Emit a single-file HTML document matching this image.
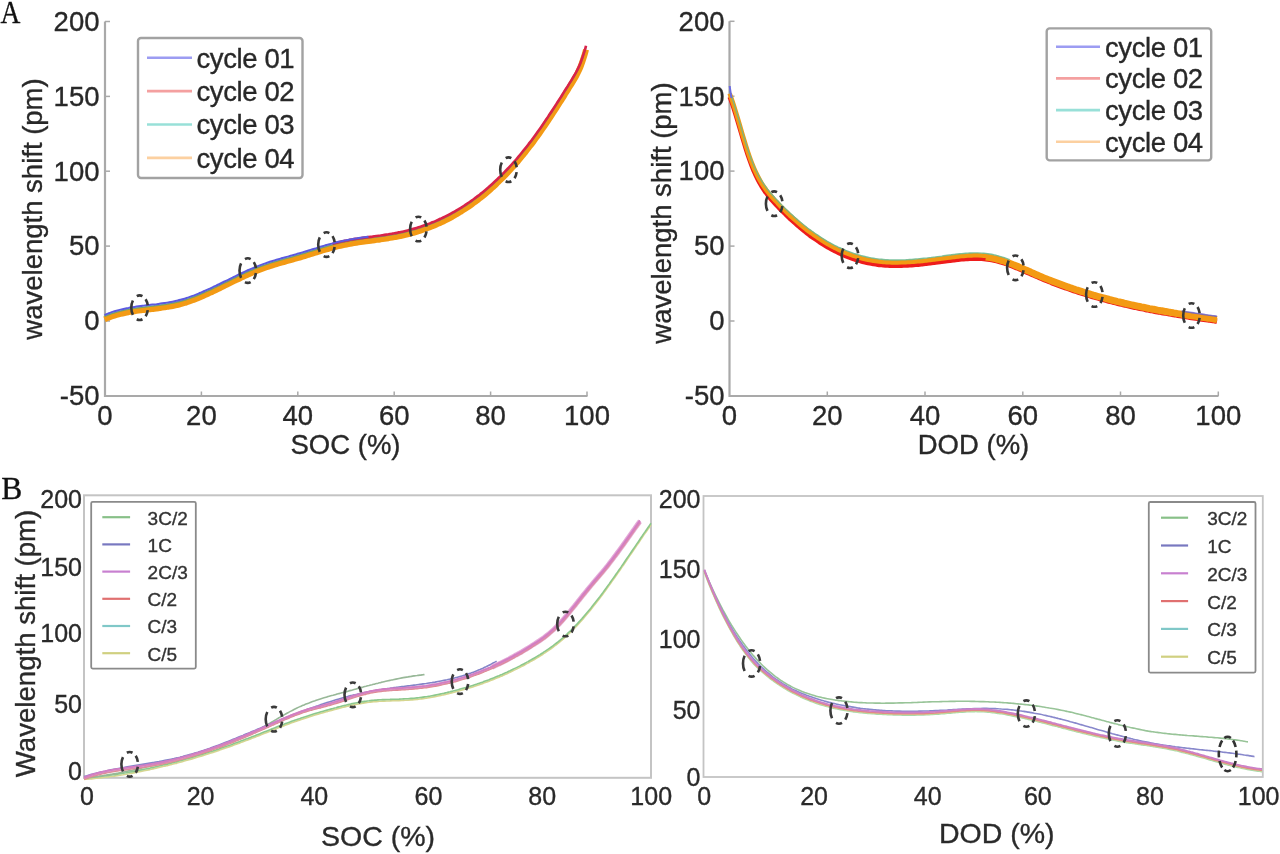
<!DOCTYPE html>
<html><head><meta charset="utf-8"><style>
html,body{margin:0;padding:0;background:#fff;width:1280px;height:854px;overflow:hidden}
svg{display:block;filter:blur(0.5px)}
</style></head><body>
<svg width="1280" height="854" viewBox="0 0 1280 854">
<rect width="1280" height="854" fill="#fff"/>
<g>
<path d="M105,21.5 V396 H587.5" fill="none" stroke="#a9a9a9" stroke-width="2.2"/>
<line x1="105" y1="21.5" x2="110" y2="21.5" stroke="#a9a9a9" stroke-width="1.5"/>
<line x1="105" y1="96.4" x2="110" y2="96.4" stroke="#a9a9a9" stroke-width="1.5"/>
<line x1="105" y1="171.2" x2="110" y2="171.2" stroke="#a9a9a9" stroke-width="1.5"/>
<line x1="105" y1="246.1" x2="110" y2="246.1" stroke="#a9a9a9" stroke-width="1.5"/>
<line x1="105" y1="321.0" x2="110" y2="321.0" stroke="#a9a9a9" stroke-width="1.5"/>
<line x1="201.4" y1="396" x2="201.4" y2="391.5" stroke="#a9a9a9" stroke-width="1.5"/>
<line x1="297.8" y1="396" x2="297.8" y2="391.5" stroke="#a9a9a9" stroke-width="1.5"/>
<line x1="394.2" y1="396" x2="394.2" y2="391.5" stroke="#a9a9a9" stroke-width="1.5"/>
<line x1="490.6" y1="396" x2="490.6" y2="391.5" stroke="#a9a9a9" stroke-width="1.5"/>
<line x1="587.0" y1="396" x2="587.0" y2="391.5" stroke="#a9a9a9" stroke-width="1.5"/>
<text x="99.5" y="30.8" font-family='"Liberation Sans", sans-serif' font-size="27.5" text-anchor="end" fill="#282828" stroke="#282828" stroke-width="0.35" >200</text>
<text x="99.5" y="105.7" font-family='"Liberation Sans", sans-serif' font-size="27.5" text-anchor="end" fill="#282828" stroke="#282828" stroke-width="0.35" >150</text>
<text x="99.5" y="180.5" font-family='"Liberation Sans", sans-serif' font-size="27.5" text-anchor="end" fill="#282828" stroke="#282828" stroke-width="0.35" >100</text>
<text x="99.5" y="255.4" font-family='"Liberation Sans", sans-serif' font-size="27.5" text-anchor="end" fill="#282828" stroke="#282828" stroke-width="0.35" >50</text>
<text x="99.5" y="330.3" font-family='"Liberation Sans", sans-serif' font-size="27.5" text-anchor="end" fill="#282828" stroke="#282828" stroke-width="0.35" >0</text>
<text x="99.5" y="405.2" font-family='"Liberation Sans", sans-serif' font-size="27.5" text-anchor="end" fill="#282828" stroke="#282828" stroke-width="0.35" >-50</text>
<text x="105.0" y="425.0" font-family='"Liberation Sans", sans-serif' font-size="27.5" text-anchor="middle" fill="#282828" stroke="#282828" stroke-width="0.35" >0</text>
<text x="201.4" y="425.0" font-family='"Liberation Sans", sans-serif' font-size="27.5" text-anchor="middle" fill="#282828" stroke="#282828" stroke-width="0.35" >20</text>
<text x="297.8" y="425.0" font-family='"Liberation Sans", sans-serif' font-size="27.5" text-anchor="middle" fill="#282828" stroke="#282828" stroke-width="0.35" >40</text>
<text x="394.2" y="425.0" font-family='"Liberation Sans", sans-serif' font-size="27.5" text-anchor="middle" fill="#282828" stroke="#282828" stroke-width="0.35" >60</text>
<text x="490.6" y="425.0" font-family='"Liberation Sans", sans-serif' font-size="27.5" text-anchor="middle" fill="#282828" stroke="#282828" stroke-width="0.35" >80</text>
<text x="587.0" y="425.0" font-family='"Liberation Sans", sans-serif' font-size="27.5" text-anchor="middle" fill="#282828" stroke="#282828" stroke-width="0.35" >100</text>
<text x="345.5" y="454.0" font-family='"Liberation Sans", sans-serif' font-size="27.5" text-anchor="middle" fill="#282828" stroke="#282828" stroke-width="0.35" >SOC (%)</text>
<text x="0.0" y="0.0" font-family='"Liberation Sans", sans-serif' font-size="27.5" text-anchor="middle" fill="#282828" stroke="#282828" stroke-width="0.35" transform="translate(41.6,209) rotate(-90)">wavelength shift (pm)</text>
</g>
<path d="M104.5,319.3 C105.2,319.0 107.2,318.2 108.5,317.6 C109.8,317.1 111.2,316.7 112.5,316.2 C113.8,315.8 115.2,315.4 116.5,315.0 C117.8,314.6 119.2,314.2 120.5,313.9 C121.8,313.6 123.2,313.3 124.5,313.0 C125.8,312.7 127.2,312.4 128.5,312.2 C129.8,311.9 131.2,311.7 132.5,311.5 C133.8,311.3 135.2,311.1 136.5,310.9 C137.8,310.7 139.2,310.5 140.5,310.3 C141.8,310.2 143.2,310.0 144.5,309.9 C145.8,309.7 147.2,309.5 148.5,309.4 C149.8,309.2 151.2,309.1 152.5,308.9 C153.8,308.8 155.2,308.6 156.5,308.5 C157.8,308.3 159.2,308.1 160.5,307.9 C161.8,307.8 163.2,307.6 164.5,307.4 C165.8,307.2 167.2,307.0 168.5,306.7 C169.8,306.5 171.2,306.3 172.5,306.0 C173.8,305.7 175.2,305.4 176.5,305.1 C177.8,304.8 179.2,304.5 180.5,304.1 C181.8,303.8 183.2,303.4 184.5,303.0 C185.8,302.6 187.2,302.1 188.5,301.7 C189.8,301.2 191.2,300.7 192.5,300.2 C193.8,299.8 195.2,299.2 196.5,298.7 C197.8,298.2 199.2,297.6 200.5,297.1 C201.8,296.5 203.2,295.9 204.5,295.3 C205.8,294.8 207.2,294.1 208.5,293.5 C209.8,292.9 211.2,292.3 212.5,291.7 C213.8,291.0 215.2,290.4 216.5,289.8 C217.8,289.1 219.2,288.5 220.5,287.8 C221.8,287.2 223.2,286.5 224.5,285.8 C225.8,285.2 227.2,284.5 228.5,283.9 C229.8,283.2 231.2,282.5 232.5,281.9 C233.8,281.2 235.2,280.6 236.5,279.9 C237.8,279.3 239.2,278.7 240.5,278.0 C241.8,277.4 243.2,276.8 244.5,276.1 C245.8,275.5 247.2,274.9 248.5,274.3 C249.8,273.7 251.2,273.2 252.5,272.6 C253.8,272.0 255.2,271.5 256.5,270.9 C257.8,270.4 259.2,269.9 260.5,269.4 C261.8,268.9 263.2,268.4 264.5,267.9 C265.8,267.5 267.2,267.0 268.5,266.6 C269.8,266.1 271.2,265.7 272.5,265.3 C273.8,264.9 275.2,264.5 276.5,264.1 C277.8,263.7 279.2,263.3 280.5,262.9 C281.8,262.5 283.2,262.2 284.5,261.8 C285.8,261.4 287.2,261.0 288.5,260.7 C289.8,260.3 291.2,259.9 292.5,259.6 C293.8,259.2 295.2,258.8 296.5,258.4 C297.8,258.0 299.2,257.7 300.5,257.3 C301.8,256.9 303.2,256.5 304.5,256.1 C305.8,255.7 307.2,255.3 308.5,254.8 C309.8,254.4 311.2,254.0 312.5,253.6 C313.8,253.2 315.2,252.8 316.5,252.4 C317.8,251.9 319.2,251.5 320.5,251.1 C321.8,250.7 323.2,250.3 324.5,249.9 C325.8,249.5 327.2,249.2 328.5,248.8 C329.8,248.4 331.2,248.0 332.5,247.7 C333.8,247.3 335.2,247.0 336.5,246.6 C337.8,246.3 339.2,246.0 340.5,245.7 C341.8,245.4 343.2,245.1 344.5,244.8 C345.8,244.6 347.2,244.3 348.5,244.1 C349.8,243.8 351.2,243.6 352.5,243.4 C353.8,243.1 355.2,242.9 356.5,242.7 C357.8,242.5 359.2,242.3 360.5,242.1 C361.8,241.9 363.2,241.7 364.5,241.5 C365.8,241.4 367.2,241.2 368.5,241.0 C369.8,240.8 371.2,240.6 372.5,240.5 C373.8,240.3 375.2,240.1 376.5,239.9 C377.8,239.7 379.2,239.5 380.5,239.4 C381.8,239.2 383.2,239.0 384.5,238.8 C385.8,238.6 387.2,238.4 388.5,238.2 C389.8,237.9 391.2,237.7 392.5,237.5 C393.8,237.3 395.2,237.0 396.5,236.8 C397.8,236.5 399.2,236.2 400.5,236.0 C401.8,235.7 403.2,235.4 404.5,235.1 C405.8,234.8 407.2,234.4 408.5,234.1 C409.8,233.8 411.2,233.4 412.5,233.0 C413.8,232.7 415.2,232.3 416.5,231.9 C417.8,231.5 419.2,231.0 420.5,230.6 C421.8,230.2 423.2,229.7 424.5,229.2 C425.8,228.8 427.2,228.3 428.5,227.8 C429.8,227.3 431.2,226.7 432.5,226.2 C433.8,225.7 435.2,225.1 436.5,224.5 C437.8,223.9 439.2,223.3 440.5,222.7 C441.8,222.1 443.2,221.5 444.5,220.8 C445.8,220.2 447.2,219.5 448.5,218.8 C449.8,218.1 451.2,217.4 452.5,216.6 C453.8,215.9 455.2,215.1 456.5,214.3 C457.8,213.6 459.2,212.8 460.5,211.9 C461.8,211.1 463.2,210.3 464.5,209.4 C465.8,208.5 467.2,207.6 468.5,206.7 C469.8,205.8 471.2,204.9 472.5,203.9 C473.8,202.9 475.2,201.9 476.5,200.9 C477.8,199.9 479.2,198.9 480.5,197.8 C481.8,196.8 483.2,195.7 484.5,194.6 C485.8,193.5 487.2,192.3 488.5,191.2 C489.8,190.0 491.2,188.8 492.5,187.6 C493.8,186.4 495.2,185.2 496.5,183.9 C497.8,182.6 499.2,181.3 500.5,180.0 C501.8,178.7 503.2,177.4 504.5,176.0 C505.8,174.6 507.2,173.2 508.5,171.8 C509.8,170.4 511.2,168.9 512.5,167.4 C513.8,165.9 515.2,164.4 516.5,162.9 C517.8,161.3 519.2,159.7 520.5,158.1 C521.8,156.5 523.2,154.9 524.5,153.2 C525.8,151.6 527.2,149.9 528.5,148.1 C529.8,146.4 531.2,144.7 532.5,142.9 C533.8,141.1 535.2,139.3 536.5,137.4 C537.8,135.6 539.2,133.7 540.5,131.8 C541.8,129.9 543.2,127.9 544.5,126.0 C545.8,124.0 547.2,122.0 548.5,120.0 C549.8,118.0 551.2,116.0 552.5,113.9 C553.8,111.9 555.2,109.8 556.5,107.8 C557.8,105.7 559.2,103.6 560.5,101.5 C561.8,99.4 563.2,97.3 564.5,95.1 C565.8,93.0 567.2,90.9 568.5,88.7 C569.8,86.6 571.2,84.5 572.5,82.2 C573.8,80.0 575.2,78.0 576.5,75.4 C577.8,72.8 579.2,70.2 580.5,66.9 C581.8,63.5 583.6,58.0 584.5,55.1 C585.4,52.3 585.8,50.5 586.0,49.6" fill="none" stroke="#f39a14" stroke-width="6" stroke-linecap="butt" stroke-linejoin="round" />
<path d="M104.5,316.4 C105.2,316.1 107.2,315.3 108.5,314.7 C109.8,314.2 111.2,313.8 112.5,313.3 C113.8,312.9 115.2,312.5 116.5,312.1 C117.8,311.7 119.2,311.3 120.5,311.0 C121.8,310.7 123.2,310.4 124.5,310.1 C125.8,309.8 127.2,309.5 128.5,309.3 C129.8,309.0 131.2,308.8 132.5,308.6 C133.8,308.4 135.2,308.2 136.5,308.0 C137.8,307.8 139.2,307.6 140.5,307.4 C141.8,307.3 143.2,307.1 144.5,307.0 C145.8,306.8 147.2,306.6 148.5,306.5 C149.8,306.3 151.2,306.2 152.5,306.0 C153.8,305.9 155.2,305.7 156.5,305.6 C157.8,305.4 159.2,305.2 160.5,305.0 C161.8,304.9 163.2,304.7 164.5,304.5 C165.8,304.3 167.2,304.1 168.5,303.8 C169.8,303.6 171.2,303.4 172.5,303.1 C173.8,302.8 175.2,302.5 176.5,302.2 C177.8,301.9 179.2,301.6 180.5,301.2 C181.8,300.9 183.2,300.5 184.5,300.1 C185.8,299.7 187.2,299.2 188.5,298.8 C189.8,298.3 191.2,297.8 192.5,297.3 C193.8,296.9 195.2,296.3 196.5,295.8 C197.8,295.3 199.2,294.7 200.5,294.2 C201.8,293.6 203.2,293.0 204.5,292.4 C205.8,291.9 207.2,291.2 208.5,290.6 C209.8,290.0 211.2,289.4 212.5,288.8 C213.8,288.1 215.2,287.5 216.5,286.9 C217.8,286.2 219.2,285.6 220.5,284.9 C221.8,284.3 223.2,283.6 224.5,282.9 C225.8,282.3 227.2,281.6 228.5,281.0 C229.8,280.3 231.2,279.6 232.5,279.0 C233.8,278.3 235.2,277.7 236.5,277.0 C237.8,276.4 239.2,275.8 240.5,275.1 C241.8,274.5 243.2,273.9 244.5,273.2 C245.8,272.6 247.2,272.0 248.5,271.4 C249.8,270.8 251.2,270.3 252.5,269.7 C253.8,269.1 255.2,268.6 256.5,268.0 C257.8,267.5 259.2,267.0 260.5,266.5 C261.8,266.0 263.2,265.5 264.5,265.0 C265.8,264.6 267.2,264.1 268.5,263.7 C269.8,263.2 271.2,262.8 272.5,262.4 C273.8,262.0 275.2,261.6 276.5,261.2 C277.8,260.8 279.2,260.4 280.5,260.0 C281.8,259.6 283.2,259.3 284.5,258.9 C285.8,258.5 287.2,258.1 288.5,257.8 C289.8,257.4 291.2,257.0 292.5,256.7 C293.8,256.3 295.2,255.9 296.5,255.5 C297.8,255.1 299.2,254.8 300.5,254.4 C301.8,254.0 303.2,253.6 304.5,253.2 C305.8,252.8 307.2,252.4 308.5,251.9 C309.8,251.5 311.2,251.1 312.5,250.7 C313.8,250.3 315.2,249.9 316.5,249.5 C317.8,249.0 319.2,248.6 320.5,248.2 C321.8,247.8 323.2,247.4 324.5,247.0 C325.8,246.6 327.2,246.3 328.5,245.9 C329.8,245.5 331.2,245.1 332.5,244.8 C333.8,244.4 335.2,244.1 336.5,243.7 C337.8,243.4 339.2,243.1 340.5,242.8 C341.8,242.5 343.2,242.2 344.5,241.9 C345.8,241.7 347.2,241.4 348.5,241.2 C349.8,240.9 351.2,240.7 352.5,240.5 C353.8,240.2 355.2,240.0 356.5,239.8 C357.8,239.6 359.2,239.4 360.5,239.2 C361.8,239.0 363.2,238.8 364.5,238.6 C365.8,238.5 367.2,238.3 368.5,238.1 C369.8,237.9 371.2,237.7 372.5,237.6 C373.8,237.4 375.2,237.2 376.5,237.0 C377.8,236.8 379.2,236.6 380.5,236.5 C381.8,236.3 383.2,236.1 384.5,235.9 C385.8,235.7 387.2,235.5 388.5,235.3 C389.8,235.0 391.2,234.8 392.5,234.6 C393.8,234.4 395.2,234.1 396.5,233.9 C397.8,233.6 399.2,233.3 400.5,233.1 C401.8,232.8 403.2,232.5 404.5,232.2 C405.8,231.9 407.2,231.5 408.5,231.2 C409.8,230.9 411.2,230.5 412.5,230.1 C413.8,229.8 415.2,229.4 416.5,229.0 C417.8,228.6 419.2,228.1 420.5,227.7 C421.8,227.3 423.2,226.8 424.5,226.3 C425.8,225.9 427.2,225.4 428.5,224.9 C429.8,224.4 431.2,223.8 432.5,223.3 C433.8,222.8 435.2,222.2 436.5,221.6 C437.8,221.0 439.2,220.4 440.5,219.8 C441.8,219.2 443.2,218.6 444.5,217.9 C445.8,217.3 447.2,216.6 448.5,215.9 C449.8,215.2 451.2,214.5 452.5,213.7 C453.8,213.0 455.2,212.2 456.5,211.4 C457.8,210.7 459.2,209.9 460.5,209.0 C461.8,208.2 463.2,207.4 464.5,206.5 C465.8,205.6 467.2,204.7 468.5,203.8 C469.8,202.9 471.2,202.0 472.5,201.0 C473.8,200.0 475.2,199.0 476.5,198.0 C477.8,197.0 479.2,196.0 480.5,194.9 C481.8,193.9 483.2,192.8 484.5,191.7 C485.8,190.6 487.2,189.4 488.5,188.3 C489.8,187.1 491.2,185.9 492.5,184.7 C493.8,183.5 495.2,182.3 496.5,181.0 C497.8,179.7 499.2,178.4 500.5,177.1 C501.8,175.8 503.2,174.5 504.5,173.1 C505.8,171.7 507.2,170.3 508.5,168.9 C509.8,167.5 511.2,166.0 512.5,164.5 C513.8,163.0 515.2,161.5 516.5,160.0 C517.8,158.4 519.2,156.8 520.5,155.2 C521.8,153.6 523.2,152.0 524.5,150.3 C525.8,148.7 527.2,147.0 528.5,145.2 C529.8,143.5 531.2,141.8 532.5,140.0 C533.8,138.2 535.2,136.4 536.5,134.5 C537.8,132.7 539.2,130.8 540.5,128.9 C541.8,127.0 543.2,125.0 544.5,123.1 C545.8,121.1 547.2,119.1 548.5,117.1 C549.8,115.1 551.2,113.1 552.5,111.0 C553.8,109.0 555.2,106.9 556.5,104.9 C557.8,102.8 559.2,100.7 560.5,98.6 C561.8,96.5 563.2,94.4 564.5,92.2 C565.8,90.1 567.2,88.0 568.5,85.8 C569.8,83.7 571.2,81.6 572.5,79.3 C573.8,77.1 575.2,75.1 576.5,72.5 C577.8,69.9 579.2,67.3 580.5,64.0 C581.8,60.6 583.6,55.1 584.5,52.2 C585.4,49.4 585.8,47.6 586.0,46.7" fill="none" stroke="#5aa870" stroke-width="1.5" stroke-linecap="butt" stroke-linejoin="round" opacity="0.8"/>
<path d="M332.5,243.8 C333.2,243.6 335.2,243.1 336.5,242.7 C337.8,242.4 339.2,242.1 340.5,241.8 C341.8,241.5 343.2,241.2 344.5,240.9 C345.8,240.7 347.2,240.4 348.5,240.2 C349.8,239.9 351.2,239.7 352.5,239.5 C353.8,239.2 355.2,239.0 356.5,238.8 C357.8,238.6 359.2,238.4 360.5,238.2 C361.8,238.0 363.2,237.8 364.5,237.6 C365.8,237.5 367.2,237.3 368.5,237.1 C369.8,236.9 371.2,236.7 372.5,236.6 C373.8,236.4 375.2,236.2 376.5,236.0 C377.8,235.8 379.2,235.6 380.5,235.5 C381.8,235.3 383.2,235.1 384.5,234.9 C385.8,234.7 387.2,234.5 388.5,234.3 C389.8,234.0 391.2,233.8 392.5,233.6 C393.8,233.4 395.2,233.1 396.5,232.9 C397.8,232.6 399.2,232.3 400.5,232.1 C401.8,231.8 403.2,231.5 404.5,231.2 C405.8,230.9 407.2,230.5 408.5,230.2 C409.8,229.9 411.2,229.5 412.5,229.1 C413.8,228.8 415.2,228.4 416.5,228.0 C417.8,227.6 419.2,227.1 420.5,226.7 C421.8,226.3 423.2,225.8 424.5,225.3 C425.8,224.9 427.2,224.4 428.5,223.9 C429.8,223.4 431.2,222.8 432.5,222.3 C433.8,221.8 435.2,221.2 436.5,220.6 C437.8,220.0 439.2,219.4 440.5,218.8 C441.8,218.2 443.2,217.6 444.5,216.9 C445.8,216.3 447.2,215.6 448.5,214.9 C449.8,214.2 451.2,213.5 452.5,212.7 C453.8,212.0 455.2,211.2 456.5,210.4 C457.8,209.7 459.2,208.9 460.5,208.0 C461.8,207.2 463.2,206.4 464.5,205.5 C465.8,204.6 467.2,203.7 468.5,202.8 C469.8,201.9 471.2,201.0 472.5,200.0 C473.8,199.0 475.2,198.0 476.5,197.0 C477.8,196.0 479.2,195.0 480.5,193.9 C481.8,192.9 483.2,191.8 484.5,190.7 C485.8,189.6 487.2,188.4 488.5,187.3 C489.8,186.1 491.2,184.9 492.5,183.7 C493.8,182.5 495.2,181.3 496.5,180.0 C497.8,178.7 499.2,177.4 500.5,176.1 C501.8,174.8 503.2,173.5 504.5,172.1 C505.8,170.7 507.2,169.3 508.5,167.9 C509.8,166.5 511.2,165.0 512.5,163.5 C513.8,162.0 515.2,160.5 516.5,159.0 C517.8,157.4 519.2,155.8 520.5,154.2 C521.8,152.6 523.2,151.0 524.5,149.3 C525.8,147.7 527.2,146.0 528.5,144.2 C529.8,142.5 531.2,140.8 532.5,139.0 C533.8,137.2 535.2,135.4 536.5,133.5 C537.8,131.7 539.2,129.8 540.5,127.9 C541.8,126.0 543.2,124.0 544.5,122.1 C545.8,120.1 547.2,118.1 548.5,116.1 C549.8,114.1 551.2,112.1 552.5,110.0 C553.8,108.0 555.2,105.9 556.5,103.9 C557.8,101.8 559.2,99.7 560.5,97.6 C561.8,95.5 563.2,93.4 564.5,91.2 C565.8,89.1 567.2,87.0 568.5,84.8 C569.8,82.7 571.2,80.6 572.5,78.3 C573.8,76.1 575.2,74.1 576.5,71.5 C577.8,68.9 579.2,66.3 580.5,63.0 C581.8,59.6 583.6,54.1 584.5,51.2 C585.4,48.4 585.8,46.6 586.0,45.7" fill="none" stroke="#d8234a" stroke-width="2.6" stroke-linecap="butt" stroke-linejoin="round" />
<path d="M104.5,315.0 C105.2,314.7 107.2,313.9 108.5,313.3 C109.8,312.8 111.2,312.4 112.5,311.9 C113.8,311.5 115.2,311.1 116.5,310.7 C117.8,310.3 119.2,309.9 120.5,309.6 C121.8,309.3 123.2,309.0 124.5,308.7 C125.8,308.4 127.2,308.1 128.5,307.9 C129.8,307.6 131.2,307.4 132.5,307.2 C133.8,307.0 135.2,306.8 136.5,306.6 C137.8,306.4 139.2,306.2 140.5,306.0 C141.8,305.9 143.2,305.7 144.5,305.6 C145.8,305.4 147.2,305.2 148.5,305.1 C149.8,304.9 151.2,304.8 152.5,304.6 C153.8,304.5 155.2,304.3 156.5,304.2 C157.8,304.0 159.2,303.8 160.5,303.6 C161.8,303.5 163.2,303.3 164.5,303.1 C165.8,302.9 167.2,302.7 168.5,302.4 C169.8,302.2 171.2,302.0 172.5,301.7 C173.8,301.4 175.2,301.1 176.5,300.8 C177.8,300.5 179.2,300.2 180.5,299.8 C181.8,299.5 183.2,299.1 184.5,298.7 C185.8,298.3 187.2,297.8 188.5,297.4 C189.8,296.9 191.2,296.4 192.5,295.9 C193.8,295.5 195.2,294.9 196.5,294.4 C197.8,293.9 199.2,293.3 200.5,292.8 C201.8,292.2 203.2,291.6 204.5,291.0 C205.8,290.5 207.2,289.8 208.5,289.2 C209.8,288.6 211.2,288.0 212.5,287.4 C213.8,286.7 215.2,286.1 216.5,285.5 C217.8,284.8 219.2,284.2 220.5,283.5 C221.8,282.9 223.2,282.2 224.5,281.5 C225.8,280.9 227.2,280.2 228.5,279.6 C229.8,278.9 231.2,278.2 232.5,277.6 C233.8,276.9 235.2,276.3 236.5,275.6 C237.8,275.0 239.2,274.4 240.5,273.7 C241.8,273.1 243.2,272.5 244.5,271.8 C245.8,271.2 247.2,270.6 248.5,270.0 C249.8,269.4 251.2,268.9 252.5,268.3 C253.8,267.7 255.2,267.2 256.5,266.6 C257.8,266.1 259.2,265.6 260.5,265.1 C261.8,264.6 263.2,264.1 264.5,263.6 C265.8,263.2 267.2,262.7 268.5,262.3 C269.8,261.8 271.2,261.4 272.5,261.0 C273.8,260.6 275.2,260.2 276.5,259.8 C277.8,259.4 279.2,259.0 280.5,258.6 C281.8,258.2 283.2,257.9 284.5,257.5 C285.8,257.1 287.2,256.7 288.5,256.4 C289.8,256.0 291.2,255.6 292.5,255.3 C293.8,254.9 295.2,254.5 296.5,254.1 C297.8,253.7 299.2,253.4 300.5,253.0 C301.8,252.6 303.2,252.2 304.5,251.8 C305.8,251.4 307.2,251.0 308.5,250.5 C309.8,250.1 311.2,249.7 312.5,249.3 C313.8,248.9 315.2,248.5 316.5,248.1 C317.8,247.6 319.2,247.2 320.5,246.8 C321.8,246.4 323.2,246.0 324.5,245.6 C325.8,245.2 327.2,244.9 328.5,244.5 C329.8,244.1 331.2,243.7 332.5,243.4 C333.8,243.0 335.2,242.7 336.5,242.3 C337.8,242.0 339.2,241.7 340.5,241.4 C341.8,241.1 343.2,240.8 344.5,240.5 C345.8,240.3 347.2,240.0 348.5,239.8 C349.8,239.5 351.2,239.3 352.5,239.1 C353.8,238.8 355.2,238.6 356.5,238.4 C357.8,238.2 359.2,238.0 360.5,237.8 C361.8,237.6 363.2,237.4 364.5,237.2 C365.8,237.1 367.8,236.8 368.5,236.7" fill="none" stroke="#5a5ae0" stroke-width="2.0" stroke-linecap="butt" stroke-linejoin="round" />
<ellipse cx="139.6" cy="307.7" rx="8.3" ry="12.3" fill="none" stroke="#383838" stroke-width="2.6" pathLength="66" stroke-dasharray="0 2.5 6.5 4.5 6 6 15 6 6 4.5 6.5 2.5"/>
<ellipse cx="247.8" cy="270.6" rx="8.3" ry="12.3" fill="none" stroke="#383838" stroke-width="2.6" pathLength="66" stroke-dasharray="0 2.5 6.5 4.5 6 6 15 6 6 4.5 6.5 2.5"/>
<ellipse cx="326.5" cy="244.6" rx="8.3" ry="12.3" fill="none" stroke="#383838" stroke-width="2.6" pathLength="66" stroke-dasharray="0 2.5 6.5 4.5 6 6 15 6 6 4.5 6.5 2.5"/>
<ellipse cx="418.4" cy="229.0" rx="8.3" ry="12.3" fill="none" stroke="#383838" stroke-width="2.6" pathLength="66" stroke-dasharray="0 2.5 6.5 4.5 6 6 15 6 6 4.5 6.5 2.5"/>
<ellipse cx="508.5" cy="169.7" rx="8.3" ry="12.3" fill="none" stroke="#383838" stroke-width="2.6" pathLength="66" stroke-dasharray="0 2.5 6.5 4.5 6 6 15 6 6 4.5 6.5 2.5"/>
<rect x="138" y="38" width="164.5" height="140" rx="3" fill="#fff" stroke="#a2a2a2" stroke-width="2.4"/>
<line x1="147" y1="57.7" x2="192" y2="57.7" stroke="#9c9cf2" stroke-width="2.6"/>
<text x="196.5" y="67.5" font-family='"Liberation Sans", sans-serif' font-size="27.5" text-anchor="start" fill="#282828" stroke="#282828" stroke-width="0.35" letter-spacing="-0.4">cycle 01</text>
<line x1="147" y1="91.1" x2="192" y2="91.1" stroke="#f4a0a0" stroke-width="2.6"/>
<text x="196.5" y="100.9" font-family='"Liberation Sans", sans-serif' font-size="27.5" text-anchor="start" fill="#282828" stroke="#282828" stroke-width="0.35" letter-spacing="-0.4">cycle 02</text>
<line x1="147" y1="124.5" x2="192" y2="124.5" stroke="#98e0d8" stroke-width="2.6"/>
<text x="196.5" y="134.3" font-family='"Liberation Sans", sans-serif' font-size="27.5" text-anchor="start" fill="#282828" stroke="#282828" stroke-width="0.35" letter-spacing="-0.4">cycle 03</text>
<line x1="147" y1="157.9" x2="192" y2="157.9" stroke="#fcd0a0" stroke-width="2.6"/>
<text x="196.5" y="167.7" font-family='"Liberation Sans", sans-serif' font-size="27.5" text-anchor="start" fill="#282828" stroke="#282828" stroke-width="0.35" letter-spacing="-0.4">cycle 04</text>
<path d="M729.5,21.3 V396 H1218.5" fill="none" stroke="#a9a9a9" stroke-width="2.2"/>
<line x1="729.5" y1="21.3" x2="734.5" y2="21.3" stroke="#a9a9a9" stroke-width="1.5"/>
<line x1="729.5" y1="96.2" x2="734.5" y2="96.2" stroke="#a9a9a9" stroke-width="1.5"/>
<line x1="729.5" y1="171.1" x2="734.5" y2="171.1" stroke="#a9a9a9" stroke-width="1.5"/>
<line x1="729.5" y1="246.1" x2="734.5" y2="246.1" stroke="#a9a9a9" stroke-width="1.5"/>
<line x1="729.5" y1="321.0" x2="734.5" y2="321.0" stroke="#a9a9a9" stroke-width="1.5"/>
<line x1="827.3" y1="396" x2="827.3" y2="391.5" stroke="#a9a9a9" stroke-width="1.5"/>
<line x1="925.0" y1="396" x2="925.0" y2="391.5" stroke="#a9a9a9" stroke-width="1.5"/>
<line x1="1022.8" y1="396" x2="1022.8" y2="391.5" stroke="#a9a9a9" stroke-width="1.5"/>
<line x1="1120.5" y1="396" x2="1120.5" y2="391.5" stroke="#a9a9a9" stroke-width="1.5"/>
<line x1="1218.3" y1="396" x2="1218.3" y2="391.5" stroke="#a9a9a9" stroke-width="1.5"/>
<text x="724.5" y="30.6" font-family='"Liberation Sans", sans-serif' font-size="27.5" text-anchor="end" fill="#282828" stroke="#282828" stroke-width="0.35" >200</text>
<text x="724.5" y="105.5" font-family='"Liberation Sans", sans-serif' font-size="27.5" text-anchor="end" fill="#282828" stroke="#282828" stroke-width="0.35" >150</text>
<text x="724.5" y="180.4" font-family='"Liberation Sans", sans-serif' font-size="27.5" text-anchor="end" fill="#282828" stroke="#282828" stroke-width="0.35" >100</text>
<text x="724.5" y="255.4" font-family='"Liberation Sans", sans-serif' font-size="27.5" text-anchor="end" fill="#282828" stroke="#282828" stroke-width="0.35" >50</text>
<text x="724.5" y="330.3" font-family='"Liberation Sans", sans-serif' font-size="27.5" text-anchor="end" fill="#282828" stroke="#282828" stroke-width="0.35" >0</text>
<text x="724.5" y="405.2" font-family='"Liberation Sans", sans-serif' font-size="27.5" text-anchor="end" fill="#282828" stroke="#282828" stroke-width="0.35" >-50</text>
<text x="729.5" y="425.0" font-family='"Liberation Sans", sans-serif' font-size="27.5" text-anchor="middle" fill="#282828" stroke="#282828" stroke-width="0.35" >0</text>
<text x="827.3" y="425.0" font-family='"Liberation Sans", sans-serif' font-size="27.5" text-anchor="middle" fill="#282828" stroke="#282828" stroke-width="0.35" >20</text>
<text x="925.0" y="425.0" font-family='"Liberation Sans", sans-serif' font-size="27.5" text-anchor="middle" fill="#282828" stroke="#282828" stroke-width="0.35" >40</text>
<text x="1022.8" y="425.0" font-family='"Liberation Sans", sans-serif' font-size="27.5" text-anchor="middle" fill="#282828" stroke="#282828" stroke-width="0.35" >60</text>
<text x="1120.5" y="425.0" font-family='"Liberation Sans", sans-serif' font-size="27.5" text-anchor="middle" fill="#282828" stroke="#282828" stroke-width="0.35" >80</text>
<text x="1218.3" y="425.0" font-family='"Liberation Sans", sans-serif' font-size="27.5" text-anchor="middle" fill="#282828" stroke="#282828" stroke-width="0.35" >100</text>
<text x="973.5" y="454.0" font-family='"Liberation Sans", sans-serif' font-size="27.5" text-anchor="middle" fill="#282828" stroke="#282828" stroke-width="0.35" >DOD (%)</text>
<text x="0.0" y="0.0" font-family='"Liberation Sans", sans-serif' font-size="27.5" text-anchor="middle" fill="#282828" stroke="#282828" stroke-width="0.35" transform="translate(671.3,213) rotate(-90)">wavelength shift (pm)</text>
<path d="M729.7,96.9 C730.4,98.9 732.4,104.4 733.7,108.5 C735.0,112.6 736.4,117.1 737.7,121.6 C739.0,126.0 740.4,130.7 741.7,135.2 C743.0,139.7 744.4,144.2 745.7,148.5 C747.0,152.7 748.4,156.9 749.7,160.6 C751.0,164.4 752.4,167.8 753.7,171.0 C755.0,174.1 756.4,176.9 757.7,179.5 C759.0,182.2 760.4,184.5 761.7,186.7 C763.0,188.8 764.4,190.8 765.7,192.6 C767.0,194.5 768.4,196.1 769.7,197.8 C771.0,199.4 772.4,200.8 773.7,202.3 C775.0,203.8 776.4,205.2 777.7,206.6 C779.0,208.0 780.4,209.4 781.7,210.8 C783.0,212.1 784.4,213.4 785.7,214.7 C787.0,216.0 788.4,217.3 789.7,218.6 C791.0,219.8 792.4,221.0 793.7,222.2 C795.0,223.4 796.4,224.6 797.7,225.7 C799.0,226.9 800.4,228.0 801.7,229.1 C803.0,230.2 804.4,231.3 805.7,232.3 C807.0,233.4 808.4,234.4 809.7,235.4 C811.0,236.4 812.4,237.3 813.7,238.3 C815.0,239.2 816.4,240.2 817.7,241.0 C819.0,241.9 820.4,242.8 821.7,243.7 C823.0,244.5 824.4,245.3 825.7,246.1 C827.0,246.9 828.4,247.7 829.7,248.4 C831.0,249.2 832.4,249.9 833.7,250.6 C835.0,251.3 836.4,251.9 837.7,252.6 C839.0,253.2 840.4,253.9 841.7,254.5 C843.0,255.0 844.4,255.6 845.7,256.2 C847.0,256.7 848.4,257.2 849.7,257.7 C851.0,258.2 852.4,258.7 853.7,259.2 C855.0,259.6 856.4,260.0 857.7,260.4 C859.0,260.8 860.4,261.2 861.7,261.6 C863.0,261.9 864.4,262.3 865.7,262.6 C867.0,262.9 868.4,263.2 869.7,263.4 C871.0,263.7 872.4,263.9 873.7,264.1 C875.0,264.3 876.4,264.5 877.7,264.7 C879.0,264.9 880.4,265.0 881.7,265.1 C883.0,265.3 884.4,265.4 885.7,265.5 C887.0,265.6 888.4,265.6 889.7,265.7 C891.0,265.7 892.4,265.8 893.7,265.8 C895.0,265.8 896.4,265.8 897.7,265.8 C899.0,265.8 900.4,265.8 901.7,265.7 C903.0,265.7 904.4,265.6 905.7,265.6 C907.0,265.5 908.4,265.4 909.7,265.3 C911.0,265.3 912.4,265.2 913.7,265.0 C915.0,264.9 916.4,264.8 917.7,264.7 C919.0,264.6 920.4,264.4 921.7,264.3 C923.0,264.2 924.4,264.0 925.7,263.9 C927.0,263.7 928.4,263.6 929.7,263.4 C931.0,263.2 932.4,263.1 933.7,262.9 C935.0,262.7 936.4,262.6 937.7,262.4 C939.0,262.2 940.4,262.0 941.7,261.9 C943.0,261.7 944.4,261.5 945.7,261.3 C947.0,261.2 948.4,261.0 949.7,260.8 C951.0,260.6 952.4,260.5 953.7,260.3 C955.0,260.1 956.4,260.0 957.7,259.8 C959.0,259.7 960.4,259.5 961.7,259.4 C963.0,259.3 964.4,259.2 965.7,259.1 C967.0,259.0 968.4,258.9 969.7,258.8 C971.0,258.8 972.4,258.7 973.7,258.7 C975.0,258.7 976.4,258.7 977.7,258.7 C979.0,258.7 980.4,258.8 981.7,258.9 C983.0,259.0 984.4,259.1 985.7,259.2 C987.0,259.4 988.4,259.6 989.7,259.8 C991.0,260.0 992.4,260.3 993.7,260.6 C995.0,260.8 996.4,261.2 997.7,261.5 C999.0,261.9 1000.4,262.3 1001.7,262.7 C1003.0,263.1 1004.4,263.5 1005.7,264.0 C1007.0,264.4 1008.4,264.9 1009.7,265.4 C1011.0,265.9 1012.4,266.4 1013.7,267.0 C1015.0,267.5 1016.4,268.0 1017.7,268.6 C1019.0,269.2 1020.4,269.7 1021.7,270.3 C1023.0,270.9 1024.4,271.5 1025.7,272.1 C1027.0,272.6 1028.4,273.2 1029.7,273.8 C1031.0,274.4 1032.4,275.0 1033.7,275.6 C1035.0,276.2 1036.4,276.8 1037.7,277.3 C1039.0,277.9 1040.4,278.5 1041.7,279.0 C1043.0,279.6 1044.4,280.2 1045.7,280.7 C1047.0,281.2 1048.4,281.8 1049.7,282.3 C1051.0,282.8 1052.4,283.4 1053.7,283.9 C1055.0,284.4 1056.4,284.9 1057.7,285.4 C1059.0,285.9 1060.4,286.4 1061.7,286.9 C1063.0,287.4 1064.4,287.9 1065.7,288.3 C1067.0,288.8 1068.4,289.3 1069.7,289.7 C1071.0,290.2 1072.4,290.6 1073.7,291.1 C1075.0,291.5 1076.4,292.0 1077.7,292.4 C1079.0,292.9 1080.4,293.3 1081.7,293.7 C1083.0,294.1 1084.4,294.5 1085.7,295.0 C1087.0,295.4 1088.4,295.8 1089.7,296.2 C1091.0,296.6 1092.4,297.0 1093.7,297.4 C1095.0,297.7 1096.4,298.1 1097.7,298.5 C1099.0,298.9 1100.4,299.2 1101.7,299.6 C1103.0,300.0 1104.4,300.3 1105.7,300.7 C1107.0,301.1 1108.4,301.4 1109.7,301.8 C1111.0,302.1 1112.4,302.4 1113.7,302.8 C1115.0,303.1 1116.4,303.4 1117.7,303.8 C1119.0,304.1 1120.4,304.4 1121.7,304.7 C1123.0,305.1 1124.4,305.4 1125.7,305.7 C1127.0,306.0 1128.4,306.3 1129.7,306.6 C1131.0,306.9 1132.4,307.2 1133.7,307.5 C1135.0,307.8 1136.4,308.0 1137.7,308.3 C1139.0,308.6 1140.4,308.9 1141.7,309.2 C1143.0,309.4 1144.4,309.7 1145.7,310.0 C1147.0,310.3 1148.4,310.5 1149.7,310.8 C1151.0,311.0 1152.4,311.3 1153.7,311.5 C1155.0,311.8 1156.4,312.1 1157.7,312.3 C1159.0,312.5 1160.4,312.8 1161.7,313.0 C1163.0,313.3 1164.4,313.5 1165.7,313.7 C1167.0,314.0 1168.4,314.2 1169.7,314.4 C1171.0,314.7 1172.4,314.9 1173.7,315.1 C1175.0,315.3 1176.4,315.6 1177.7,315.8 C1179.0,316.0 1180.4,316.2 1181.7,316.4 C1183.0,316.6 1184.4,316.9 1185.7,317.1 C1187.0,317.3 1188.4,317.5 1189.7,317.7 C1191.0,317.9 1192.4,318.1 1193.7,318.3 C1195.0,318.5 1196.4,318.7 1197.7,318.9 C1199.0,319.1 1200.4,319.3 1201.7,319.5 C1203.0,319.7 1204.4,319.9 1205.7,320.1 C1207.0,320.3 1208.4,320.4 1209.7,320.6 C1211.0,320.8 1212.5,321.0 1213.7,321.2 C1214.9,321.4 1216.5,321.6 1217.0,321.7" fill="none" stroke="#ee1c1c" stroke-width="4.4" stroke-linecap="butt" stroke-linejoin="round" />
<path d="M729.7,93.5 C730.4,95.5 732.4,101.0 733.7,105.1 C735.0,109.2 736.4,113.7 737.7,118.2 C739.0,122.6 740.4,127.3 741.7,131.8 C743.0,136.3 744.4,140.8 745.7,145.1 C747.0,149.3 748.4,153.5 749.7,157.2 C751.0,161.0 752.4,164.4 753.7,167.6 C755.0,170.7 756.4,173.5 757.7,176.1 C759.0,178.8 760.4,181.1 761.7,183.3 C763.0,185.4 764.4,187.4 765.7,189.2 C767.0,191.1 768.4,192.7 769.7,194.4 C771.0,196.0 772.4,197.4 773.7,198.9 C775.0,200.4 776.4,201.8 777.7,203.2 C779.0,204.6 780.4,206.0 781.7,207.4 C783.0,208.7 784.4,210.0 785.7,211.3 C787.0,212.6 788.4,213.9 789.7,215.2 C791.0,216.4 792.4,217.6 793.7,218.8 C795.0,220.0 796.4,221.2 797.7,222.3 C799.0,223.5 800.4,224.6 801.7,225.7 C803.0,226.8 804.4,227.9 805.7,228.9 C807.0,230.0 808.4,231.0 809.7,232.0 C811.0,233.0 812.4,233.9 813.7,234.9 C815.0,235.8 816.4,236.8 817.7,237.6 C819.0,238.5 820.4,239.4 821.7,240.3 C823.0,241.1 824.4,241.9 825.7,242.7 C827.0,243.5 828.4,244.3 829.7,245.0 C831.0,245.8 832.4,246.5 833.7,247.2 C835.0,247.9 836.4,248.5 837.7,249.2 C839.0,249.8 840.4,250.5 841.7,251.1 C843.0,251.6 844.4,252.2 845.7,252.8 C847.0,253.3 848.4,253.8 849.7,254.3 C851.0,254.8 852.4,255.3 853.7,255.8 C855.0,256.2 856.4,256.6 857.7,257.0 C859.0,257.4 860.4,257.8 861.7,258.2 C863.0,258.5 864.4,258.9 865.7,259.2 C867.0,259.5 868.4,259.8 869.7,260.0 C871.0,260.3 872.4,260.5 873.7,260.7 C875.0,260.9 876.4,261.1 877.7,261.3 C879.0,261.5 880.4,261.6 881.7,261.7 C883.0,261.9 884.4,262.0 885.7,262.1 C887.0,262.2 888.4,262.2 889.7,262.3 C891.0,262.3 892.4,262.4 893.7,262.4 C895.0,262.4 896.4,262.4 897.7,262.4 C899.0,262.4 900.4,262.4 901.7,262.3 C903.0,262.3 904.4,262.2 905.7,262.2 C907.0,262.1 908.4,262.0 909.7,261.9 C911.0,261.9 912.4,261.8 913.7,261.6 C915.0,261.5 916.4,261.4 917.7,261.3 C919.0,261.2 920.4,261.0 921.7,260.9 C923.0,260.8 924.4,260.6 925.7,260.5 C927.0,260.3 928.4,260.2 929.7,260.0 C931.0,259.8 932.4,259.7 933.7,259.5 C935.0,259.3 936.4,259.2 937.7,259.0 C939.0,258.8 940.4,258.6 941.7,258.5 C943.0,258.3 944.4,258.1 945.7,257.9 C947.0,257.8 948.4,257.6 949.7,257.4 C951.0,257.2 952.4,257.1 953.7,256.9 C955.0,256.7 956.4,256.6 957.7,256.4 C959.0,256.3 960.4,256.1 961.7,256.0 C963.0,255.9 964.4,255.8 965.7,255.7 C967.0,255.6 968.4,255.5 969.7,255.4 C971.0,255.4 972.4,255.3 973.7,255.3 C975.0,255.3 976.4,255.3 977.7,255.3 C979.0,255.3 980.4,255.4 981.7,255.5 C983.0,255.6 984.4,255.7 985.7,255.8 C987.0,256.0 988.4,256.2 989.7,256.4 C991.0,256.6 992.4,256.9 993.7,257.2 C995.0,257.4 996.4,257.8 997.7,258.1 C999.0,258.5 1000.4,258.9 1001.7,259.3 C1003.0,259.7 1004.4,260.1 1005.7,260.6 C1007.0,261.0 1008.4,261.5 1009.7,262.0 C1011.0,262.5 1012.4,263.0 1013.7,263.6 C1015.0,264.1 1016.4,264.6 1017.7,265.2 C1019.0,265.8 1020.4,266.3 1021.7,266.9 C1023.0,267.5 1024.4,268.1 1025.7,268.7 C1027.0,269.2 1028.4,269.8 1029.7,270.4 C1031.0,271.0 1032.4,271.6 1033.7,272.2 C1035.0,272.8 1036.4,273.4 1037.7,273.9 C1039.0,274.5 1040.4,275.1 1041.7,275.6 C1043.0,276.2 1044.4,276.8 1045.7,277.3 C1047.0,277.8 1048.4,278.4 1049.7,278.9 C1051.0,279.4 1052.4,280.0 1053.7,280.5 C1055.0,281.0 1056.4,281.5 1057.7,282.0 C1059.0,282.5 1060.4,283.0 1061.7,283.5 C1063.0,284.0 1064.4,284.5 1065.7,284.9 C1067.0,285.4 1068.4,285.9 1069.7,286.3 C1071.0,286.8 1072.4,287.2 1073.7,287.7 C1075.0,288.1 1076.4,288.6 1077.7,289.0 C1079.0,289.5 1080.4,289.9 1081.7,290.3 C1083.0,290.7 1084.4,291.1 1085.7,291.6 C1087.0,292.0 1088.4,292.4 1089.7,292.8 C1091.0,293.2 1092.4,293.6 1093.7,294.0 C1095.0,294.3 1096.4,294.7 1097.7,295.1 C1099.0,295.5 1100.4,295.8 1101.7,296.2 C1103.0,296.6 1104.4,296.9 1105.7,297.3 C1107.0,297.7 1108.4,298.0 1109.7,298.4 C1111.0,298.7 1112.4,299.0 1113.7,299.4 C1115.0,299.7 1116.4,300.0 1117.7,300.4 C1119.0,300.7 1120.4,301.0 1121.7,301.3 C1123.0,301.7 1124.4,302.0 1125.7,302.3 C1127.0,302.6 1128.4,302.9 1129.7,303.2 C1131.0,303.5 1132.4,303.8 1133.7,304.1 C1135.0,304.4 1136.4,304.6 1137.7,304.9 C1139.0,305.2 1140.4,305.5 1141.7,305.8 C1143.0,306.0 1144.4,306.3 1145.7,306.6 C1147.0,306.9 1148.4,307.1 1149.7,307.4 C1151.0,307.6 1152.4,307.9 1153.7,308.1 C1155.0,308.4 1156.4,308.7 1157.7,308.9 C1159.0,309.1 1160.4,309.4 1161.7,309.6 C1163.0,309.9 1164.4,310.1 1165.7,310.3 C1167.0,310.6 1168.4,310.8 1169.7,311.0 C1171.0,311.3 1172.4,311.5 1173.7,311.7 C1175.0,311.9 1176.4,312.2 1177.7,312.4 C1179.0,312.6 1180.4,312.8 1181.7,313.0 C1183.0,313.2 1184.4,313.5 1185.7,313.7 C1187.0,313.9 1188.4,314.1 1189.7,314.3 C1191.0,314.5 1192.4,314.7 1193.7,314.9 C1195.0,315.1 1196.4,315.3 1197.7,315.5 C1199.0,315.7 1200.4,315.9 1201.7,316.1 C1203.0,316.3 1204.4,316.5 1205.7,316.7 C1207.0,316.9 1208.4,317.0 1209.7,317.2 C1211.0,317.4 1212.5,317.6 1213.7,317.8 C1214.9,318.0 1216.5,318.2 1217.0,318.3" fill="none" stroke="#f39a14" stroke-width="4.6" stroke-linecap="butt" stroke-linejoin="round" />
<path d="M985.7,258.0 C986.4,258.1 988.4,258.4 989.7,258.6 C991.0,258.8 992.4,259.1 993.7,259.4 C995.0,259.6 996.4,260.0 997.7,260.3 C999.0,260.7 1000.4,261.1 1001.7,261.5 C1003.0,261.9 1004.4,262.3 1005.7,262.8 C1007.0,263.2 1008.4,263.7 1009.7,264.2 C1011.0,264.7 1012.4,265.2 1013.7,265.8 C1015.0,266.3 1016.4,266.8 1017.7,267.4 C1019.0,268.0 1020.4,268.5 1021.7,269.1 C1023.0,269.7 1024.4,270.3 1025.7,270.9 C1027.0,271.4 1028.4,272.0 1029.7,272.6 C1031.0,273.2 1032.4,273.8 1033.7,274.4 C1035.0,275.0 1036.4,275.6 1037.7,276.1 C1039.0,276.7 1040.4,277.3 1041.7,277.8 C1043.0,278.4 1044.4,279.0 1045.7,279.5 C1047.0,280.0 1048.4,280.6 1049.7,281.1 C1051.0,281.6 1052.4,282.2 1053.7,282.7 C1055.0,283.2 1056.4,283.7 1057.7,284.2 C1059.0,284.7 1060.4,285.2 1061.7,285.7 C1063.0,286.2 1064.4,286.7 1065.7,287.1 C1067.0,287.6 1068.4,288.1 1069.7,288.5 C1071.0,289.0 1072.4,289.4 1073.7,289.9 C1075.0,290.3 1076.4,290.8 1077.7,291.2 C1079.0,291.7 1080.4,292.1 1081.7,292.5 C1083.0,292.9 1084.4,293.3 1085.7,293.8 C1087.0,294.2 1088.4,294.6 1089.7,295.0 C1091.0,295.4 1092.4,295.8 1093.7,296.2 C1095.0,296.5 1096.4,296.9 1097.7,297.3 C1099.0,297.7 1100.4,298.0 1101.7,298.4 C1103.0,298.8 1104.4,299.1 1105.7,299.5 C1107.0,299.9 1108.4,300.2 1109.7,300.6 C1111.0,300.9 1112.4,301.2 1113.7,301.6 C1115.0,301.9 1116.4,302.2 1117.7,302.6 C1119.0,302.9 1120.4,303.2 1121.7,303.5 C1123.0,303.9 1124.4,304.2 1125.7,304.5 C1127.0,304.8 1128.4,305.1 1129.7,305.4 C1131.0,305.7 1132.4,306.0 1133.7,306.3 C1135.0,306.6 1136.4,306.8 1137.7,307.1 C1139.0,307.4 1140.4,307.7 1141.7,308.0 C1143.0,308.2 1144.4,308.5 1145.7,308.8 C1147.0,309.1 1148.4,309.3 1149.7,309.6 C1151.0,309.8 1152.4,310.1 1153.7,310.3 C1155.0,310.6 1156.4,310.9 1157.7,311.1 C1159.0,311.3 1160.4,311.6 1161.7,311.8 C1163.0,312.1 1164.4,312.3 1165.7,312.5 C1167.0,312.8 1168.4,313.0 1169.7,313.2 C1171.0,313.5 1172.4,313.7 1173.7,313.9 C1175.0,314.1 1176.4,314.4 1177.7,314.6 C1179.0,314.8 1180.4,315.0 1181.7,315.2 C1183.0,315.4 1184.4,315.7 1185.7,315.9 C1187.0,316.1 1188.4,316.3 1189.7,316.5 C1191.0,316.7 1192.4,316.9 1193.7,317.1 C1195.0,317.3 1196.4,317.5 1197.7,317.7 C1199.0,317.9 1200.4,318.1 1201.7,318.3 C1203.0,318.5 1204.4,318.7 1205.7,318.9 C1207.0,319.1 1208.4,319.2 1209.7,319.4 C1211.0,319.6 1212.5,319.8 1213.7,320.0 C1214.9,320.2 1216.5,320.4 1217.0,320.5" fill="none" stroke="#f39a14" stroke-width="5.0" stroke-linecap="butt" stroke-linejoin="round" />
<path d="M729.7,91.1 C730.4,93.1 732.4,98.6 733.7,102.7 C735.0,106.8 736.4,111.3 737.7,115.8 C739.0,120.2 740.4,124.9 741.7,129.4 C743.0,133.9 744.4,138.4 745.7,142.7 C747.0,146.9 748.4,151.1 749.7,154.8 C751.0,158.6 752.4,162.0 753.7,165.2 C755.0,168.3 756.4,171.1 757.7,173.7 C759.0,176.4 760.4,178.7 761.7,180.9 C763.0,183.0 764.4,185.0 765.7,186.8 C767.0,188.7 768.4,190.3 769.7,192.0 C771.0,193.6 772.4,195.0 773.7,196.5 C775.0,198.0 776.4,199.4 777.7,200.8 C779.0,202.2 780.4,203.6 781.7,205.0 C783.0,206.3 784.4,207.6 785.7,208.9 C787.0,210.2 788.4,211.5 789.7,212.8 C791.0,214.0 792.4,215.2 793.7,216.4 C795.0,217.6 796.4,218.8 797.7,219.9 C799.0,221.1 800.4,222.2 801.7,223.3 C803.0,224.4 804.4,225.5 805.7,226.5 C807.0,227.6 808.4,228.6 809.7,229.6 C811.0,230.6 812.4,231.5 813.7,232.5 C815.0,233.4 816.4,234.4 817.7,235.2 C819.0,236.1 820.4,237.0 821.7,237.9 C823.0,238.7 824.4,239.5 825.7,240.3 C827.0,241.1 828.4,241.9 829.7,242.6 C831.0,243.4 832.4,244.1 833.7,244.8 C835.0,245.5 836.4,246.1 837.7,246.8 C839.0,247.4 840.4,248.1 841.7,248.7 C843.0,249.2 844.4,249.8 845.7,250.4 C847.0,250.9 848.4,251.4 849.7,251.9 C851.0,252.4 852.4,252.9 853.7,253.4 C855.0,253.8 856.4,254.2 857.7,254.6 C859.0,255.0 860.4,255.4 861.7,255.8 C863.0,256.1 864.4,256.5 865.7,256.8 C867.0,257.1 868.4,257.4 869.7,257.6 C871.0,257.9 872.4,258.1 873.7,258.3 C875.0,258.5 876.4,258.7 877.7,258.9 C879.0,259.1 880.4,259.2 881.7,259.3 C883.0,259.5 884.4,259.6 885.7,259.7 C887.0,259.8 888.4,259.8 889.7,259.9 C891.0,259.9 892.4,260.0 893.7,260.0 C895.0,260.0 896.4,260.0 897.7,260.0 C899.0,260.0 900.4,260.0 901.7,259.9 C903.0,259.9 904.4,259.8 905.7,259.8 C907.0,259.7 908.4,259.6 909.7,259.5 C911.0,259.5 912.4,259.4 913.7,259.2 C915.0,259.1 916.4,259.0 917.7,258.9 C919.0,258.8 920.4,258.6 921.7,258.5 C923.0,258.4 924.4,258.2 925.7,258.1 C927.0,257.9 928.4,257.8 929.7,257.6 C931.0,257.4 932.4,257.3 933.7,257.1 C935.0,256.9 936.4,256.8 937.7,256.6 C939.0,256.4 940.4,256.2 941.7,256.1 C943.0,255.9 944.4,255.7 945.7,255.5 C947.0,255.4 948.4,255.2 949.7,255.0 C951.0,254.8 952.4,254.7 953.7,254.5 C955.0,254.3 956.4,254.2 957.7,254.0 C959.0,253.9 960.4,253.7 961.7,253.6 C963.0,253.5 964.4,253.4 965.7,253.3 C967.0,253.2 968.4,253.1 969.7,253.0 C971.0,253.0 972.4,252.9 973.7,252.9 C975.0,252.9 976.4,252.9 977.7,252.9 C979.0,252.9 980.4,253.0 981.7,253.1 C983.0,253.2 984.4,253.3 985.7,253.4 C987.0,253.6 988.4,253.8 989.7,254.0 C991.0,254.2 992.4,254.5 993.7,254.8 C995.0,255.0 996.4,255.4 997.7,255.7 C999.0,256.1 1000.4,256.5 1001.7,256.9 C1003.0,257.3 1004.4,257.7 1005.7,258.2 C1007.0,258.6 1009.0,259.4 1009.7,259.6" fill="none" stroke="#6ab890" stroke-width="1.4" stroke-linecap="butt" stroke-linejoin="round" opacity="0.85"/>
<path d="M1181.7,311.0 C1182.4,311.1 1184.4,311.5 1185.7,311.7 C1187.0,311.9 1188.4,312.1 1189.7,312.3 C1191.0,312.5 1192.4,312.7 1193.7,312.9 C1195.0,313.1 1196.4,313.3 1197.7,313.5 C1199.0,313.7 1200.4,313.9 1201.7,314.1 C1203.0,314.3 1204.4,314.5 1205.7,314.7 C1207.0,314.9 1208.4,315.0 1209.7,315.2 C1211.0,315.4 1212.5,315.6 1213.7,315.8 C1214.9,316.0 1216.5,316.2 1217.0,316.3" fill="none" stroke="#5a5ae0" stroke-width="1.6" stroke-linecap="butt" stroke-linejoin="round" opacity="0.75"/>
<path d="M729.7,86.0 C729.8,87.0 730.2,90.0 730.5,92.0 C730.8,94.0 731.3,97.0 731.5,98.0" fill="none" stroke="#6a6ae0" stroke-width="2" stroke-linecap="butt" stroke-linejoin="round" />
<ellipse cx="774.2" cy="203.7" rx="8.3" ry="12.3" fill="none" stroke="#383838" stroke-width="2.6" pathLength="66" stroke-dasharray="0 2.5 6.5 4.5 6 6 15 6 6 4.5 6.5 2.5"/>
<ellipse cx="850.0" cy="255.7" rx="8.3" ry="12.3" fill="none" stroke="#383838" stroke-width="2.6" pathLength="66" stroke-dasharray="0 2.5 6.5 4.5 6 6 15 6 6 4.5 6.5 2.5"/>
<ellipse cx="1015.4" cy="267.8" rx="8.3" ry="12.3" fill="none" stroke="#383838" stroke-width="2.6" pathLength="66" stroke-dasharray="0 2.5 6.5 4.5 6 6 15 6 6 4.5 6.5 2.5"/>
<ellipse cx="1094.4" cy="294.5" rx="8.3" ry="12.3" fill="none" stroke="#383838" stroke-width="2.6" pathLength="66" stroke-dasharray="0 2.5 6.5 4.5 6 6 15 6 6 4.5 6.5 2.5"/>
<ellipse cx="1191.5" cy="315.5" rx="8.3" ry="12.3" fill="none" stroke="#383838" stroke-width="2.6" pathLength="66" stroke-dasharray="0 2.5 6.5 4.5 6 6 15 6 6 4.5 6.5 2.5"/>
<rect x="1046.7" y="28.4" width="164.5" height="132" rx="3" fill="#fff" stroke="#a2a2a2" stroke-width="2.4"/>
<line x1="1056" y1="46.7" x2="1100" y2="46.7" stroke="#9c9cf2" stroke-width="2.6"/>
<text x="1105.0" y="56.7" font-family='"Liberation Sans", sans-serif' font-size="27.5" text-anchor="start" fill="#282828" stroke="#282828" stroke-width="0.35" letter-spacing="-0.4">cycle 01</text>
<line x1="1056" y1="78.4" x2="1100" y2="78.4" stroke="#f4a0a0" stroke-width="2.6"/>
<text x="1105.0" y="88.4" font-family='"Liberation Sans", sans-serif' font-size="27.5" text-anchor="start" fill="#282828" stroke="#282828" stroke-width="0.35" letter-spacing="-0.4">cycle 02</text>
<line x1="1056" y1="110.1" x2="1100" y2="110.1" stroke="#98e0d8" stroke-width="2.6"/>
<text x="1105.0" y="120.1" font-family='"Liberation Sans", sans-serif' font-size="27.5" text-anchor="start" fill="#282828" stroke="#282828" stroke-width="0.35" letter-spacing="-0.4">cycle 03</text>
<line x1="1056" y1="141.8" x2="1100" y2="141.8" stroke="#fcd0a0" stroke-width="2.6"/>
<text x="1105.0" y="151.8" font-family='"Liberation Sans", sans-serif' font-size="27.5" text-anchor="start" fill="#282828" stroke="#282828" stroke-width="0.35" letter-spacing="-0.4">cycle 04</text>
<text x="0.0" y="0.0" font-family='"Liberation Serif", serif' font-size="32.0" text-anchor="start" fill="#111" stroke="#111" stroke-width="0.35" transform="translate(0.6,23.4) scale(0.86,1)">A</text>
<text x="1.2" y="499.3" font-family='"Liberation Serif", serif' font-size="31.5" text-anchor="start" fill="#111" stroke="#111" stroke-width="0.35" >B</text>
<rect x="84" y="495.3" width="567" height="282.5" fill="none" stroke="#c4c4c4" stroke-width="2"/>
<text x="82.0" y="508.4" font-family='"Liberation Sans", sans-serif' font-size="25.0" text-anchor="end" fill="#2a2a2a" stroke="#2a2a2a" stroke-width="0.35" >200</text>
<text x="82.0" y="575.7" font-family='"Liberation Sans", sans-serif' font-size="25.0" text-anchor="end" fill="#2a2a2a" stroke="#2a2a2a" stroke-width="0.35" >150</text>
<text x="82.0" y="642.3" font-family='"Liberation Sans", sans-serif' font-size="25.0" text-anchor="end" fill="#2a2a2a" stroke="#2a2a2a" stroke-width="0.35" >100</text>
<text x="82.0" y="712.6" font-family='"Liberation Sans", sans-serif' font-size="25.0" text-anchor="end" fill="#2a2a2a" stroke="#2a2a2a" stroke-width="0.35" >50</text>
<text x="82.0" y="779.5" font-family='"Liberation Sans", sans-serif' font-size="25.0" text-anchor="end" fill="#2a2a2a" stroke="#2a2a2a" stroke-width="0.35" >0</text>
<text x="86.9" y="805.0" font-family='"Liberation Sans", sans-serif' font-size="25.0" text-anchor="middle" fill="#2a2a2a" stroke="#2a2a2a" stroke-width="0.35" >0</text>
<text x="200.6" y="805.0" font-family='"Liberation Sans", sans-serif' font-size="25.0" text-anchor="middle" fill="#2a2a2a" stroke="#2a2a2a" stroke-width="0.35" >20</text>
<text x="314.3" y="805.0" font-family='"Liberation Sans", sans-serif' font-size="25.0" text-anchor="middle" fill="#2a2a2a" stroke="#2a2a2a" stroke-width="0.35" >40</text>
<text x="428.4" y="805.0" font-family='"Liberation Sans", sans-serif' font-size="25.0" text-anchor="middle" fill="#2a2a2a" stroke="#2a2a2a" stroke-width="0.35" >60</text>
<text x="542.2" y="805.0" font-family='"Liberation Sans", sans-serif' font-size="25.0" text-anchor="middle" fill="#2a2a2a" stroke="#2a2a2a" stroke-width="0.35" >80</text>
<text x="651.2" y="805.0" font-family='"Liberation Sans", sans-serif' font-size="25.0" text-anchor="middle" fill="#2a2a2a" stroke="#2a2a2a" stroke-width="0.35" >100</text>
<text x="378.0" y="846.3" font-family='"Liberation Sans", sans-serif' font-size="28.5" text-anchor="middle" fill="#2a2a2a" stroke="#2a2a2a" stroke-width="0.35" >SOC (%)</text>
<text x="0.0" y="0.0" font-family='"Liberation Sans", sans-serif' font-size="27.6" text-anchor="middle" fill="#2a2a2a" stroke="#2a2a2a" stroke-width="0.35" transform="translate(35,643.5) rotate(-90)">Wavelength shift (pm)</text>
<path d="M84.0,779.5 C84.5,779.4 86.0,779.3 87.0,779.2 C88.0,779.1 89.0,779.0 90.0,779.0 C91.0,778.9 92.0,778.8 93.0,778.7 C94.0,778.6 95.0,778.5 96.0,778.3 C97.0,778.2 98.0,778.1 99.0,778.0 C100.0,777.9 101.0,777.8 102.0,777.7 C103.0,777.5 104.0,777.4 105.0,777.3 C106.0,777.2 107.0,777.0 108.0,776.9 C109.0,776.8 110.0,776.6 111.0,776.5 C112.0,776.4 113.0,776.2 114.0,776.1 C115.0,775.9 116.0,775.8 117.0,775.6 C118.0,775.5 119.0,775.3 120.0,775.2 C121.0,775.0 122.0,774.8 123.0,774.7 C124.0,774.5 125.0,774.3 126.0,774.2 C127.0,774.0 128.0,773.8 129.0,773.7 C130.0,773.5 131.0,773.3 132.0,773.1 C133.0,772.9 134.0,772.8 135.0,772.6 C136.0,772.4 137.0,772.2 138.0,772.0 C139.0,771.8 140.0,771.6 141.0,771.4 C142.0,771.2 143.0,771.0 144.0,770.8 C145.0,770.6 146.0,770.4 147.0,770.2 C148.0,770.0 149.0,769.8 150.0,769.6 C151.0,769.3 152.0,769.1 153.0,768.9 C154.0,768.7 155.0,768.5 156.0,768.2 C157.0,768.0 158.0,767.8 159.0,767.5 C160.0,767.3 161.0,767.1 162.0,766.8 C163.0,766.6 164.0,766.4 165.0,766.1 C166.0,765.9 167.0,765.6 168.0,765.4 C169.0,765.1 170.0,764.9 171.0,764.6 C172.0,764.4 173.0,764.1 174.0,763.8 C175.0,763.6 176.0,763.3 177.0,763.1 C178.0,762.8 179.0,762.5 180.0,762.2 C181.0,762.0 182.0,761.7 183.0,761.4 C184.0,761.2 185.0,760.9 186.0,760.6 C187.0,760.3 188.0,760.0 189.0,759.7 C190.0,759.5 191.0,759.2 192.0,758.9 C193.0,758.6 194.0,758.3 195.0,758.0 C196.0,757.7 197.0,757.4 198.0,757.1 C199.0,756.8 200.0,756.5 201.0,756.2 C202.0,755.9 203.0,755.6 204.0,755.2 C205.0,754.9 206.0,754.6 207.0,754.3 C208.0,754.0 209.0,753.7 210.0,753.3 C211.0,753.0 212.0,752.7 213.0,752.4 C214.0,752.0 215.0,751.7 216.0,751.4 C217.0,751.0 218.0,750.7 219.0,750.4 C220.0,750.0 221.0,749.7 222.0,749.3 C223.0,749.0 224.0,748.6 225.0,748.3 C226.0,748.0 227.0,747.6 228.0,747.3 C229.0,746.9 230.0,746.5 231.0,746.2 C232.0,745.8 233.0,745.5 234.0,745.1 C235.0,744.7 236.0,744.4 237.0,744.0 C238.0,743.6 239.0,743.3 240.0,742.9 C241.0,742.5 242.0,742.2 243.0,741.8 C244.0,741.4 245.0,741.0 246.0,740.6 C247.0,740.3 248.0,739.9 249.0,739.5 C250.0,739.1 251.0,738.7 252.0,738.3 C253.0,737.9 254.0,737.6 255.0,737.2 C256.0,736.8 257.0,736.4 258.0,736.0 C259.0,735.6 260.0,735.2 261.0,734.8 C262.0,734.4 263.0,734.0 264.0,733.6 C265.0,733.2 266.0,732.8 267.0,732.4 C268.0,732.0 269.0,731.6 270.0,731.2 C271.0,730.8 272.0,730.4 273.0,730.0 C274.0,729.6 275.0,729.2 276.0,728.8 C277.0,728.4 278.0,728.0 279.0,727.6 C280.0,727.3 281.0,726.9 282.0,726.5 C283.0,726.1 284.0,725.7 285.0,725.3 C286.0,724.9 287.0,724.6 288.0,724.2 C289.0,723.8 290.0,723.5 291.0,723.1 C292.0,722.7 293.0,722.4 294.0,722.0 C295.0,721.6 296.0,721.3 297.0,720.9 C298.0,720.6 299.0,720.2 300.0,719.9 C301.0,719.5 302.0,719.2 303.0,718.9 C304.0,718.6 305.0,718.2 306.0,717.9 C307.0,717.6 308.0,717.3 309.0,716.9 C310.0,716.6 311.0,716.3 312.0,716.0 C313.0,715.7 314.0,715.4 315.0,715.1 C316.0,714.8 317.0,714.5 318.0,714.2 C319.0,713.9 320.0,713.6 321.0,713.3 C322.0,713.1 323.0,712.8 324.0,712.5 C325.0,712.2 326.0,711.9 327.0,711.6 C328.0,711.4 329.0,711.1 330.0,710.8 C331.0,710.5 332.0,710.3 333.0,710.0 C334.0,709.7 335.0,709.4 336.0,709.2 C337.0,708.9 338.0,708.6 339.0,708.4 C340.0,708.1 341.0,707.9 342.0,707.6 C343.0,707.3 344.0,707.1 345.0,706.9 C346.0,706.6 347.0,706.4 348.0,706.1 C349.0,705.9 350.0,705.7 351.0,705.4 C352.0,705.2 353.0,705.0 354.0,704.8 C355.0,704.6 356.0,704.4 357.0,704.2 C358.0,704.0 359.0,703.8 360.0,703.6 C361.0,703.4 362.0,703.3 363.0,703.1 C364.0,703.0 365.0,702.8 366.0,702.7 C367.0,702.5 368.0,702.4 369.0,702.3 C370.0,702.1 371.0,702.0 372.0,701.9 C373.0,701.8 374.0,701.7 375.0,701.6 C376.0,701.6 377.0,701.5 378.0,701.4 C379.0,701.3 380.0,701.3 381.0,701.2 C382.0,701.2 383.0,701.1 384.0,701.1 C385.0,701.0 386.0,701.0 387.0,701.0 C388.0,700.9 389.0,700.9 390.0,700.9 C391.0,700.8 392.0,700.8 393.0,700.8 C394.0,700.7 395.0,700.7 396.0,700.7 C397.0,700.6 398.0,700.6 399.0,700.6 C400.0,700.5 401.0,700.5 402.0,700.5 C403.0,700.4 404.0,700.4 405.0,700.3 C406.0,700.3 407.0,700.2 408.0,700.2 C409.0,700.1 410.0,700.0 411.0,699.9 C412.0,699.9 413.0,699.8 414.0,699.7 C415.0,699.6 416.0,699.5 417.0,699.4 C418.0,699.3 419.0,699.1 420.0,699.0 C421.0,698.9 422.0,698.8 423.0,698.6 C424.0,698.5 425.0,698.3 426.0,698.2 C427.0,698.0 428.0,697.9 429.0,697.7 C430.0,697.5 431.0,697.4 432.0,697.2 C433.0,697.0 434.0,696.8 435.0,696.6 C436.0,696.4 437.0,696.2 438.0,696.0 C439.0,695.8 440.0,695.6 441.0,695.4 C442.0,695.2 443.0,694.9 444.0,694.7 C445.0,694.5 446.0,694.2 447.0,694.0 C448.0,693.8 449.0,693.5 450.0,693.3 C451.0,693.0 452.0,692.8 453.0,692.5 C454.0,692.3 455.0,692.0 456.0,691.7 C457.0,691.5 458.0,691.2 459.0,690.9 C460.0,690.7 461.0,690.4 462.0,690.1 C463.0,689.8 464.0,689.5 465.0,689.2 C466.0,688.9 467.0,688.6 468.0,688.3 C469.0,688.0 470.0,687.7 471.0,687.4 C472.0,687.1 473.0,686.8 474.0,686.4 C475.0,686.1 476.0,685.8 477.0,685.5 C478.0,685.1 479.0,684.8 480.0,684.4 C481.0,684.1 482.0,683.7 483.0,683.4 C484.0,683.0 485.0,682.7 486.0,682.3 C487.0,681.9 488.0,681.5 489.0,681.2 C490.0,680.8 491.0,680.4 492.0,680.0 C493.0,679.6 494.0,679.2 495.0,678.8 C496.0,678.4 497.0,678.0 498.0,677.6 C499.0,677.2 500.0,676.7 501.0,676.3 C502.0,675.9 503.0,675.4 504.0,675.0 C505.0,674.6 506.0,674.1 507.0,673.7 C508.0,673.2 509.0,672.7 510.0,672.3 C511.0,671.8 512.0,671.3 513.0,670.8 C514.0,670.4 515.0,669.9 516.0,669.4 C517.0,668.9 518.0,668.4 519.0,667.9 C520.0,667.4 521.0,666.8 522.0,666.3 C523.0,665.8 524.0,665.3 525.0,664.7 C526.0,664.2 527.0,663.6 528.0,663.1 C529.0,662.5 530.0,662.0 531.0,661.4 C532.0,660.8 533.0,660.3 534.0,659.7 C535.0,659.1 536.0,658.5 537.0,657.9 C538.0,657.3 539.0,656.7 540.0,656.1 C541.0,655.4 542.0,654.8 543.0,654.2 C544.0,653.5 545.0,652.9 546.0,652.2 C547.0,651.5 548.0,650.8 549.0,650.1 C550.0,649.4 551.0,648.7 552.0,648.0 C553.0,647.2 554.0,646.5 555.0,645.7 C556.0,645.0 557.0,644.2 558.0,643.4 C559.0,642.5 560.0,641.7 561.0,640.9 C562.0,640.0 563.0,639.2 564.0,638.3 C565.0,637.4 566.0,636.5 567.0,635.6 C568.0,634.6 569.0,633.7 570.0,632.7 C571.0,631.7 572.0,630.8 573.0,629.7 C574.0,628.7 575.0,627.7 576.0,626.6 C577.0,625.6 578.0,624.5 579.0,623.4 C580.0,622.3 581.0,621.2 582.0,620.1 C583.0,618.9 584.0,617.8 585.0,616.6 C586.0,615.5 587.0,614.3 588.0,613.1 C589.0,611.9 590.0,610.6 591.0,609.4 C592.0,608.2 593.0,606.9 594.0,605.6 C595.0,604.4 596.0,603.1 597.0,601.8 C598.0,600.5 599.0,599.2 600.0,597.9 C601.0,596.5 602.0,595.2 603.0,593.9 C604.0,592.5 605.0,591.1 606.0,589.8 C607.0,588.4 608.0,587.0 609.0,585.6 C610.0,584.2 611.0,582.8 612.0,581.4 C613.0,580.0 614.0,578.6 615.0,577.2 C616.0,575.8 617.0,574.3 618.0,572.9 C619.0,571.5 620.0,570.0 621.0,568.6 C622.0,567.1 623.0,565.7 624.0,564.2 C625.0,562.8 626.0,561.3 627.0,559.8 C628.0,558.4 629.0,556.9 630.0,555.4 C631.0,554.0 632.0,552.5 633.0,551.0 C634.0,549.6 635.0,548.1 636.0,546.6 C637.0,545.1 638.0,543.7 639.0,542.2 C640.0,540.7 641.0,539.2 642.0,537.8 C643.0,536.3 644.0,534.8 645.0,533.4 C646.0,531.9 647.0,530.5 648.0,529.0 C649.0,527.6 650.5,525.4 651.0,524.7" fill="none" stroke="#d6d690" stroke-width="1.6" stroke-linecap="butt" stroke-linejoin="round" />
<path d="M84.0,778.0 C84.5,777.9 86.0,777.8 87.0,777.7 C88.0,777.6 89.0,777.5 90.0,777.5 C91.0,777.4 92.0,777.3 93.0,777.2 C94.0,777.1 95.0,777.0 96.0,776.8 C97.0,776.7 98.0,776.6 99.0,776.5 C100.0,776.4 101.0,776.3 102.0,776.2 C103.0,776.0 104.0,775.9 105.0,775.8 C106.0,775.7 107.0,775.5 108.0,775.4 C109.0,775.3 110.0,775.1 111.0,775.0 C112.0,774.9 113.0,774.7 114.0,774.6 C115.0,774.4 116.0,774.3 117.0,774.1 C118.0,774.0 119.0,773.8 120.0,773.7 C121.0,773.5 122.0,773.3 123.0,773.2 C124.0,773.0 125.0,772.8 126.0,772.7 C127.0,772.5 128.0,772.3 129.0,772.2 C130.0,772.0 131.0,771.8 132.0,771.6 C133.0,771.4 134.0,771.3 135.0,771.1 C136.0,770.9 137.0,770.7 138.0,770.5 C139.0,770.3 140.0,770.1 141.0,769.9 C142.0,769.7 143.0,769.5 144.0,769.3 C145.0,769.1 146.0,768.9 147.0,768.7 C148.0,768.5 149.0,768.3 150.0,768.1 C151.0,767.8 152.0,767.6 153.0,767.4 C154.0,767.2 155.0,767.0 156.0,766.7 C157.0,766.5 158.0,766.3 159.0,766.0 C160.0,765.8 161.0,765.6 162.0,765.3 C163.0,765.1 164.0,764.9 165.0,764.6 C166.0,764.4 167.0,764.1 168.0,763.9 C169.0,763.6 170.0,763.4 171.0,763.1 C172.0,762.9 173.0,762.6 174.0,762.3 C175.0,762.1 176.0,761.8 177.0,761.6 C178.0,761.3 179.0,761.0 180.0,760.7 C181.0,760.5 182.0,760.2 183.0,759.9 C184.0,759.7 185.0,759.4 186.0,759.1 C187.0,758.8 188.0,758.5 189.0,758.2 C190.0,758.0 191.0,757.7 192.0,757.4 C193.0,757.1 194.0,756.8 195.0,756.5 C196.0,756.2 197.0,755.9 198.0,755.6 C199.0,755.3 200.0,755.0 201.0,754.7 C202.0,754.4 203.0,754.1 204.0,753.7 C205.0,753.4 206.0,753.1 207.0,752.8 C208.0,752.5 209.0,752.2 210.0,751.8 C211.0,751.5 212.0,751.2 213.0,750.9 C214.0,750.5 215.0,750.2 216.0,749.9 C217.0,749.5 218.0,749.2 219.0,748.9 C220.0,748.5 221.0,748.2 222.0,747.8 C223.0,747.5 224.0,747.1 225.0,746.8 C226.0,746.5 227.0,746.1 228.0,745.8 C229.0,745.4 230.0,745.0 231.0,744.7 C232.0,744.3 233.0,744.0 234.0,743.6 C235.0,743.2 236.0,742.9 237.0,742.5 C238.0,742.1 239.0,741.8 240.0,741.4 C241.0,741.0 242.0,740.7 243.0,740.3 C244.0,739.9 245.0,739.5 246.0,739.1 C247.0,738.8 248.0,738.4 249.0,738.0 C250.0,737.6 251.0,737.2 252.0,736.8 C253.0,736.4 254.0,736.1 255.0,735.7 C256.0,735.3 257.0,734.9 258.0,734.5 C259.0,734.1 260.0,733.7 261.0,733.3 C262.0,732.9 263.0,732.5 264.0,732.1 C265.0,731.7 266.0,731.3 267.0,730.9 C268.0,730.5 269.0,730.1 270.0,729.7 C271.0,729.3 272.0,728.9 273.0,728.5 C274.0,728.1 275.0,727.7 276.0,727.3 C277.0,726.9 278.0,726.5 279.0,726.1 C280.0,725.8 281.0,725.4 282.0,725.0 C283.0,724.6 284.0,724.2 285.0,723.8 C286.0,723.4 287.0,723.1 288.0,722.7 C289.0,722.3 290.0,722.0 291.0,721.6 C292.0,721.2 293.0,720.9 294.0,720.5 C295.0,720.1 296.0,719.8 297.0,719.4 C298.0,719.1 299.0,718.7 300.0,718.4 C301.0,718.0 302.0,717.7 303.0,717.4 C304.0,717.1 305.0,716.7 306.0,716.4 C307.0,716.1 308.0,715.8 309.0,715.4 C310.0,715.1 311.0,714.8 312.0,714.5 C313.0,714.2 314.0,713.9 315.0,713.6 C316.0,713.3 317.0,713.0 318.0,712.7 C319.0,712.4 320.0,712.1 321.0,711.8 C322.0,711.6 323.0,711.3 324.0,711.0 C325.0,710.7 326.0,710.4 327.0,710.1 C328.0,709.9 329.0,709.6 330.0,709.3 C331.0,709.0 332.0,708.8 333.0,708.5 C334.0,708.2 335.0,707.9 336.0,707.7 C337.0,707.4 338.0,707.1 339.0,706.9 C340.0,706.6 341.0,706.4 342.0,706.1 C343.0,705.8 344.0,705.6 345.0,705.4 C346.0,705.1 347.0,704.9 348.0,704.6 C349.0,704.4 350.0,704.2 351.0,703.9 C352.0,703.7 353.0,703.5 354.0,703.3 C355.0,703.1 356.0,702.9 357.0,702.7 C358.0,702.5 359.0,702.3 360.0,702.1 C361.0,701.9 362.0,701.8 363.0,701.6 C364.0,701.5 365.0,701.3 366.0,701.2 C367.0,701.0 368.0,700.9 369.0,700.8 C370.0,700.6 371.0,700.5 372.0,700.4 C373.0,700.3 374.0,700.2 375.0,700.1 C376.0,700.1 377.0,700.0 378.0,699.9 C379.0,699.8 380.0,699.8 381.0,699.7 C382.0,699.7 383.0,699.6 384.0,699.6 C385.0,699.5 386.0,699.5 387.0,699.5 C388.0,699.4 389.0,699.4 390.0,699.4 C391.0,699.3 392.0,699.3 393.0,699.3 C394.0,699.2 395.0,699.2 396.0,699.2 C397.0,699.1 398.0,699.1 399.0,699.1 C400.0,699.0 401.0,699.0 402.0,699.0 C403.0,698.9 404.0,698.9 405.0,698.8 C406.0,698.8 407.0,698.7 408.0,698.7 C409.0,698.6 410.0,698.5 411.0,698.4 C412.0,698.4 413.0,698.3 414.0,698.2 C415.0,698.1 416.0,698.0 417.0,697.9 C418.0,697.8 419.0,697.6 420.0,697.5 C421.0,697.4 422.0,697.3 423.0,697.1 C424.0,697.0 425.0,696.8 426.0,696.7 C427.0,696.5 428.0,696.4 429.0,696.2 C430.0,696.0 431.0,695.9 432.0,695.7 C433.0,695.5 434.0,695.3 435.0,695.1 C436.0,694.9 437.0,694.7 438.0,694.5 C439.0,694.3 440.0,694.1 441.0,693.9 C442.0,693.7 443.0,693.4 444.0,693.2 C445.0,693.0 446.0,692.7 447.0,692.5 C448.0,692.3 449.0,692.0 450.0,691.8 C451.0,691.5 452.0,691.3 453.0,691.0 C454.0,690.8 455.0,690.5 456.0,690.2 C457.0,690.0 458.0,689.7 459.0,689.4 C460.0,689.2 461.0,688.9 462.0,688.6 C463.0,688.3 464.0,688.0 465.0,687.7 C466.0,687.4 467.0,687.1 468.0,686.8 C469.0,686.5 470.0,686.2 471.0,685.9 C472.0,685.6 473.0,685.3 474.0,684.9 C475.0,684.6 476.0,684.3 477.0,684.0 C478.0,683.6 479.0,683.3 480.0,682.9 C481.0,682.6 482.0,682.2 483.0,681.9 C484.0,681.5 485.0,681.2 486.0,680.8 C487.0,680.4 488.0,680.0 489.0,679.7 C490.0,679.3 491.0,678.9 492.0,678.5 C493.0,678.1 494.0,677.7 495.0,677.3 C496.0,676.9 497.0,676.5 498.0,676.1 C499.0,675.7 500.0,675.2 501.0,674.8 C502.0,674.4 503.0,673.9 504.0,673.5 C505.0,673.1 506.0,672.6 507.0,672.2 C508.0,671.7 509.0,671.2 510.0,670.8 C511.0,670.3 512.0,669.8 513.0,669.3 C514.0,668.9 515.0,668.4 516.0,667.9 C517.0,667.4 518.0,666.9 519.0,666.4 C520.0,665.9 521.0,665.3 522.0,664.8 C523.0,664.3 524.0,663.8 525.0,663.2 C526.0,662.7 527.0,662.1 528.0,661.6 C529.0,661.0 530.0,660.5 531.0,659.9 C532.0,659.3 533.0,658.8 534.0,658.2 C535.0,657.6 536.0,657.0 537.0,656.4 C538.0,655.8 539.0,655.2 540.0,654.6 C541.0,653.9 542.0,653.3 543.0,652.7 C544.0,652.0 545.0,651.4 546.0,650.7 C547.0,650.0 548.0,649.3 549.0,648.6 C550.0,647.9 551.0,647.2 552.0,646.5 C553.0,645.7 554.0,645.0 555.0,644.2 C556.0,643.5 557.0,642.7 558.0,641.9 C559.0,641.0 560.0,640.2 561.0,639.4 C562.0,638.5 563.0,637.7 564.0,636.8 C565.0,635.9 566.0,635.0 567.0,634.1 C568.0,633.1 569.0,632.2 570.0,631.2 C571.0,630.2 572.0,629.3 573.0,628.2 C574.0,627.2 575.0,626.2 576.0,625.1 C577.0,624.1 578.0,623.0 579.0,621.9 C580.0,620.8 581.0,619.7 582.0,618.6 C583.0,617.4 584.0,616.3 585.0,615.1 C586.0,614.0 587.0,612.8 588.0,611.6 C589.0,610.4 590.0,609.1 591.0,607.9 C592.0,606.7 593.0,605.4 594.0,604.1 C595.0,602.9 596.0,601.6 597.0,600.3 C598.0,599.0 599.0,597.7 600.0,596.4 C601.0,595.0 602.0,593.7 603.0,592.4 C604.0,591.0 605.0,589.6 606.0,588.3 C607.0,586.9 608.0,585.5 609.0,584.1 C610.0,582.7 611.0,581.3 612.0,579.9 C613.0,578.5 614.0,577.1 615.0,575.7 C616.0,574.3 617.0,572.8 618.0,571.4 C619.0,570.0 620.0,568.5 621.0,567.1 C622.0,565.6 623.0,564.2 624.0,562.7 C625.0,561.3 626.0,559.8 627.0,558.3 C628.0,556.9 629.0,555.4 630.0,553.9 C631.0,552.5 632.0,551.0 633.0,549.5 C634.0,548.1 635.0,546.6 636.0,545.1 C637.0,543.6 638.0,542.2 639.0,540.7 C640.0,539.2 641.0,537.7 642.0,536.3 C643.0,534.8 644.0,533.3 645.0,531.9 C646.0,530.4 647.0,529.0 648.0,527.5 C649.0,526.1 650.5,523.9 651.0,523.2" fill="none" stroke="#8cc88c" stroke-width="1.6" stroke-linecap="butt" stroke-linejoin="round" />
<path d="M84.0,778.0 C84.5,778.0 86.0,777.8 87.0,777.7 C88.0,777.6 89.0,777.5 90.0,777.4 C91.0,777.3 92.0,777.2 93.0,777.1 C94.0,776.9 95.0,776.8 96.0,776.7 C97.0,776.6 98.0,776.4 99.0,776.3 C100.0,776.1 101.0,776.0 102.0,775.9 C103.0,775.7 104.0,775.6 105.0,775.4 C106.0,775.2 107.0,775.1 108.0,774.9 C109.0,774.8 110.0,774.6 111.0,774.4 C112.0,774.2 113.0,774.1 114.0,773.9 C115.0,773.7 116.0,773.5 117.0,773.3 C118.0,773.1 119.0,773.0 120.0,772.8 C121.0,772.6 122.0,772.4 123.0,772.2 C124.0,772.0 125.0,771.8 126.0,771.5 C127.0,771.3 128.0,771.1 129.0,770.9 C130.0,770.7 131.0,770.5 132.0,770.3 C133.0,770.0 134.0,769.8 135.0,769.6 C136.0,769.4 137.0,769.1 138.0,768.9 C139.0,768.7 140.0,768.4 141.0,768.2 C142.0,767.9 143.0,767.7 144.0,767.5 C145.0,767.2 146.0,767.0 147.0,766.7 C148.0,766.5 149.0,766.2 150.0,766.0 C151.0,765.7 152.0,765.5 153.0,765.2 C154.0,764.9 155.0,764.7 156.0,764.4 C157.0,764.2 158.0,763.9 159.0,763.6 C160.0,763.4 161.0,763.1 162.0,762.8 C163.0,762.6 164.0,762.3 165.0,762.0 C166.0,761.7 167.0,761.5 168.0,761.2 C169.0,760.9 170.0,760.6 171.0,760.4 C172.0,760.1 173.0,759.8 174.0,759.5 C175.0,759.2 176.0,759.0 177.0,758.7 C178.0,758.4 179.0,758.1 180.0,757.8 C181.0,757.5 182.0,757.3 183.0,757.0 C184.0,756.7 185.0,756.4 186.0,756.1 C187.0,755.8 188.0,755.5 189.0,755.3 C190.0,755.0 191.0,754.7 192.0,754.4 C193.0,754.1 194.0,753.8 195.0,753.5 C196.0,753.2 197.0,752.9 198.0,752.7 C199.0,752.4 200.0,752.1 201.0,751.8 C202.0,751.5 203.0,751.2 204.0,750.9 C205.0,750.6 206.0,750.3 207.0,750.0 C208.0,749.7 209.0,749.4 210.0,749.1 C211.0,748.9 212.0,748.6 213.0,748.2 C214.0,747.9 215.0,747.6 216.0,747.3 C217.0,747.0 218.0,746.7 219.0,746.4 C220.0,746.1 221.0,745.7 222.0,745.4 C223.0,745.1 224.0,744.8 225.0,744.4 C226.0,744.1 227.0,743.7 228.0,743.4 C229.0,743.0 230.0,742.7 231.0,742.3 C232.0,741.9 233.0,741.5 234.0,741.2 C235.0,740.8 236.0,740.4 237.0,740.0 C238.0,739.6 239.0,739.2 240.0,738.7 C241.0,738.3 242.0,737.9 243.0,737.5 C244.0,737.0 245.0,736.6 246.0,736.1 C247.0,735.6 248.0,735.2 249.0,734.7 C250.0,734.2 251.0,733.7 252.0,733.2 C253.0,732.7 254.0,732.2 255.0,731.6 C256.0,731.1 257.0,730.5 258.0,730.0 C259.0,729.5 260.0,728.9 261.0,728.3 C262.0,727.8 263.0,727.2 264.0,726.6 C265.0,726.0 266.0,725.5 267.0,724.9 C268.0,724.3 269.0,723.7 270.0,723.1 C271.0,722.5 272.0,722.0 273.0,721.4 C274.0,720.8 275.0,720.2 276.0,719.6 C277.0,719.0 278.0,718.4 279.0,717.8 C280.0,717.3 281.0,716.7 282.0,716.1 C283.0,715.5 284.0,715.0 285.0,714.4 C286.0,713.8 287.0,713.3 288.0,712.7 C289.0,712.2 290.0,711.6 291.0,711.1 C292.0,710.6 293.0,710.1 294.0,709.5 C295.0,709.0 296.0,708.5 297.0,708.0 C298.0,707.6 299.0,707.1 300.0,706.6 C301.0,706.2 302.0,705.7 303.0,705.3 C304.0,704.9 305.0,704.4 306.0,704.0 C307.0,703.6 308.0,703.2 309.0,702.9 C310.0,702.5 311.0,702.1 312.0,701.7 C313.0,701.4 314.0,701.0 315.0,700.7 C316.0,700.3 317.0,700.0 318.0,699.7 C319.0,699.4 320.0,699.0 321.0,698.7 C322.0,698.4 323.0,698.1 324.0,697.8 C325.0,697.5 326.0,697.2 327.0,696.9 C328.0,696.7 329.0,696.4 330.0,696.1 C331.0,695.8 332.0,695.5 333.0,695.3 C334.0,695.0 335.0,694.7 336.0,694.4 C337.0,694.2 338.0,693.9 339.0,693.6 C340.0,693.4 341.0,693.1 342.0,692.8 C343.0,692.6 344.0,692.3 345.0,692.0 C346.0,691.7 347.0,691.5 348.0,691.2 C349.0,690.9 350.0,690.6 351.0,690.4 C352.0,690.1 353.0,689.8 354.0,689.5 C355.0,689.3 356.0,689.0 357.0,688.7 C358.0,688.4 359.0,688.2 360.0,687.9 C361.0,687.6 362.0,687.3 363.0,687.1 C364.0,686.8 365.0,686.5 366.0,686.3 C367.0,686.0 368.0,685.7 369.0,685.5 C370.0,685.2 371.0,684.9 372.0,684.7 C373.0,684.4 374.0,684.2 375.0,683.9 C376.0,683.7 377.0,683.4 378.0,683.2 C379.0,682.9 380.0,682.7 381.0,682.4 C382.0,682.2 383.0,682.0 384.0,681.7 C385.0,681.5 386.0,681.3 387.0,681.0 C388.0,680.8 389.0,680.6 390.0,680.4 C391.0,680.2 392.0,679.9 393.0,679.7 C394.0,679.5 395.0,679.3 396.0,679.1 C397.0,678.9 398.0,678.7 399.0,678.5 C400.0,678.3 401.0,678.1 402.0,677.9 C403.0,677.8 404.0,677.6 405.0,677.4 C406.0,677.2 407.0,677.0 408.0,676.9 C409.0,676.7 410.0,676.5 411.0,676.4 C412.0,676.2 413.0,676.1 414.0,675.9 C415.0,675.8 416.0,675.6 417.0,675.5 C418.0,675.3 419.0,675.2 420.0,675.1 C421.0,675.0 422.2,674.8 423.0,674.7 C423.8,674.6 424.2,674.6 424.5,674.5" fill="none" stroke="#98b898" stroke-width="1.6" stroke-linecap="butt" stroke-linejoin="round" />
<path d="M84.0,776.5 C84.5,776.4 86.0,775.9 87.0,775.7 C88.0,775.4 89.0,775.1 90.0,774.8 C91.0,774.5 92.0,774.3 93.0,774.0 C94.0,773.7 95.0,773.5 96.0,773.2 C97.0,773.0 98.0,772.8 99.0,772.5 C100.0,772.3 101.0,772.0 102.0,771.8 C103.0,771.6 104.0,771.4 105.0,771.2 C106.0,770.9 107.0,770.7 108.0,770.5 C109.0,770.3 110.0,770.1 111.0,769.9 C112.0,769.7 113.0,769.5 114.0,769.3 C115.0,769.1 116.0,768.9 117.0,768.7 C118.0,768.6 119.0,768.4 120.0,768.2 C121.0,768.0 122.0,767.8 123.0,767.7 C124.0,767.5 125.0,767.3 126.0,767.1 C127.0,767.0 128.0,766.8 129.0,766.6 C130.0,766.5 131.0,766.3 132.0,766.1 C133.0,766.0 134.0,765.8 135.0,765.6 C136.0,765.5 137.0,765.3 138.0,765.1 C139.0,765.0 140.0,764.8 141.0,764.6 C142.0,764.5 143.0,764.3 144.0,764.1 C145.0,764.0 146.0,763.8 147.0,763.6 C148.0,763.5 149.0,763.3 150.0,763.1 C151.0,763.0 152.0,762.8 153.0,762.6 C154.0,762.4 155.0,762.3 156.0,762.1 C157.0,761.9 158.0,761.7 159.0,761.6 C160.0,761.4 161.0,761.2 162.0,761.0 C163.0,760.8 164.0,760.6 165.0,760.4 C166.0,760.2 167.0,760.0 168.0,759.8 C169.0,759.6 170.0,759.4 171.0,759.2 C172.0,759.0 173.0,758.8 174.0,758.6 C175.0,758.3 176.0,758.1 177.0,757.9 C178.0,757.6 179.0,757.4 180.0,757.2 C181.0,756.9 182.0,756.7 183.0,756.4 C184.0,756.2 185.0,755.9 186.0,755.6 C187.0,755.4 188.0,755.1 189.0,754.8 C190.0,754.5 191.0,754.3 192.0,754.0 C193.0,753.7 194.0,753.4 195.0,753.1 C196.0,752.8 197.0,752.5 198.0,752.2 C199.0,751.8 200.0,751.5 201.0,751.2 C202.0,750.9 203.0,750.5 204.0,750.2 C205.0,749.9 206.0,749.5 207.0,749.2 C208.0,748.9 209.0,748.5 210.0,748.2 C211.0,747.8 212.0,747.4 213.0,747.1 C214.0,746.7 215.0,746.4 216.0,746.0 C217.0,745.6 218.0,745.3 219.0,744.9 C220.0,744.5 221.0,744.1 222.0,743.7 C223.0,743.4 224.0,743.0 225.0,742.6 C226.0,742.2 227.0,741.8 228.0,741.4 C229.0,741.0 230.0,740.6 231.0,740.2 C232.0,739.8 233.0,739.4 234.0,739.0 C235.0,738.6 236.0,738.2 237.0,737.8 C238.0,737.4 239.0,737.0 240.0,736.6 C241.0,736.2 242.0,735.8 243.0,735.4 C244.0,734.9 245.0,734.5 246.0,734.1 C247.0,733.7 248.0,733.3 249.0,732.9 C250.0,732.5 251.0,732.0 252.0,731.6 C253.0,731.2 254.0,730.8 255.0,730.4 C256.0,730.0 257.0,729.5 258.0,729.1 C259.0,728.7 260.0,728.3 261.0,727.9 C262.0,727.4 263.0,727.0 264.0,726.6 C265.0,726.2 266.0,725.8 267.0,725.4 C268.0,724.9 269.0,724.5 270.0,724.1 C271.0,723.7 272.0,723.3 273.0,722.9 C274.0,722.5 275.0,722.1 276.0,721.7 C277.0,721.2 278.0,720.8 279.0,720.4 C280.0,720.0 281.0,719.6 282.0,719.2 C283.0,718.8 284.0,718.4 285.0,718.0 C286.0,717.6 287.0,717.2 288.0,716.8 C289.0,716.4 290.0,716.0 291.0,715.6 C292.0,715.3 293.0,714.9 294.0,714.5 C295.0,714.1 296.0,713.7 297.0,713.3 C298.0,712.9 299.0,712.6 300.0,712.2 C301.0,711.8 302.0,711.4 303.0,711.0 C304.0,710.7 305.0,710.3 306.0,709.9 C307.0,709.6 308.0,709.2 309.0,708.8 C310.0,708.5 311.0,708.1 312.0,707.8 C313.0,707.4 314.0,707.0 315.0,706.7 C316.0,706.3 317.0,706.0 318.0,705.7 C319.0,705.3 320.0,705.0 321.0,704.6 C322.0,704.3 323.0,704.0 324.0,703.6 C325.0,703.3 326.0,703.0 327.0,702.6 C328.0,702.3 329.0,702.0 330.0,701.7 C331.0,701.4 332.0,701.0 333.0,700.7 C334.0,700.4 335.0,700.1 336.0,699.8 C337.0,699.5 338.0,699.2 339.0,698.9 C340.0,698.6 341.0,698.4 342.0,698.1 C343.0,697.8 344.0,697.5 345.0,697.2 C346.0,697.0 347.0,696.7 348.0,696.4 C349.0,696.2 350.0,695.9 351.0,695.6 C352.0,695.4 353.0,695.1 354.0,694.9 C355.0,694.6 356.0,694.4 357.0,694.2 C358.0,693.9 359.0,693.7 360.0,693.5 C361.0,693.2 362.0,693.0 363.0,692.8 C364.0,692.6 365.0,692.4 366.0,692.2 C367.0,692.0 368.0,691.8 369.0,691.6 C370.0,691.4 371.0,691.2 372.0,691.0 C373.0,690.8 374.0,690.6 375.0,690.5 C376.0,690.3 377.0,690.1 378.0,689.9 C379.0,689.8 380.0,689.6 381.0,689.5 C382.0,689.3 383.0,689.2 384.0,689.0 C385.0,688.9 386.0,688.7 387.0,688.6 C388.0,688.4 389.0,688.3 390.0,688.2 C391.0,688.0 392.0,687.9 393.0,687.8 C394.0,687.6 395.0,687.5 396.0,687.4 C397.0,687.2 398.0,687.1 399.0,687.0 C400.0,686.9 401.0,686.7 402.0,686.6 C403.0,686.5 404.0,686.4 405.0,686.2 C406.0,686.1 407.0,686.0 408.0,685.9 C409.0,685.8 410.0,685.6 411.0,685.5 C412.0,685.4 413.0,685.3 414.0,685.1 C415.0,685.0 416.0,684.9 417.0,684.7 C418.0,684.6 419.0,684.5 420.0,684.3 C421.0,684.2 422.0,684.1 423.0,683.9 C424.0,683.8 425.0,683.6 426.0,683.5 C427.0,683.3 428.0,683.2 429.0,683.0 C430.0,682.9 431.0,682.7 432.0,682.6 C433.0,682.4 434.0,682.2 435.0,682.1 C436.0,681.9 437.0,681.7 438.0,681.5 C439.0,681.4 440.0,681.2 441.0,681.0 C442.0,680.8 443.0,680.6 444.0,680.4 C445.0,680.2 446.0,680.0 447.0,679.8 C448.0,679.5 449.0,679.3 450.0,679.1 C451.0,678.8 452.0,678.6 453.0,678.4 C454.0,678.1 455.0,677.9 456.0,677.6 C457.0,677.3 458.0,677.1 459.0,676.8 C460.0,676.5 461.0,676.2 462.0,675.9 C463.0,675.6 464.0,675.3 465.0,675.0 C466.0,674.7 467.0,674.4 468.0,674.0 C469.0,673.7 470.0,673.3 471.0,673.0 C472.0,672.6 473.0,672.3 474.0,671.9 C475.0,671.5 476.0,671.1 477.0,670.7 C478.0,670.3 479.0,669.9 480.0,669.5 C481.0,669.0 482.0,668.6 483.0,668.2 C484.0,667.7 485.0,667.2 486.0,666.8 C487.0,666.3 488.0,665.8 489.0,665.3 C490.0,664.8 491.0,664.3 492.0,663.7 C493.0,663.2 494.2,662.5 495.0,662.1 C495.8,661.7 496.3,661.4 496.6,661.2" fill="none" stroke="#8484c8" stroke-width="1.6" stroke-linecap="butt" stroke-linejoin="round" />
<path d="M492.0,667.1 C492.5,666.9 494.0,666.2 495.0,665.7 C496.0,665.3 497.0,664.8 498.0,664.3 C499.0,663.9 500.0,663.4 501.0,662.9 C502.0,662.4 503.0,661.9 504.0,661.4 C505.0,660.9 506.0,660.4 507.0,659.9 C508.0,659.4 509.0,658.9 510.0,658.3 C511.0,657.8 512.0,657.3 513.0,656.7 C514.0,656.2 515.0,655.6 516.0,655.1 C517.0,654.5 518.0,654.0 519.0,653.4 C520.0,652.8 521.0,652.2 522.0,651.7 C523.0,651.1 524.0,650.5 525.0,649.9 C526.0,649.3 527.0,648.7 528.0,648.1 C529.0,647.5 530.0,646.9 531.0,646.2 C532.0,645.6 533.0,645.0 534.0,644.3 C535.0,643.7 536.0,643.1 537.0,642.4 C538.0,641.7 539.0,641.1 540.0,640.4 C541.0,639.7 542.0,639.0 543.0,638.3 C544.0,637.5 545.0,636.8 546.0,636.0 C547.0,635.2 548.0,634.4 549.0,633.6 C550.0,632.8 551.0,631.9 552.0,631.0 C553.0,630.1 554.0,629.2 555.0,628.2 C556.0,627.2 557.0,626.2 558.0,625.2 C559.0,624.2 560.0,623.1 561.0,622.0 C562.0,620.9 563.0,619.8 564.0,618.6 C565.0,617.5 566.0,616.3 567.0,615.1 C568.0,613.9 569.0,612.7 570.0,611.5 C571.0,610.3 572.0,609.1 573.0,607.8 C574.0,606.6 575.0,605.3 576.0,604.1 C577.0,602.8 578.0,601.6 579.0,600.3 C580.0,599.1 581.0,597.8 582.0,596.5 C583.0,595.3 584.0,594.0 585.0,592.8 C586.0,591.6 587.0,590.3 588.0,589.1 C589.0,587.9 590.0,586.7 591.0,585.5 C592.0,584.3 593.0,583.1 594.0,581.9 C595.0,580.8 596.0,579.6 597.0,578.4 C598.0,577.3 599.0,576.1 600.0,574.9 C601.0,573.7 602.0,572.6 603.0,571.4 C604.0,570.2 605.0,569.0 606.0,567.7 C607.0,566.5 608.0,565.2 609.0,563.9 C610.0,562.7 611.0,561.4 612.0,560.1 C613.0,558.8 614.0,557.4 615.0,556.1 C616.0,554.7 617.0,553.4 618.0,552.0 C619.0,550.7 620.0,549.3 621.0,547.9 C622.0,546.5 623.0,545.1 624.0,543.7 C625.0,542.3 626.0,540.9 627.0,539.5 C628.0,538.1 629.0,536.7 630.0,535.3 C631.0,533.9 632.0,532.4 633.0,531.0 C634.0,529.6 635.0,528.2 636.0,526.8 C637.0,525.4 638.3,523.5 639.0,522.6 C639.7,521.7 639.8,521.4 640.0,521.2" fill="none" stroke="#e4acd8" stroke-width="5" stroke-linecap="butt" stroke-linejoin="round" />
<path d="M84.0,779.2 C84.5,779.0 86.0,778.4 87.0,778.1 C88.0,777.7 89.0,777.4 90.0,777.0 C91.0,776.7 92.0,776.4 93.0,776.1 C94.0,775.8 95.0,775.5 96.0,775.2 C97.0,774.9 98.0,774.7 99.0,774.4 C100.0,774.2 101.0,773.9 102.0,773.7 C103.0,773.5 104.0,773.2 105.0,773.0 C106.0,772.8 107.0,772.6 108.0,772.4 C109.0,772.2 110.0,772.0 111.0,771.9 C112.0,771.7 113.0,771.5 114.0,771.3 C115.0,771.2 116.0,771.0 117.0,770.8 C118.0,770.7 119.0,770.5 120.0,770.4 C121.0,770.2 122.0,770.1 123.0,770.0 C124.0,769.8 125.0,769.7 126.0,769.5 C127.0,769.4 128.0,769.3 129.0,769.1 C130.0,769.0 131.0,768.9 132.0,768.7 C133.0,768.6 134.0,768.5 135.0,768.3 C136.0,768.2 137.0,768.1 138.0,767.9 C139.0,767.8 140.0,767.7 141.0,767.5 C142.0,767.4 143.0,767.2 144.0,767.1 C145.0,766.9 146.0,766.8 147.0,766.6 C148.0,766.5 149.0,766.3 150.0,766.1 C151.0,766.0 152.0,765.8 153.0,765.6 C154.0,765.4 155.0,765.2 156.0,765.0 C157.0,764.9 158.0,764.7 159.0,764.5 C160.0,764.3 161.0,764.1 162.0,763.9 C163.0,763.7 164.0,763.4 165.0,763.2 C166.0,763.0 167.0,762.8 168.0,762.6 C169.0,762.3 170.0,762.1 171.0,761.9 C172.0,761.7 173.0,761.4 174.0,761.2 C175.0,760.9 176.0,760.7 177.0,760.4 C178.0,760.2 179.0,759.9 180.0,759.7 C181.0,759.4 182.0,759.1 183.0,758.9 C184.0,758.6 185.0,758.3 186.0,758.0 C187.0,757.8 188.0,757.5 189.0,757.2 C190.0,756.9 191.0,756.6 192.0,756.3 C193.0,756.0 194.0,755.7 195.0,755.4 C196.0,755.1 197.0,754.8 198.0,754.5 C199.0,754.2 200.0,753.9 201.0,753.6 C202.0,753.2 203.0,752.9 204.0,752.6 C205.0,752.3 206.0,751.9 207.0,751.6 C208.0,751.3 209.0,750.9 210.0,750.6 C211.0,750.2 212.0,749.9 213.0,749.5 C214.0,749.2 215.0,748.8 216.0,748.5 C217.0,748.1 218.0,747.7 219.0,747.4 C220.0,747.0 221.0,746.6 222.0,746.3 C223.0,745.9 224.0,745.5 225.0,745.1 C226.0,744.7 227.0,744.4 228.0,744.0 C229.0,743.6 230.0,743.2 231.0,742.8 C232.0,742.4 233.0,742.0 234.0,741.6 C235.0,741.2 236.0,740.8 237.0,740.4 C238.0,740.0 239.0,739.6 240.0,739.2 C241.0,738.8 242.0,738.4 243.0,737.9 C244.0,737.5 245.0,737.1 246.0,736.7 C247.0,736.3 248.0,735.8 249.0,735.4 C250.0,735.0 251.0,734.6 252.0,734.1 C253.0,733.7 254.0,733.3 255.0,732.8 C256.0,732.4 257.0,732.0 258.0,731.5 C259.0,731.1 260.0,730.7 261.0,730.2 C262.0,729.8 263.0,729.3 264.0,728.9 C265.0,728.4 266.0,728.0 267.0,727.5 C268.0,727.1 269.0,726.6 270.0,726.2 C271.0,725.7 272.0,725.3 273.0,724.8 C274.0,724.4 275.0,723.9 276.0,723.5 C277.0,723.1 278.0,722.6 279.0,722.2 C280.0,721.7 281.0,721.3 282.0,720.8 C283.0,720.4 284.0,720.0 285.0,719.5 C286.0,719.1 287.0,718.7 288.0,718.3 C289.0,717.9 290.0,717.4 291.0,717.0 C292.0,716.6 293.0,716.2 294.0,715.8 C295.0,715.4 296.0,715.1 297.0,714.7 C298.0,714.3 299.0,713.9 300.0,713.6 C301.0,713.2 302.0,712.9 303.0,712.5 C304.0,712.2 305.0,711.9 306.0,711.6 C307.0,711.2 308.0,710.9 309.0,710.6 C310.0,710.3 311.0,710.1 312.0,709.8 C313.0,709.5 314.0,709.3 315.0,709.0 C316.0,708.7 317.0,708.5 318.0,708.2 C319.0,708.0 320.0,707.7 321.0,707.5 C322.0,707.2 323.0,707.0 324.0,706.7 C325.0,706.4 326.0,706.2 327.0,705.9 C328.0,705.6 329.0,705.4 330.0,705.1 C331.0,704.8 332.0,704.5 333.0,704.2 C334.0,703.9 335.0,703.6 336.0,703.3 C337.0,703.0 338.0,702.6 339.0,702.3 C340.0,702.0 341.0,701.7 342.0,701.3 C343.0,701.0 344.0,700.7 345.0,700.3 C346.0,700.0 347.0,699.7 348.0,699.4 C349.0,699.0 350.0,698.7 351.0,698.4 C352.0,698.0 353.0,697.7 354.0,697.4 C355.0,697.1 356.0,696.8 357.0,696.5 C358.0,696.2 359.0,695.9 360.0,695.6 C361.0,695.3 362.0,695.0 363.0,694.7 C364.0,694.5 365.0,694.2 366.0,694.0 C367.0,693.7 368.0,693.5 369.0,693.3 C370.0,693.0 371.0,692.8 372.0,692.6 C373.0,692.4 374.0,692.3 375.0,692.1 C376.0,691.9 377.0,691.8 378.0,691.6 C379.0,691.5 380.0,691.4 381.0,691.3 C382.0,691.1 383.0,691.0 384.0,690.9 C385.0,690.8 386.0,690.7 387.0,690.6 C388.0,690.6 389.0,690.5 390.0,690.4 C391.0,690.3 392.0,690.3 393.0,690.2 C394.0,690.1 395.0,690.1 396.0,690.0 C397.0,690.0 398.0,689.9 399.0,689.8 C400.0,689.8 401.0,689.7 402.0,689.7 C403.0,689.6 404.0,689.5 405.0,689.5 C406.0,689.4 407.0,689.4 408.0,689.3 C409.0,689.2 410.0,689.2 411.0,689.1 C412.0,689.0 413.0,688.9 414.0,688.8 C415.0,688.7 416.0,688.6 417.0,688.5 C418.0,688.4 419.0,688.3 420.0,688.2 C421.0,688.1 422.0,688.0 423.0,687.8 C424.0,687.7 425.0,687.6 426.0,687.5 C427.0,687.3 428.0,687.2 429.0,687.0 C430.0,686.9 431.0,686.7 432.0,686.5 C433.0,686.4 434.0,686.2 435.0,686.0 C436.0,685.8 437.0,685.7 438.0,685.5 C439.0,685.3 440.0,685.1 441.0,684.9 C442.0,684.7 443.0,684.5 444.0,684.2 C445.0,684.0 446.0,683.8 447.0,683.6 C448.0,683.3 449.0,683.1 450.0,682.8 C451.0,682.6 452.0,682.3 453.0,682.1 C454.0,681.8 455.0,681.6 456.0,681.3 C457.0,681.0 458.0,680.7 459.0,680.4 C460.0,680.1 461.0,679.8 462.0,679.5 C463.0,679.2 464.0,678.9 465.0,678.6 C466.0,678.3 467.0,678.0 468.0,677.6 C469.0,677.3 470.0,677.0 471.0,676.6 C472.0,676.3 473.0,675.9 474.0,675.5 C475.0,675.2 476.0,674.8 477.0,674.4 C478.0,674.1 479.0,673.7 480.0,673.3 C481.0,672.9 482.0,672.5 483.0,672.1 C484.0,671.7 485.0,671.3 486.0,670.9 C487.0,670.5 488.0,670.0 489.0,669.6 C490.0,669.2 491.0,668.7 492.0,668.3 C493.0,667.8 494.0,667.4 495.0,666.9 C496.0,666.5 497.0,666.0 498.0,665.5 C499.0,665.1 500.0,664.6 501.0,664.1 C502.0,663.6 503.0,663.1 504.0,662.6 C505.0,662.1 506.0,661.6 507.0,661.1 C508.0,660.6 509.0,660.1 510.0,659.5 C511.0,659.0 512.0,658.5 513.0,657.9 C514.0,657.4 515.0,656.8 516.0,656.3 C517.0,655.7 518.0,655.2 519.0,654.6 C520.0,654.0 521.0,653.4 522.0,652.9 C523.0,652.3 524.0,651.7 525.0,651.1 C526.0,650.5 527.0,649.9 528.0,649.3 C529.0,648.7 530.0,648.1 531.0,647.4 C532.0,646.8 533.0,646.2 534.0,645.5 C535.0,644.9 536.0,644.3 537.0,643.6 C538.0,642.9 539.0,642.3 540.0,641.6 C541.0,640.9 542.0,640.2 543.0,639.5 C544.0,638.7 545.0,638.0 546.0,637.2 C547.0,636.4 548.0,635.6 549.0,634.8 C550.0,634.0 551.0,633.1 552.0,632.2 C553.0,631.3 554.0,630.4 555.0,629.4 C556.0,628.4 557.0,627.4 558.0,626.4 C559.0,625.4 560.0,624.3 561.0,623.2 C562.0,622.1 563.0,621.0 564.0,619.8 C565.0,618.7 566.0,617.5 567.0,616.3 C568.0,615.1 569.0,613.9 570.0,612.7 C571.0,611.5 572.0,610.3 573.0,609.0 C574.0,607.8 575.0,606.5 576.0,605.3 C577.0,604.0 578.0,602.8 579.0,601.5 C580.0,600.3 581.0,599.0 582.0,597.7 C583.0,596.5 584.0,595.2 585.0,594.0 C586.0,592.8 587.0,591.5 588.0,590.3 C589.0,589.1 590.0,587.9 591.0,586.7 C592.0,585.5 593.0,584.3 594.0,583.1 C595.0,582.0 596.0,580.8 597.0,579.6 C598.0,578.5 599.0,577.3 600.0,576.1 C601.0,574.9 602.0,573.8 603.0,572.6 C604.0,571.4 605.0,570.2 606.0,568.9 C607.0,567.7 608.0,566.4 609.0,565.1 C610.0,563.9 611.0,562.6 612.0,561.3 C613.0,560.0 614.0,558.6 615.0,557.3 C616.0,555.9 617.0,554.6 618.0,553.2 C619.0,551.9 620.0,550.5 621.0,549.1 C622.0,547.7 623.0,546.3 624.0,544.9 C625.0,543.5 626.0,542.1 627.0,540.7 C628.0,539.3 629.0,537.9 630.0,536.5 C631.0,535.1 632.0,533.6 633.0,532.2 C634.0,530.8 635.0,529.4 636.0,528.0 C637.0,526.6 638.3,524.7 639.0,523.8 C639.7,522.9 639.8,522.6 640.0,522.4" fill="none" stroke="#e08a8a" stroke-width="1.8" stroke-linecap="butt" stroke-linejoin="round" />
<path d="M84.0,777.5 C84.5,777.3 86.0,776.7 87.0,776.4 C88.0,776.0 89.0,775.7 90.0,775.3 C91.0,775.0 92.0,774.7 93.0,774.4 C94.0,774.1 95.0,773.8 96.0,773.5 C97.0,773.2 98.0,773.0 99.0,772.7 C100.0,772.5 101.0,772.2 102.0,772.0 C103.0,771.8 104.0,771.5 105.0,771.3 C106.0,771.1 107.0,770.9 108.0,770.7 C109.0,770.5 110.0,770.3 111.0,770.2 C112.0,770.0 113.0,769.8 114.0,769.6 C115.0,769.5 116.0,769.3 117.0,769.1 C118.0,769.0 119.0,768.8 120.0,768.7 C121.0,768.5 122.0,768.4 123.0,768.3 C124.0,768.1 125.0,768.0 126.0,767.8 C127.0,767.7 128.0,767.6 129.0,767.4 C130.0,767.3 131.0,767.2 132.0,767.0 C133.0,766.9 134.0,766.8 135.0,766.6 C136.0,766.5 137.0,766.4 138.0,766.2 C139.0,766.1 140.0,766.0 141.0,765.8 C142.0,765.7 143.0,765.5 144.0,765.4 C145.0,765.2 146.0,765.1 147.0,764.9 C148.0,764.8 149.0,764.6 150.0,764.4 C151.0,764.3 152.0,764.1 153.0,763.9 C154.0,763.7 155.0,763.5 156.0,763.3 C157.0,763.2 158.0,763.0 159.0,762.8 C160.0,762.6 161.0,762.4 162.0,762.2 C163.0,762.0 164.0,761.7 165.0,761.5 C166.0,761.3 167.0,761.1 168.0,760.9 C169.0,760.6 170.0,760.4 171.0,760.2 C172.0,760.0 173.0,759.7 174.0,759.5 C175.0,759.2 176.0,759.0 177.0,758.7 C178.0,758.5 179.0,758.2 180.0,758.0 C181.0,757.7 182.0,757.4 183.0,757.2 C184.0,756.9 185.0,756.6 186.0,756.3 C187.0,756.1 188.0,755.8 189.0,755.5 C190.0,755.2 191.0,754.9 192.0,754.6 C193.0,754.3 194.0,754.0 195.0,753.7 C196.0,753.4 197.0,753.1 198.0,752.8 C199.0,752.5 200.0,752.2 201.0,751.9 C202.0,751.5 203.0,751.2 204.0,750.9 C205.0,750.6 206.0,750.2 207.0,749.9 C208.0,749.6 209.0,749.2 210.0,748.9 C211.0,748.5 212.0,748.2 213.0,747.8 C214.0,747.5 215.0,747.1 216.0,746.8 C217.0,746.4 218.0,746.0 219.0,745.7 C220.0,745.3 221.0,744.9 222.0,744.6 C223.0,744.2 224.0,743.8 225.0,743.4 C226.0,743.0 227.0,742.7 228.0,742.3 C229.0,741.9 230.0,741.5 231.0,741.1 C232.0,740.7 233.0,740.3 234.0,739.9 C235.0,739.5 236.0,739.1 237.0,738.7 C238.0,738.3 239.0,737.9 240.0,737.5 C241.0,737.1 242.0,736.7 243.0,736.2 C244.0,735.8 245.0,735.4 246.0,735.0 C247.0,734.6 248.0,734.1 249.0,733.7 C250.0,733.3 251.0,732.9 252.0,732.4 C253.0,732.0 254.0,731.6 255.0,731.1 C256.0,730.7 257.0,730.3 258.0,729.8 C259.0,729.4 260.0,729.0 261.0,728.5 C262.0,728.1 263.0,727.6 264.0,727.2 C265.0,726.7 266.0,726.3 267.0,725.8 C268.0,725.4 269.0,724.9 270.0,724.5 C271.0,724.0 272.0,723.6 273.0,723.1 C274.0,722.7 275.0,722.2 276.0,721.8 C277.0,721.4 278.0,720.9 279.0,720.5 C280.0,720.0 281.0,719.6 282.0,719.1 C283.0,718.7 284.0,718.3 285.0,717.8 C286.0,717.4 287.0,717.0 288.0,716.6 C289.0,716.2 290.0,715.7 291.0,715.3 C292.0,714.9 293.0,714.5 294.0,714.1 C295.0,713.7 296.0,713.4 297.0,713.0 C298.0,712.6 299.0,712.2 300.0,711.9 C301.0,711.5 302.0,711.2 303.0,710.8 C304.0,710.5 305.0,710.2 306.0,709.9 C307.0,709.5 308.0,709.2 309.0,708.9 C310.0,708.6 311.0,708.4 312.0,708.1 C313.0,707.8 314.0,707.6 315.0,707.3 C316.0,707.0 317.0,706.8 318.0,706.5 C319.0,706.3 320.0,706.0 321.0,705.8 C322.0,705.5 323.0,705.3 324.0,705.0 C325.0,704.7 326.0,704.5 327.0,704.2 C328.0,703.9 329.0,703.7 330.0,703.4 C331.0,703.1 332.0,702.8 333.0,702.5 C334.0,702.2 335.0,701.9 336.0,701.6 C337.0,701.3 338.0,700.9 339.0,700.6 C340.0,700.3 341.0,700.0 342.0,699.6 C343.0,699.3 344.0,699.0 345.0,698.6 C346.0,698.3 347.0,698.0 348.0,697.7 C349.0,697.3 350.0,697.0 351.0,696.7 C352.0,696.3 353.0,696.0 354.0,695.7 C355.0,695.4 356.0,695.1 357.0,694.8 C358.0,694.5 359.0,694.2 360.0,693.9 C361.0,693.6 362.0,693.3 363.0,693.0 C364.0,692.8 365.0,692.5 366.0,692.3 C367.0,692.0 368.0,691.8 369.0,691.6 C370.0,691.3 371.0,691.1 372.0,690.9 C373.0,690.7 374.0,690.6 375.0,690.4 C376.0,690.2 377.0,690.1 378.0,689.9 C379.0,689.8 380.0,689.7 381.0,689.6 C382.0,689.4 383.0,689.3 384.0,689.2 C385.0,689.1 386.0,689.0 387.0,688.9 C388.0,688.9 389.0,688.8 390.0,688.7 C391.0,688.6 392.0,688.6 393.0,688.5 C394.0,688.4 395.0,688.4 396.0,688.3 C397.0,688.3 398.0,688.2 399.0,688.1 C400.0,688.1 401.0,688.0 402.0,688.0 C403.0,687.9 404.0,687.8 405.0,687.8 C406.0,687.7 407.0,687.7 408.0,687.6 C409.0,687.5 410.0,687.5 411.0,687.4 C412.0,687.3 413.0,687.2 414.0,687.1 C415.0,687.0 416.0,686.9 417.0,686.8 C418.0,686.7 419.0,686.6 420.0,686.5 C421.0,686.4 422.0,686.3 423.0,686.1 C424.0,686.0 425.0,685.9 426.0,685.8 C427.0,685.6 428.0,685.5 429.0,685.3 C430.0,685.2 431.0,685.0 432.0,684.8 C433.0,684.7 434.0,684.5 435.0,684.3 C436.0,684.1 437.0,684.0 438.0,683.8 C439.0,683.6 440.0,683.4 441.0,683.2 C442.0,683.0 443.0,682.8 444.0,682.5 C445.0,682.3 446.0,682.1 447.0,681.9 C448.0,681.6 449.0,681.4 450.0,681.1 C451.0,680.9 452.0,680.6 453.0,680.4 C454.0,680.1 455.0,679.9 456.0,679.6 C457.0,679.3 458.0,679.0 459.0,678.7 C460.0,678.4 461.0,678.1 462.0,677.8 C463.0,677.5 464.0,677.2 465.0,676.9 C466.0,676.6 467.0,676.3 468.0,675.9 C469.0,675.6 470.0,675.3 471.0,674.9 C472.0,674.6 473.0,674.2 474.0,673.8 C475.0,673.5 476.0,673.1 477.0,672.7 C478.0,672.4 479.0,672.0 480.0,671.6 C481.0,671.2 482.0,670.8 483.0,670.4 C484.0,670.0 485.0,669.6 486.0,669.2 C487.0,668.8 488.0,668.3 489.0,667.9 C490.0,667.5 491.0,667.0 492.0,666.6 C493.0,666.1 494.0,665.7 495.0,665.2 C496.0,664.8 497.0,664.3 498.0,663.8 C499.0,663.4 500.0,662.9 501.0,662.4 C502.0,661.9 503.0,661.4 504.0,660.9 C505.0,660.4 506.0,659.9 507.0,659.4 C508.0,658.9 509.0,658.4 510.0,657.8 C511.0,657.3 512.0,656.8 513.0,656.2 C514.0,655.7 515.0,655.1 516.0,654.6 C517.0,654.0 518.0,653.5 519.0,652.9 C520.0,652.3 521.0,651.7 522.0,651.2 C523.0,650.6 524.0,650.0 525.0,649.4 C526.0,648.8 527.0,648.2 528.0,647.6 C529.0,647.0 530.0,646.4 531.0,645.7 C532.0,645.1 533.0,644.5 534.0,643.8 C535.0,643.2 536.0,642.6 537.0,641.9 C538.0,641.2 539.0,640.6 540.0,639.9 C541.0,639.2 542.0,638.5 543.0,637.8 C544.0,637.0 545.0,636.3 546.0,635.5 C547.0,634.7 548.0,633.9 549.0,633.1 C550.0,632.3 551.0,631.4 552.0,630.5 C553.0,629.6 554.0,628.7 555.0,627.7 C556.0,626.7 557.0,625.7 558.0,624.7 C559.0,623.7 560.0,622.6 561.0,621.5 C562.0,620.4 563.0,619.3 564.0,618.1 C565.0,617.0 566.0,615.8 567.0,614.6 C568.0,613.4 569.0,612.2 570.0,611.0 C571.0,609.8 572.0,608.6 573.0,607.3 C574.0,606.1 575.0,604.8 576.0,603.6 C577.0,602.3 578.0,601.1 579.0,599.8 C580.0,598.6 581.0,597.3 582.0,596.0 C583.0,594.8 584.0,593.5 585.0,592.3 C586.0,591.1 587.0,589.8 588.0,588.6 C589.0,587.4 590.0,586.2 591.0,585.0 C592.0,583.8 593.0,582.6 594.0,581.4 C595.0,580.3 596.0,579.1 597.0,577.9 C598.0,576.8 599.0,575.6 600.0,574.4 C601.0,573.2 602.0,572.1 603.0,570.9 C604.0,569.7 605.0,568.5 606.0,567.2 C607.0,566.0 608.0,564.7 609.0,563.4 C610.0,562.2 611.0,560.9 612.0,559.6 C613.0,558.3 614.0,556.9 615.0,555.6 C616.0,554.2 617.0,552.9 618.0,551.5 C619.0,550.2 620.0,548.8 621.0,547.4 C622.0,546.0 623.0,544.6 624.0,543.2 C625.0,541.8 626.0,540.4 627.0,539.0 C628.0,537.6 629.0,536.2 630.0,534.8 C631.0,533.4 632.0,531.9 633.0,530.5 C634.0,529.1 635.0,527.7 636.0,526.3 C637.0,524.9 638.3,523.0 639.0,522.1 C639.7,521.2 639.8,520.9 640.0,520.7" fill="none" stroke="#cc66bb" stroke-width="1.8" stroke-linecap="butt" stroke-linejoin="round" />
<path d="M84.0,778.0 C84.5,777.8 86.0,777.2 87.0,776.9 C88.0,776.5 89.0,776.2 90.0,775.8 C91.0,775.5 92.0,775.2 93.0,774.9 C94.0,774.6 95.0,774.3 96.0,774.0 C97.0,773.7 98.0,773.5 99.0,773.2 C100.0,773.0 101.0,772.7 102.0,772.5 C103.0,772.3 104.0,772.0 105.0,771.8 C106.0,771.6 107.0,771.4 108.0,771.2 C109.0,771.0 110.0,770.8 111.0,770.7 C112.0,770.5 113.0,770.3 114.0,770.1 C115.0,770.0 116.0,769.8 117.0,769.6 C118.0,769.5 119.0,769.3 120.0,769.2 C121.0,769.0 122.0,768.9 123.0,768.8 C124.0,768.6 125.0,768.5 126.0,768.3 C127.0,768.2 128.0,768.1 129.0,767.9 C130.0,767.8 131.0,767.7 132.0,767.5 C133.0,767.4 134.0,767.3 135.0,767.1 C136.0,767.0 137.0,766.9 138.0,766.7 C139.0,766.6 140.0,766.5 141.0,766.3 C142.0,766.2 143.0,766.0 144.0,765.9 C145.0,765.7 146.0,765.6 147.0,765.4 C148.0,765.3 149.0,765.1 150.0,764.9 C151.0,764.8 152.0,764.6 153.0,764.4 C154.0,764.2 155.0,764.0 156.0,763.8 C157.0,763.7 158.0,763.5 159.0,763.3 C160.0,763.1 161.0,762.9 162.0,762.7 C163.0,762.5 164.0,762.2 165.0,762.0 C166.0,761.8 167.0,761.6 168.0,761.4 C169.0,761.1 170.0,760.9 171.0,760.7 C172.0,760.5 173.0,760.2 174.0,760.0 C175.0,759.7 176.0,759.5 177.0,759.2 C178.0,759.0 179.0,758.7 180.0,758.5 C181.0,758.2 182.0,757.9 183.0,757.7 C184.0,757.4 185.0,757.1 186.0,756.8 C187.0,756.6 188.0,756.3 189.0,756.0 C190.0,755.7 191.0,755.4 192.0,755.1 C193.0,754.8 194.0,754.5 195.0,754.2 C196.0,753.9 197.0,753.6 198.0,753.3 C199.0,753.0 200.0,752.7 201.0,752.4 C202.0,752.0 203.0,751.7 204.0,751.4 C205.0,751.1 206.0,750.7 207.0,750.4 C208.0,750.1 209.0,749.7 210.0,749.4 C211.0,749.0 212.0,748.7 213.0,748.3 C214.0,748.0 215.0,747.6 216.0,747.3 C217.0,746.9 218.0,746.5 219.0,746.2 C220.0,745.8 221.0,745.4 222.0,745.1 C223.0,744.7 224.0,744.3 225.0,743.9 C226.0,743.5 227.0,743.2 228.0,742.8 C229.0,742.4 230.0,742.0 231.0,741.6 C232.0,741.2 233.0,740.8 234.0,740.4 C235.0,740.0 236.0,739.6 237.0,739.2 C238.0,738.8 239.0,738.4 240.0,738.0 C241.0,737.6 242.0,737.2 243.0,736.7 C244.0,736.3 245.0,735.9 246.0,735.5 C247.0,735.1 248.0,734.6 249.0,734.2 C250.0,733.8 251.0,733.4 252.0,732.9 C253.0,732.5 254.0,732.1 255.0,731.6 C256.0,731.2 257.0,730.8 258.0,730.3 C259.0,729.9 260.0,729.5 261.0,729.0 C262.0,728.6 263.0,728.1 264.0,727.7 C265.0,727.2 266.0,726.8 267.0,726.3 C268.0,725.9 269.0,725.4 270.0,725.0 C271.0,724.5 272.0,724.1 273.0,723.6 C274.0,723.2 275.0,722.7 276.0,722.3 C277.0,721.9 278.0,721.4 279.0,721.0 C280.0,720.5 281.0,720.1 282.0,719.6 C283.0,719.2 284.0,718.8 285.0,718.3 C286.0,717.9 287.0,717.5 288.0,717.1 C289.0,716.7 290.0,716.2 291.0,715.8 C292.0,715.4 293.0,715.0 294.0,714.6 C295.0,714.2 296.0,713.9 297.0,713.5 C298.0,713.1 299.0,712.7 300.0,712.4 C301.0,712.0 302.0,711.7 303.0,711.3 C304.0,711.0 305.0,710.7 306.0,710.4 C307.0,710.0 308.0,709.7 309.0,709.4 C310.0,709.1 311.0,708.9 312.0,708.6 C313.0,708.3 314.0,708.1 315.0,707.8 C316.0,707.5 317.0,707.3 318.0,707.0 C319.0,706.8 320.0,706.5 321.0,706.3 C322.0,706.0 323.0,705.8 324.0,705.5 C325.0,705.2 326.0,705.0 327.0,704.7 C328.0,704.4 329.0,704.2 330.0,703.9 C331.0,703.6 332.0,703.3 333.0,703.0 C334.0,702.7 335.0,702.4 336.0,702.1 C337.0,701.8 338.0,701.4 339.0,701.1 C340.0,700.8 341.0,700.5 342.0,700.1 C343.0,699.8 344.0,699.5 345.0,699.1 C346.0,698.8 347.0,698.5 348.0,698.2 C349.0,697.8 350.0,697.5 351.0,697.2 C352.0,696.8 353.0,696.5 354.0,696.2 C355.0,695.9 356.0,695.6 357.0,695.3 C358.0,695.0 359.0,694.7 360.0,694.4 C361.0,694.1 362.0,693.8 363.0,693.5 C364.0,693.3 365.0,693.0 366.0,692.8 C367.0,692.5 368.0,692.3 369.0,692.1 C370.0,691.8 371.0,691.6 372.0,691.4 C373.0,691.2 374.0,691.1 375.0,690.9 C376.0,690.7 377.0,690.6 378.0,690.4 C379.0,690.3 380.0,690.2 381.0,690.1 C382.0,689.9 383.0,689.8 384.0,689.7 C385.0,689.6 386.0,689.5 387.0,689.4 C388.0,689.4 389.0,689.3 390.0,689.2 C391.0,689.1 392.0,689.1 393.0,689.0 C394.0,688.9 395.0,688.9 396.0,688.8 C397.0,688.8 398.0,688.7 399.0,688.6 C400.0,688.6 401.0,688.5 402.0,688.5 C403.0,688.4 404.0,688.3 405.0,688.3 C406.0,688.2 407.0,688.2 408.0,688.1 C409.0,688.0 410.0,688.0 411.0,687.9 C412.0,687.8 413.0,687.7 414.0,687.6 C415.0,687.5 416.0,687.4 417.0,687.3 C418.0,687.2 419.0,687.1 420.0,687.0 C421.0,686.9 422.0,686.8 423.0,686.6 C424.0,686.5 425.0,686.4 426.0,686.3 C427.0,686.1 428.0,686.0 429.0,685.8 C430.0,685.7 431.0,685.5 432.0,685.3 C433.0,685.2 434.0,685.0 435.0,684.8 C436.0,684.6 437.0,684.5 438.0,684.3 C439.0,684.1 440.0,683.9 441.0,683.7 C442.0,683.5 443.0,683.3 444.0,683.0 C445.0,682.8 446.0,682.6 447.0,682.4 C448.0,682.1 449.0,681.9 450.0,681.6 C451.0,681.4 452.0,681.1 453.0,680.9 C454.0,680.6 455.0,680.4 456.0,680.1 C457.0,679.8 458.0,679.5 459.0,679.2 C460.0,678.9 461.0,678.6 462.0,678.3 C463.0,678.0 464.0,677.7 465.0,677.4 C466.0,677.1 467.0,676.8 468.0,676.4 C469.0,676.1 470.0,675.8 471.0,675.4 C472.0,675.1 473.0,674.7 474.0,674.3 C475.0,674.0 476.0,673.6 477.0,673.2 C478.0,672.9 479.0,672.5 480.0,672.1 C481.0,671.7 482.0,671.3 483.0,670.9 C484.0,670.5 485.0,670.1 486.0,669.7 C487.0,669.3 488.0,668.8 489.0,668.4 C490.0,668.0 491.0,667.5 492.0,667.1 C493.0,666.6 494.0,666.2 495.0,665.7 C496.0,665.3 497.0,664.8 498.0,664.3 C499.0,663.9 500.0,663.4 501.0,662.9 C502.0,662.4 503.0,661.9 504.0,661.4 C505.0,660.9 506.0,660.4 507.0,659.9 C508.0,659.4 509.0,658.9 510.0,658.3 C511.0,657.8 512.0,657.3 513.0,656.7 C514.0,656.2 515.0,655.6 516.0,655.1 C517.0,654.5 518.0,654.0 519.0,653.4 C520.0,652.8 521.0,652.2 522.0,651.7 C523.0,651.1 524.0,650.5 525.0,649.9 C526.0,649.3 527.0,648.7 528.0,648.1 C529.0,647.5 530.0,646.9 531.0,646.2 C532.0,645.6 533.0,645.0 534.0,644.3 C535.0,643.7 536.0,643.1 537.0,642.4 C538.0,641.7 539.0,641.1 540.0,640.4 C541.0,639.7 542.0,639.0 543.0,638.3 C544.0,637.5 545.0,636.8 546.0,636.0 C547.0,635.2 548.0,634.4 549.0,633.6 C550.0,632.8 551.0,631.9 552.0,631.0 C553.0,630.1 554.0,629.2 555.0,628.2 C556.0,627.2 557.0,626.2 558.0,625.2 C559.0,624.2 560.0,623.1 561.0,622.0 C562.0,620.9 563.0,619.8 564.0,618.6 C565.0,617.5 566.0,616.3 567.0,615.1 C568.0,613.9 569.0,612.7 570.0,611.5 C571.0,610.3 572.0,609.1 573.0,607.8 C574.0,606.6 575.0,605.3 576.0,604.1 C577.0,602.8 578.0,601.6 579.0,600.3 C580.0,599.1 581.0,597.8 582.0,596.5 C583.0,595.3 584.0,594.0 585.0,592.8 C586.0,591.6 587.0,590.3 588.0,589.1 C589.0,587.9 590.0,586.7 591.0,585.5 C592.0,584.3 593.0,583.1 594.0,581.9 C595.0,580.8 596.0,579.6 597.0,578.4 C598.0,577.3 599.0,576.1 600.0,574.9 C601.0,573.7 602.0,572.6 603.0,571.4 C604.0,570.2 605.0,569.0 606.0,567.7 C607.0,566.5 608.0,565.2 609.0,563.9 C610.0,562.7 611.0,561.4 612.0,560.1 C613.0,558.8 614.0,557.4 615.0,556.1 C616.0,554.7 617.0,553.4 618.0,552.0 C619.0,550.7 620.0,549.3 621.0,547.9 C622.0,546.5 623.0,545.1 624.0,543.7 C625.0,542.3 626.0,540.9 627.0,539.5 C628.0,538.1 629.0,536.7 630.0,535.3 C631.0,533.9 632.0,532.4 633.0,531.0 C634.0,529.6 635.0,528.2 636.0,526.8 C637.0,525.4 638.3,523.5 639.0,522.6 C639.7,521.7 639.8,521.4 640.0,521.2" fill="none" stroke="#d890c8" stroke-width="3" stroke-linecap="butt" stroke-linejoin="round" opacity="0.55"/>
<ellipse cx="129.7" cy="764.3" rx="8.3" ry="12.3" fill="none" stroke="#3a3a3a" stroke-width="2.6" pathLength="66" stroke-dasharray="0 2.5 6.5 4.5 6 6 15 6 6 4.5 6.5 2.5"/>
<ellipse cx="274.0" cy="719.2" rx="8.3" ry="12.3" fill="none" stroke="#3a3a3a" stroke-width="2.6" pathLength="66" stroke-dasharray="0 2.5 6.5 4.5 6 6 15 6 6 4.5 6.5 2.5"/>
<ellipse cx="352.8" cy="694.8" rx="8.3" ry="12.3" fill="none" stroke="#3a3a3a" stroke-width="2.6" pathLength="66" stroke-dasharray="0 2.5 6.5 4.5 6 6 15 6 6 4.5 6.5 2.5"/>
<ellipse cx="460.0" cy="681.6" rx="8.3" ry="12.3" fill="none" stroke="#3a3a3a" stroke-width="2.6" pathLength="66" stroke-dasharray="0 2.5 6.5 4.5 6 6 15 6 6 4.5 6.5 2.5"/>
<ellipse cx="565.5" cy="624.0" rx="8.3" ry="12.3" fill="none" stroke="#3a3a3a" stroke-width="2.6" pathLength="66" stroke-dasharray="0 2.5 6.5 4.5 6 6 15 6 6 4.5 6.5 2.5"/>
<rect x="91.2" y="501.8" width="104.6" height="166.8" rx="1.5" fill="#fff" stroke="#8a8a8a" stroke-width="1.8"/>
<line x1="102.3" y1="517.2" x2="130.1" y2="517.2" stroke="#88c088" stroke-width="2.2"/>
<text x="147.6" y="524.6" font-family='"Liberation Sans", sans-serif' font-size="19.0" text-anchor="start" fill="#333" stroke="#333" stroke-width="0.35">3C/2</text>
<line x1="102.3" y1="544.4" x2="130.1" y2="544.4" stroke="#7878c0" stroke-width="2.2"/>
<text x="147.6" y="551.8" font-family='"Liberation Sans", sans-serif' font-size="19.0" text-anchor="start" fill="#333" stroke="#333" stroke-width="0.35">1C</text>
<line x1="102.3" y1="571.6" x2="130.1" y2="571.6" stroke="#c880d0" stroke-width="2.2"/>
<text x="147.6" y="579.0" font-family='"Liberation Sans", sans-serif' font-size="19.0" text-anchor="start" fill="#333" stroke="#333" stroke-width="0.35">2C/3</text>
<line x1="102.3" y1="598.8" x2="130.1" y2="598.8" stroke="#e07070" stroke-width="2.2"/>
<text x="147.6" y="606.2" font-family='"Liberation Sans", sans-serif' font-size="19.0" text-anchor="start" fill="#333" stroke="#333" stroke-width="0.35">C/2</text>
<line x1="102.3" y1="626.0" x2="130.1" y2="626.0" stroke="#80c8c8" stroke-width="2.2"/>
<text x="147.6" y="633.4" font-family='"Liberation Sans", sans-serif' font-size="19.0" text-anchor="start" fill="#333" stroke="#333" stroke-width="0.35">C/3</text>
<line x1="102.3" y1="653.2" x2="130.1" y2="653.2" stroke="#d0d080" stroke-width="2.2"/>
<text x="147.6" y="660.6" font-family='"Liberation Sans", sans-serif' font-size="19.0" text-anchor="start" fill="#333" stroke="#333" stroke-width="0.35">C/5</text>
<rect x="703.5" y="496" width="559.3" height="281" fill="none" stroke="#c4c4c4" stroke-width="1.8"/>
<text x="700.5" y="507.7" font-family='"Liberation Sans", sans-serif' font-size="25.0" text-anchor="end" fill="#2a2a2a" stroke="#2a2a2a" stroke-width="0.35" >200</text>
<text x="700.5" y="578.0" font-family='"Liberation Sans", sans-serif' font-size="25.0" text-anchor="end" fill="#2a2a2a" stroke="#2a2a2a" stroke-width="0.35" >150</text>
<text x="700.5" y="647.9" font-family='"Liberation Sans", sans-serif' font-size="25.0" text-anchor="end" fill="#2a2a2a" stroke="#2a2a2a" stroke-width="0.35" >100</text>
<text x="700.5" y="718.9" font-family='"Liberation Sans", sans-serif' font-size="25.0" text-anchor="end" fill="#2a2a2a" stroke="#2a2a2a" stroke-width="0.35" >50</text>
<text x="700.5" y="786.2" font-family='"Liberation Sans", sans-serif' font-size="25.0" text-anchor="end" fill="#2a2a2a" stroke="#2a2a2a" stroke-width="0.35" >0</text>
<text x="704.2" y="804.5" font-family='"Liberation Sans", sans-serif' font-size="25.0" text-anchor="middle" fill="#2a2a2a" stroke="#2a2a2a" stroke-width="0.35" >0</text>
<text x="814.1" y="804.5" font-family='"Liberation Sans", sans-serif' font-size="25.0" text-anchor="middle" fill="#2a2a2a" stroke="#2a2a2a" stroke-width="0.35" >20</text>
<text x="927.7" y="804.5" font-family='"Liberation Sans", sans-serif' font-size="25.0" text-anchor="middle" fill="#2a2a2a" stroke="#2a2a2a" stroke-width="0.35" >40</text>
<text x="1037.8" y="804.5" font-family='"Liberation Sans", sans-serif' font-size="25.0" text-anchor="middle" fill="#2a2a2a" stroke="#2a2a2a" stroke-width="0.35" >60</text>
<text x="1150.0" y="804.5" font-family='"Liberation Sans", sans-serif' font-size="25.0" text-anchor="middle" fill="#2a2a2a" stroke="#2a2a2a" stroke-width="0.35" >80</text>
<text x="1258.6" y="804.5" font-family='"Liberation Sans", sans-serif' font-size="25.0" text-anchor="middle" fill="#2a2a2a" stroke="#2a2a2a" stroke-width="0.35" >100</text>
<text x="996.8" y="842.9" font-family='"Liberation Sans", sans-serif' font-size="28.5" text-anchor="middle" fill="#2a2a2a" stroke="#2a2a2a" stroke-width="0.35" >DOD (%)</text>
<path d="M704.4,572.2 C704.9,573.6 706.4,577.5 707.4,580.1 C708.4,582.7 709.4,585.2 710.4,587.6 C711.4,590.1 712.4,592.5 713.4,594.8 C714.4,597.2 715.4,599.5 716.4,601.7 C717.4,604.0 718.4,606.1 719.4,608.3 C720.4,610.4 721.4,612.5 722.4,614.6 C723.4,616.6 724.4,618.6 725.4,620.5 C726.4,622.5 727.4,624.4 728.4,626.2 C729.4,628.1 730.4,629.9 731.4,631.7 C732.4,633.4 733.4,635.2 734.4,636.9 C735.4,638.5 736.4,640.2 737.4,641.8 C738.4,643.4 739.4,644.9 740.4,646.5 C741.4,648.0 742.4,649.4 743.4,650.9 C744.4,652.3 745.4,653.7 746.4,655.0 C747.4,656.3 748.4,657.6 749.4,658.8 C750.4,660.1 751.4,661.3 752.4,662.4 C753.4,663.6 754.4,664.7 755.4,665.7 C756.4,666.7 757.4,667.7 758.4,668.7 C759.4,669.7 760.4,670.6 761.4,671.5 C762.4,672.3 763.4,673.2 764.4,674.0 C765.4,674.8 766.4,675.6 767.4,676.4 C768.4,677.2 769.4,678.0 770.4,678.8 C771.4,679.5 772.4,680.2 773.4,681.0 C774.4,681.7 775.4,682.4 776.4,683.1 C777.4,683.8 778.4,684.5 779.4,685.1 C780.4,685.8 781.4,686.4 782.4,687.1 C783.4,687.7 784.4,688.3 785.4,688.9 C786.4,689.5 787.4,690.1 788.4,690.7 C789.4,691.2 790.4,691.8 791.4,692.3 C792.4,692.9 793.4,693.4 794.4,693.9 C795.4,694.4 796.4,694.9 797.4,695.4 C798.4,695.9 799.4,696.4 800.4,696.9 C801.4,697.3 802.4,697.8 803.4,698.2 C804.4,698.7 805.4,699.1 806.4,699.5 C807.4,699.9 808.4,700.3 809.4,700.7 C810.4,701.1 811.4,701.5 812.4,701.8 C813.4,702.2 814.4,702.6 815.4,702.9 C816.4,703.3 817.4,703.6 818.4,703.9 C819.4,704.3 820.4,704.6 821.4,704.9 C822.4,705.2 823.4,705.5 824.4,705.8 C825.4,706.1 826.4,706.3 827.4,706.6 C828.4,706.9 829.4,707.1 830.4,707.4 C831.4,707.6 832.4,707.9 833.4,708.1 C834.4,708.3 835.4,708.6 836.4,708.8 C837.4,709.0 838.4,709.2 839.4,709.4 C840.4,709.6 841.4,709.8 842.4,710.0 C843.4,710.2 844.4,710.3 845.4,710.5 C846.4,710.7 847.4,710.8 848.4,711.0 C849.4,711.2 850.4,711.3 851.4,711.4 C852.4,711.6 853.4,711.7 854.4,711.9 C855.4,712.0 856.4,712.1 857.4,712.2 C858.4,712.4 859.4,712.5 860.4,712.6 C861.4,712.7 862.4,712.8 863.4,712.9 C864.4,713.0 865.4,713.1 866.4,713.2 C867.4,713.3 868.4,713.4 869.4,713.5 C870.4,713.5 871.4,713.6 872.4,713.7 C873.4,713.8 874.4,713.8 875.4,713.9 C876.4,714.0 877.4,714.1 878.4,714.1 C879.4,714.2 880.4,714.2 881.4,714.3 C882.4,714.4 883.4,714.4 884.4,714.5 C885.4,714.5 886.4,714.6 887.4,714.6 C888.4,714.7 889.4,714.7 890.4,714.7 C891.4,714.8 892.4,714.8 893.4,714.9 C894.4,714.9 895.4,714.9 896.4,714.9 C897.4,715.0 898.4,715.0 899.4,715.0 C900.4,715.0 901.4,715.1 902.4,715.1 C903.4,715.1 904.4,715.1 905.4,715.1 C906.4,715.1 907.4,715.1 908.4,715.1 C909.4,715.1 910.4,715.1 911.4,715.1 C912.4,715.1 913.4,715.1 914.4,715.1 C915.4,715.1 916.4,715.1 917.4,715.0 C918.4,715.0 919.4,715.0 920.4,715.0 C921.4,714.9 922.4,714.9 923.4,714.9 C924.4,714.8 925.4,714.8 926.4,714.8 C927.4,714.7 928.4,714.7 929.4,714.6 C930.4,714.6 931.4,714.5 932.4,714.5 C933.4,714.4 934.4,714.3 935.4,714.3 C936.4,714.2 937.4,714.1 938.4,714.1 C939.4,714.0 940.4,713.9 941.4,713.8 C942.4,713.8 943.4,713.7 944.4,713.6 C945.4,713.5 946.4,713.4 947.4,713.3 C948.4,713.2 949.4,713.1 950.4,713.1 C951.4,713.0 952.4,712.9 953.4,712.8 C954.4,712.7 955.4,712.6 956.4,712.5 C957.4,712.4 958.4,712.4 959.4,712.3 C960.4,712.2 961.4,712.1 962.4,712.1 C963.4,712.0 964.4,711.9 965.4,711.9 C966.4,711.8 967.4,711.8 968.4,711.7 C969.4,711.7 970.4,711.6 971.4,711.6 C972.4,711.6 973.4,711.6 974.4,711.6 C975.4,711.5 976.4,711.5 977.4,711.6 C978.4,711.6 979.4,711.6 980.4,711.6 C981.4,711.7 982.4,711.7 983.4,711.8 C984.4,711.8 985.4,711.9 986.4,712.0 C987.4,712.1 988.4,712.1 989.4,712.2 C990.4,712.3 991.4,712.4 992.4,712.6 C993.4,712.7 994.4,712.8 995.4,712.9 C996.4,713.1 997.4,713.2 998.4,713.4 C999.4,713.5 1000.4,713.7 1001.4,713.8 C1002.4,714.0 1003.4,714.2 1004.4,714.3 C1005.4,714.5 1006.4,714.7 1007.4,714.9 C1008.4,715.1 1009.4,715.3 1010.4,715.5 C1011.4,715.7 1012.4,715.9 1013.4,716.1 C1014.4,716.3 1015.4,716.5 1016.4,716.7 C1017.4,716.9 1018.4,717.1 1019.4,717.3 C1020.4,717.6 1021.4,717.8 1022.4,718.0 C1023.4,718.2 1024.4,718.4 1025.4,718.7 C1026.4,718.9 1027.4,719.1 1028.4,719.4 C1029.4,719.6 1030.4,719.8 1031.4,720.1 C1032.4,720.3 1033.4,720.6 1034.4,720.8 C1035.4,721.1 1036.4,721.3 1037.4,721.5 C1038.4,721.8 1039.4,722.0 1040.4,722.3 C1041.4,722.5 1042.4,722.8 1043.4,723.0 C1044.4,723.3 1045.4,723.6 1046.4,723.8 C1047.4,724.1 1048.4,724.3 1049.4,724.6 C1050.4,724.8 1051.4,725.1 1052.4,725.4 C1053.4,725.6 1054.4,725.9 1055.4,726.1 C1056.4,726.4 1057.4,726.7 1058.4,726.9 C1059.4,727.2 1060.4,727.4 1061.4,727.7 C1062.4,728.0 1063.4,728.2 1064.4,728.5 C1065.4,728.7 1066.4,729.0 1067.4,729.3 C1068.4,729.5 1069.4,729.8 1070.4,730.0 C1071.4,730.3 1072.4,730.5 1073.4,730.8 C1074.4,731.1 1075.4,731.3 1076.4,731.6 C1077.4,731.8 1078.4,732.1 1079.4,732.3 C1080.4,732.6 1081.4,732.8 1082.4,733.1 C1083.4,733.3 1084.4,733.6 1085.4,733.8 C1086.4,734.1 1087.4,734.3 1088.4,734.6 C1089.4,734.8 1090.4,735.0 1091.4,735.3 C1092.4,735.5 1093.4,735.8 1094.4,736.0 C1095.4,736.2 1096.4,736.5 1097.4,736.7 C1098.4,736.9 1099.4,737.1 1100.4,737.4 C1101.4,737.6 1102.4,737.8 1103.4,738.0 C1104.4,738.3 1105.4,738.5 1106.4,738.7 C1107.4,738.9 1108.4,739.1 1109.4,739.3 C1110.4,739.5 1111.4,739.7 1112.4,739.9 C1113.4,740.1 1114.4,740.3 1115.4,740.5 C1116.4,740.7 1117.4,740.9 1118.4,741.1 C1119.4,741.2 1120.4,741.4 1121.4,741.6 C1122.4,741.8 1123.4,741.9 1124.4,742.1 C1125.4,742.3 1126.4,742.4 1127.4,742.6 C1128.4,742.7 1129.4,742.9 1130.4,743.1 C1131.4,743.2 1132.4,743.4 1133.4,743.5 C1134.4,743.7 1135.4,743.8 1136.4,744.0 C1137.4,744.1 1138.4,744.3 1139.4,744.4 C1140.4,744.6 1141.4,744.7 1142.4,744.9 C1143.4,745.0 1144.4,745.2 1145.4,745.3 C1146.4,745.5 1147.4,745.6 1148.4,745.8 C1149.4,745.9 1150.4,746.1 1151.4,746.2 C1152.4,746.4 1153.4,746.5 1154.4,746.7 C1155.4,746.8 1156.4,747.0 1157.4,747.2 C1158.4,747.3 1159.4,747.5 1160.4,747.7 C1161.4,747.9 1162.4,748.0 1163.4,748.2 C1164.4,748.4 1165.4,748.6 1166.4,748.8 C1167.4,749.0 1168.4,749.2 1169.4,749.4 C1170.4,749.6 1171.4,749.8 1172.4,750.0 C1173.4,750.2 1174.4,750.4 1175.4,750.6 C1176.4,750.9 1177.4,751.1 1178.4,751.3 C1179.4,751.6 1180.4,751.8 1181.4,752.1 C1182.4,752.3 1183.4,752.6 1184.4,752.8 C1185.4,753.1 1186.4,753.3 1187.4,753.6 C1188.4,753.9 1189.4,754.1 1190.4,754.4 C1191.4,754.7 1192.4,754.9 1193.4,755.2 C1194.4,755.5 1195.4,755.8 1196.4,756.1 C1197.4,756.3 1198.4,756.6 1199.4,756.9 C1200.4,757.2 1201.4,757.5 1202.4,757.8 C1203.4,758.0 1204.4,758.3 1205.4,758.6 C1206.4,758.9 1207.4,759.2 1208.4,759.5 C1209.4,759.8 1210.4,760.0 1211.4,760.3 C1212.4,760.6 1213.4,760.9 1214.4,761.2 C1215.4,761.5 1216.4,761.8 1217.4,762.0 C1218.4,762.3 1219.4,762.6 1220.4,762.9 C1221.4,763.1 1222.4,763.4 1223.4,763.7 C1224.4,764.0 1225.4,764.2 1226.4,764.5 C1227.4,764.8 1228.4,765.0 1229.4,765.3 C1230.4,765.5 1231.4,765.8 1232.4,766.0 C1233.4,766.3 1234.4,766.5 1235.4,766.8 C1236.4,767.0 1237.4,767.3 1238.4,767.5 C1239.4,767.7 1240.4,767.9 1241.4,768.2 C1242.4,768.4 1243.4,768.6 1244.4,768.8 C1245.4,769.0 1246.4,769.2 1247.4,769.4 C1248.4,769.6 1249.4,769.8 1250.4,769.9 C1251.4,770.1 1252.4,770.3 1253.4,770.4 C1254.4,770.6 1255.4,770.8 1256.4,770.9 C1257.4,771.0 1258.5,771.2 1259.4,771.3 C1260.3,771.4 1261.6,771.6 1262.0,771.6" fill="none" stroke="#a8d8a8" stroke-width="1.6" stroke-linecap="butt" stroke-linejoin="round" />
<path d="M704.4,571.4 C704.9,572.8 706.4,576.7 707.4,579.3 C708.4,581.9 709.4,584.4 710.4,586.8 C711.4,589.3 712.4,591.7 713.4,594.0 C714.4,596.4 715.4,598.7 716.4,600.9 C717.4,603.2 718.4,605.3 719.4,607.5 C720.4,609.6 721.4,611.7 722.4,613.8 C723.4,615.8 724.4,617.8 725.4,619.7 C726.4,621.7 727.4,623.6 728.4,625.4 C729.4,627.3 730.4,629.1 731.4,630.9 C732.4,632.6 733.4,634.4 734.4,636.1 C735.4,637.7 736.4,639.4 737.4,641.0 C738.4,642.6 739.4,644.1 740.4,645.7 C741.4,647.2 742.4,648.6 743.4,650.1 C744.4,651.5 745.4,652.9 746.4,654.2 C747.4,655.5 748.4,656.8 749.4,658.0 C750.4,659.3 751.4,660.5 752.4,661.6 C753.4,662.8 754.4,663.9 755.4,664.9 C756.4,665.9 757.4,666.9 758.4,667.9 C759.4,668.9 760.4,669.8 761.4,670.7 C762.4,671.5 763.4,672.4 764.4,673.2 C765.4,674.0 766.4,674.8 767.4,675.6 C768.4,676.4 769.4,677.2 770.4,678.0 C771.4,678.7 772.4,679.4 773.4,680.2 C774.4,680.9 775.4,681.6 776.4,682.3 C777.4,683.0 778.4,683.7 779.4,684.3 C780.4,685.0 781.4,685.6 782.4,686.3 C783.4,686.9 784.4,687.5 785.4,688.1 C786.4,688.7 787.4,689.3 788.4,689.9 C789.4,690.4 790.4,691.0 791.4,691.5 C792.4,692.1 793.4,692.6 794.4,693.1 C795.4,693.6 796.4,694.1 797.4,694.6 C798.4,695.1 799.4,695.6 800.4,696.1 C801.4,696.5 802.4,697.0 803.4,697.4 C804.4,697.9 805.4,698.3 806.4,698.7 C807.4,699.1 808.4,699.5 809.4,699.9 C810.4,700.3 811.4,700.7 812.4,701.0 C813.4,701.4 814.4,701.8 815.4,702.1 C816.4,702.5 817.4,702.8 818.4,703.1 C819.4,703.5 820.4,703.8 821.4,704.1 C822.4,704.4 823.4,704.7 824.4,705.0 C825.4,705.3 826.4,705.5 827.4,705.8 C828.4,706.1 829.4,706.3 830.4,706.6 C831.4,706.8 832.4,707.1 833.4,707.3 C834.4,707.5 835.4,707.8 836.4,708.0 C837.4,708.2 838.4,708.4 839.4,708.6 C840.4,708.8 841.4,709.0 842.4,709.2 C843.4,709.4 844.4,709.5 845.4,709.7 C846.4,709.9 847.4,710.0 848.4,710.2 C849.4,710.4 850.4,710.5 851.4,710.6 C852.4,710.8 853.4,710.9 854.4,711.1 C855.4,711.2 856.4,711.3 857.4,711.4 C858.4,711.6 859.4,711.7 860.4,711.8 C861.4,711.9 862.4,712.0 863.4,712.1 C864.4,712.2 865.4,712.3 866.4,712.4 C867.4,712.5 868.4,712.6 869.4,712.7 C870.4,712.7 871.4,712.8 872.4,712.9 C873.4,713.0 874.4,713.0 875.4,713.1 C876.4,713.2 877.4,713.3 878.4,713.3 C879.4,713.4 880.4,713.4 881.4,713.5 C882.4,713.6 883.4,713.6 884.4,713.7 C885.4,713.7 886.4,713.8 887.4,713.8 C888.4,713.9 889.4,713.9 890.4,713.9 C891.4,714.0 892.4,714.0 893.4,714.1 C894.4,714.1 895.4,714.1 896.4,714.1 C897.4,714.2 898.4,714.2 899.4,714.2 C900.4,714.2 901.4,714.3 902.4,714.3 C903.4,714.3 904.4,714.3 905.4,714.3 C906.4,714.3 907.4,714.3 908.4,714.3 C909.4,714.3 910.4,714.3 911.4,714.3 C912.4,714.3 913.4,714.3 914.4,714.3 C915.4,714.3 916.4,714.3 917.4,714.2 C918.4,714.2 919.4,714.2 920.4,714.2 C921.4,714.1 922.4,714.1 923.4,714.1 C924.4,714.0 925.4,714.0 926.4,714.0 C927.4,713.9 928.4,713.9 929.4,713.8 C930.4,713.8 931.4,713.7 932.4,713.7 C933.4,713.6 934.4,713.5 935.4,713.5 C936.4,713.4 937.4,713.3 938.4,713.3 C939.4,713.2 940.4,713.1 941.4,713.0 C942.4,713.0 943.4,712.9 944.4,712.8 C945.4,712.7 946.4,712.6 947.4,712.5 C948.4,712.4 949.4,712.3 950.4,712.3 C951.4,712.2 952.4,712.1 953.4,712.0 C954.4,711.9 955.4,711.8 956.4,711.7 C957.4,711.6 958.4,711.6 959.4,711.5 C960.4,711.4 961.4,711.3 962.4,711.3 C963.4,711.2 964.4,711.1 965.4,711.1 C966.4,711.0 967.4,711.0 968.4,710.9 C969.4,710.9 970.4,710.8 971.4,710.8 C972.4,710.8 973.4,710.8 974.4,710.8 C975.4,710.7 976.4,710.7 977.4,710.8 C978.4,710.8 979.4,710.8 980.4,710.8 C981.4,710.9 982.4,710.9 983.4,711.0 C984.4,711.0 985.4,711.1 986.4,711.2 C987.4,711.3 988.4,711.3 989.4,711.4 C990.4,711.5 991.4,711.6 992.4,711.8 C993.4,711.9 994.4,712.0 995.4,712.1 C996.4,712.3 997.4,712.4 998.4,712.6 C999.4,712.7 1000.4,712.9 1001.4,713.0 C1002.4,713.2 1003.4,713.4 1004.4,713.5 C1005.4,713.7 1006.4,713.9 1007.4,714.1 C1008.4,714.3 1009.4,714.5 1010.4,714.7 C1011.4,714.9 1012.4,715.1 1013.4,715.3 C1014.4,715.5 1015.4,715.7 1016.4,715.9 C1017.4,716.1 1018.4,716.3 1019.4,716.5 C1020.4,716.8 1021.4,717.0 1022.4,717.2 C1023.4,717.4 1024.4,717.6 1025.4,717.9 C1026.4,718.1 1027.4,718.3 1028.4,718.6 C1029.4,718.8 1030.4,719.0 1031.4,719.3 C1032.4,719.5 1033.4,719.8 1034.4,720.0 C1035.4,720.3 1036.4,720.5 1037.4,720.7 C1038.4,721.0 1039.4,721.2 1040.4,721.5 C1041.4,721.7 1042.4,722.0 1043.4,722.2 C1044.4,722.5 1045.4,722.8 1046.4,723.0 C1047.4,723.3 1048.4,723.5 1049.4,723.8 C1050.4,724.0 1051.4,724.3 1052.4,724.6 C1053.4,724.8 1054.4,725.1 1055.4,725.3 C1056.4,725.6 1057.4,725.9 1058.4,726.1 C1059.4,726.4 1060.4,726.6 1061.4,726.9 C1062.4,727.2 1063.4,727.4 1064.4,727.7 C1065.4,727.9 1066.4,728.2 1067.4,728.5 C1068.4,728.7 1069.4,729.0 1070.4,729.2 C1071.4,729.5 1072.4,729.7 1073.4,730.0 C1074.4,730.3 1075.4,730.5 1076.4,730.8 C1077.4,731.0 1078.4,731.3 1079.4,731.5 C1080.4,731.8 1081.4,732.0 1082.4,732.3 C1083.4,732.5 1084.4,732.8 1085.4,733.0 C1086.4,733.3 1087.4,733.5 1088.4,733.8 C1089.4,734.0 1090.4,734.2 1091.4,734.5 C1092.4,734.7 1093.4,735.0 1094.4,735.2 C1095.4,735.4 1096.4,735.7 1097.4,735.9 C1098.4,736.1 1099.4,736.3 1100.4,736.6 C1101.4,736.8 1102.4,737.0 1103.4,737.2 C1104.4,737.5 1105.4,737.7 1106.4,737.9 C1107.4,738.1 1108.4,738.3 1109.4,738.5 C1110.4,738.7 1111.4,738.9 1112.4,739.1 C1113.4,739.3 1114.4,739.5 1115.4,739.7 C1116.4,739.9 1117.4,740.1 1118.4,740.3 C1119.4,740.4 1120.4,740.6 1121.4,740.8 C1122.4,741.0 1123.4,741.1 1124.4,741.3 C1125.4,741.5 1126.4,741.6 1127.4,741.8 C1128.4,741.9 1129.4,742.1 1130.4,742.3 C1131.4,742.4 1132.4,742.6 1133.4,742.7 C1134.4,742.9 1135.4,743.0 1136.4,743.2 C1137.4,743.3 1138.4,743.5 1139.4,743.6 C1140.4,743.8 1141.4,743.9 1142.4,744.1 C1143.4,744.2 1144.4,744.4 1145.4,744.5 C1146.4,744.7 1147.4,744.8 1148.4,745.0 C1149.4,745.1 1150.4,745.3 1151.4,745.4 C1152.4,745.6 1153.4,745.7 1154.4,745.9 C1155.4,746.0 1156.4,746.2 1157.4,746.4 C1158.4,746.5 1159.4,746.7 1160.4,746.9 C1161.4,747.1 1162.4,747.2 1163.4,747.4 C1164.4,747.6 1165.4,747.8 1166.4,748.0 C1167.4,748.2 1168.4,748.4 1169.4,748.6 C1170.4,748.8 1171.4,749.0 1172.4,749.2 C1173.4,749.4 1174.4,749.6 1175.4,749.8 C1176.4,750.1 1177.4,750.3 1178.4,750.5 C1179.4,750.8 1180.4,751.0 1181.4,751.3 C1182.4,751.5 1183.4,751.8 1184.4,752.0 C1185.4,752.3 1186.4,752.5 1187.4,752.8 C1188.4,753.1 1189.4,753.3 1190.4,753.6 C1191.4,753.9 1192.4,754.1 1193.4,754.4 C1194.4,754.7 1195.4,755.0 1196.4,755.3 C1197.4,755.5 1198.4,755.8 1199.4,756.1 C1200.4,756.4 1201.4,756.7 1202.4,757.0 C1203.4,757.2 1204.4,757.5 1205.4,757.8 C1206.4,758.1 1207.4,758.4 1208.4,758.7 C1209.4,759.0 1210.4,759.2 1211.4,759.5 C1212.4,759.8 1213.4,760.1 1214.4,760.4 C1215.4,760.7 1216.4,761.0 1217.4,761.2 C1218.4,761.5 1219.4,761.8 1220.4,762.1 C1221.4,762.3 1222.4,762.6 1223.4,762.9 C1224.4,763.2 1225.4,763.4 1226.4,763.7 C1227.4,764.0 1228.4,764.2 1229.4,764.5 C1230.4,764.7 1231.4,765.0 1232.4,765.2 C1233.4,765.5 1234.4,765.7 1235.4,766.0 C1236.4,766.2 1237.4,766.5 1238.4,766.7 C1239.4,766.9 1240.4,767.1 1241.4,767.4 C1242.4,767.6 1243.4,767.8 1244.4,768.0 C1245.4,768.2 1246.4,768.4 1247.4,768.6 C1248.4,768.8 1249.4,769.0 1250.4,769.1 C1251.4,769.3 1252.4,769.5 1253.4,769.6 C1254.4,769.8 1255.4,770.0 1256.4,770.1 C1257.4,770.2 1258.5,770.4 1259.4,770.5 C1260.3,770.6 1261.6,770.8 1262.0,770.8" fill="none" stroke="#d8d890" stroke-width="1.5" stroke-linecap="butt" stroke-linejoin="round" />
<path d="M704.4,570.6 C704.9,571.7 706.4,575.3 707.4,577.6 C708.4,579.9 709.4,582.2 710.4,584.4 C711.4,586.6 712.4,588.8 713.4,590.9 C714.4,593.0 715.4,595.1 716.4,597.2 C717.4,599.2 718.4,601.2 719.4,603.2 C720.4,605.2 721.4,607.1 722.4,609.0 C723.4,610.8 724.4,612.7 725.4,614.5 C726.4,616.3 727.4,618.1 728.4,619.8 C729.4,621.5 730.4,623.2 731.4,624.9 C732.4,626.5 733.4,628.1 734.4,629.7 C735.4,631.3 736.4,632.8 737.4,634.3 C738.4,635.8 739.4,637.3 740.4,638.8 C741.4,640.2 742.4,641.6 743.4,643.0 C744.4,644.3 745.4,645.7 746.4,647.0 C747.4,648.3 748.4,649.6 749.4,650.8 C750.4,652.0 751.4,653.2 752.4,654.4 C753.4,655.6 754.4,656.7 755.4,657.9 C756.4,659.0 757.4,660.1 758.4,661.1 C759.4,662.2 760.4,663.2 761.4,664.2 C762.4,665.2 763.4,666.2 764.4,667.1 C765.4,668.1 766.4,669.0 767.4,669.9 C768.4,670.7 769.4,671.6 770.4,672.4 C771.4,673.3 772.4,674.1 773.4,674.9 C774.4,675.7 775.4,676.4 776.4,677.2 C777.4,677.9 778.4,678.6 779.4,679.3 C780.4,680.0 781.4,680.7 782.4,681.3 C783.4,682.0 784.4,682.6 785.4,683.2 C786.4,683.8 787.4,684.4 788.4,685.0 C789.4,685.5 790.4,686.1 791.4,686.6 C792.4,687.1 793.4,687.6 794.4,688.1 C795.4,688.6 796.4,689.1 797.4,689.5 C798.4,690.0 799.4,690.4 800.4,690.8 C801.4,691.2 802.4,691.6 803.4,692.0 C804.4,692.4 805.4,692.8 806.4,693.1 C807.4,693.5 808.4,693.8 809.4,694.1 C810.4,694.5 811.4,694.8 812.4,695.1 C813.4,695.4 814.4,695.7 815.4,695.9 C816.4,696.2 817.4,696.5 818.4,696.7 C819.4,697.0 820.4,697.2 821.4,697.4 C822.4,697.7 823.4,697.9 824.4,698.1 C825.4,698.3 826.4,698.5 827.4,698.7 C828.4,698.9 829.4,699.1 830.4,699.2 C831.4,699.4 832.4,699.6 833.4,699.7 C834.4,699.9 835.4,700.0 836.4,700.2 C837.4,700.3 838.4,700.5 839.4,700.6 C840.4,700.7 841.4,700.9 842.4,701.0 C843.4,701.1 844.4,701.2 845.4,701.3 C846.4,701.4 847.4,701.5 848.4,701.6 C849.4,701.7 850.4,701.8 851.4,701.9 C852.4,702.0 853.4,702.1 854.4,702.2 C855.4,702.2 856.4,702.3 857.4,702.4 C858.4,702.4 859.4,702.5 860.4,702.6 C861.4,702.6 862.4,702.7 863.4,702.7 C864.4,702.8 865.4,702.8 866.4,702.9 C867.4,702.9 868.4,702.9 869.4,703.0 C870.4,703.0 871.4,703.0 872.4,703.0 C873.4,703.1 874.4,703.1 875.4,703.1 C876.4,703.1 877.4,703.1 878.4,703.1 C879.4,703.1 880.4,703.2 881.4,703.2 C882.4,703.2 883.4,703.2 884.4,703.2 C885.4,703.2 886.4,703.1 887.4,703.1 C888.4,703.1 889.4,703.1 890.4,703.1 C891.4,703.1 892.4,703.1 893.4,703.1 C894.4,703.0 895.4,703.0 896.4,703.0 C897.4,703.0 898.4,703.0 899.4,702.9 C900.4,702.9 901.4,702.9 902.4,702.9 C903.4,702.8 904.4,702.8 905.4,702.8 C906.4,702.7 907.4,702.7 908.4,702.7 C909.4,702.6 910.4,702.6 911.4,702.6 C912.4,702.5 913.4,702.5 914.4,702.5 C915.4,702.4 916.4,702.4 917.4,702.4 C918.4,702.3 919.4,702.3 920.4,702.3 C921.4,702.2 922.4,702.2 923.4,702.1 C924.4,702.1 925.4,702.1 926.4,702.0 C927.4,702.0 928.4,702.0 929.4,701.9 C930.4,701.9 931.4,701.9 932.4,701.8 C933.4,701.8 934.4,701.8 935.4,701.7 C936.4,701.7 937.4,701.7 938.4,701.7 C939.4,701.6 940.4,701.6 941.4,701.6 C942.4,701.6 943.4,701.5 944.4,701.5 C945.4,701.5 946.4,701.5 947.4,701.5 C948.4,701.4 949.4,701.4 950.4,701.4 C951.4,701.4 952.4,701.4 953.4,701.4 C954.4,701.4 955.4,701.3 956.4,701.3 C957.4,701.3 958.4,701.3 959.4,701.3 C960.4,701.3 961.4,701.3 962.4,701.3 C963.4,701.3 964.4,701.3 965.4,701.3 C966.4,701.3 967.4,701.3 968.4,701.3 C969.4,701.4 970.4,701.4 971.4,701.4 C972.4,701.4 973.4,701.4 974.4,701.4 C975.4,701.4 976.4,701.5 977.4,701.5 C978.4,701.5 979.4,701.5 980.4,701.6 C981.4,701.6 982.4,701.6 983.4,701.6 C984.4,701.7 985.4,701.7 986.4,701.7 C987.4,701.8 988.4,701.8 989.4,701.9 C990.4,701.9 991.4,701.9 992.4,702.0 C993.4,702.0 994.4,702.1 995.4,702.1 C996.4,702.2 997.4,702.2 998.4,702.3 C999.4,702.4 1000.4,702.4 1001.4,702.5 C1002.4,702.6 1003.4,702.6 1004.4,702.7 C1005.4,702.8 1006.4,702.8 1007.4,702.9 C1008.4,703.0 1009.4,703.1 1010.4,703.1 C1011.4,703.2 1012.4,703.3 1013.4,703.4 C1014.4,703.5 1015.4,703.6 1016.4,703.7 C1017.4,703.8 1018.4,703.9 1019.4,704.0 C1020.4,704.1 1021.4,704.2 1022.4,704.3 C1023.4,704.4 1024.4,704.5 1025.4,704.6 C1026.4,704.7 1027.4,704.8 1028.4,704.9 C1029.4,705.1 1030.4,705.2 1031.4,705.3 C1032.4,705.4 1033.4,705.6 1034.4,705.7 C1035.4,705.8 1036.4,706.0 1037.4,706.1 C1038.4,706.2 1039.4,706.4 1040.4,706.5 C1041.4,706.7 1042.4,706.8 1043.4,707.0 C1044.4,707.2 1045.4,707.3 1046.4,707.5 C1047.4,707.6 1048.4,707.8 1049.4,708.0 C1050.4,708.1 1051.4,708.3 1052.4,708.5 C1053.4,708.7 1054.4,708.9 1055.4,709.0 C1056.4,709.2 1057.4,709.4 1058.4,709.6 C1059.4,709.8 1060.4,710.0 1061.4,710.2 C1062.4,710.4 1063.4,710.6 1064.4,710.8 C1065.4,711.0 1066.4,711.3 1067.4,711.5 C1068.4,711.7 1069.4,711.9 1070.4,712.1 C1071.4,712.4 1072.4,712.6 1073.4,712.8 C1074.4,713.1 1075.4,713.3 1076.4,713.6 C1077.4,713.8 1078.4,714.0 1079.4,714.3 C1080.4,714.5 1081.4,714.8 1082.4,715.0 C1083.4,715.3 1084.4,715.6 1085.4,715.8 C1086.4,716.1 1087.4,716.3 1088.4,716.6 C1089.4,716.9 1090.4,717.1 1091.4,717.4 C1092.4,717.7 1093.4,717.9 1094.4,718.2 C1095.4,718.5 1096.4,718.7 1097.4,719.0 C1098.4,719.3 1099.4,719.5 1100.4,719.8 C1101.4,720.1 1102.4,720.3 1103.4,720.6 C1104.4,720.9 1105.4,721.1 1106.4,721.4 C1107.4,721.7 1108.4,721.9 1109.4,722.2 C1110.4,722.5 1111.4,722.7 1112.4,723.0 C1113.4,723.3 1114.4,723.5 1115.4,723.8 C1116.4,724.0 1117.4,724.3 1118.4,724.6 C1119.4,724.8 1120.4,725.1 1121.4,725.3 C1122.4,725.6 1123.4,725.8 1124.4,726.1 C1125.4,726.3 1126.4,726.5 1127.4,726.8 C1128.4,727.0 1129.4,727.2 1130.4,727.5 C1131.4,727.7 1132.4,727.9 1133.4,728.1 C1134.4,728.4 1135.4,728.6 1136.4,728.8 C1137.4,729.0 1138.4,729.2 1139.4,729.4 C1140.4,729.6 1141.4,729.8 1142.4,730.0 C1143.4,730.2 1144.4,730.4 1145.4,730.6 C1146.4,730.7 1147.4,730.9 1148.4,731.1 C1149.4,731.2 1150.4,731.4 1151.4,731.6 C1152.4,731.7 1153.4,731.9 1154.4,732.0 C1155.4,732.2 1156.4,732.3 1157.4,732.4 C1158.4,732.6 1159.4,732.7 1160.4,732.8 C1161.4,733.0 1162.4,733.1 1163.4,733.2 C1164.4,733.3 1165.4,733.4 1166.4,733.5 C1167.4,733.7 1168.4,733.8 1169.4,733.9 C1170.4,734.0 1171.4,734.1 1172.4,734.2 C1173.4,734.3 1174.4,734.4 1175.4,734.4 C1176.4,734.5 1177.4,734.6 1178.4,734.7 C1179.4,734.8 1180.4,734.9 1181.4,735.0 C1182.4,735.1 1183.4,735.1 1184.4,735.2 C1185.4,735.3 1186.4,735.4 1187.4,735.5 C1188.4,735.5 1189.4,735.6 1190.4,735.7 C1191.4,735.8 1192.4,735.8 1193.4,735.9 C1194.4,736.0 1195.4,736.1 1196.4,736.1 C1197.4,736.2 1198.4,736.3 1199.4,736.4 C1200.4,736.4 1201.4,736.5 1202.4,736.6 C1203.4,736.7 1204.4,736.7 1205.4,736.8 C1206.4,736.9 1207.4,737.0 1208.4,737.1 C1209.4,737.1 1210.4,737.2 1211.4,737.3 C1212.4,737.4 1213.4,737.5 1214.4,737.6 C1215.4,737.7 1216.4,737.7 1217.4,737.8 C1218.4,737.9 1219.4,738.0 1220.4,738.1 C1221.4,738.2 1222.4,738.3 1223.4,738.4 C1224.4,738.5 1225.4,738.7 1226.4,738.8 C1227.4,738.9 1228.4,739.0 1229.4,739.1 C1230.4,739.2 1231.4,739.4 1232.4,739.5 C1233.4,739.6 1234.4,739.8 1235.4,739.9 C1236.4,740.0 1237.4,740.2 1238.4,740.3 C1239.4,740.5 1240.4,740.6 1241.4,740.8 C1242.4,741.0 1243.4,741.1 1244.4,741.3 C1245.4,741.5 1246.8,741.7 1247.4,741.8 C1248.0,741.9 1247.9,741.9 1248.0,741.9" fill="none" stroke="#98c498" stroke-width="1.6" stroke-linecap="butt" stroke-linejoin="round" />
<path d="M704.4,570.3 C704.9,571.6 706.4,575.4 707.4,577.9 C708.4,580.4 709.4,582.9 710.4,585.2 C711.4,587.6 712.4,589.9 713.4,592.2 C714.4,594.5 715.4,596.7 716.4,598.9 C717.4,601.0 718.4,603.2 719.4,605.2 C720.4,607.3 721.4,609.3 722.4,611.3 C723.4,613.2 724.4,615.2 725.4,617.0 C726.4,618.9 727.4,620.7 728.4,622.5 C729.4,624.3 730.4,626.0 731.4,627.7 C732.4,629.4 733.4,631.1 734.4,632.7 C735.4,634.3 736.4,635.9 737.4,637.4 C738.4,638.9 739.4,640.4 740.4,641.8 C741.4,643.3 742.4,644.7 743.4,646.1 C744.4,647.4 745.4,648.8 746.4,650.1 C747.4,651.4 748.4,652.6 749.4,653.8 C750.4,655.1 751.4,656.2 752.4,657.4 C753.4,658.6 754.4,659.7 755.4,660.8 C756.4,661.9 757.4,662.9 758.4,664.0 C759.4,665.0 760.4,666.0 761.4,667.0 C762.4,667.9 763.4,668.9 764.4,669.8 C765.4,670.7 766.4,671.6 767.4,672.4 C768.4,673.3 769.4,674.1 770.4,674.9 C771.4,675.7 772.4,676.5 773.4,677.3 C774.4,678.0 775.4,678.8 776.4,679.5 C777.4,680.2 778.4,680.9 779.4,681.5 C780.4,682.2 781.4,682.8 782.4,683.5 C783.4,684.1 784.4,684.7 785.4,685.3 C786.4,685.9 787.4,686.4 788.4,687.0 C789.4,687.5 790.4,688.1 791.4,688.6 C792.4,689.1 793.4,689.6 794.4,690.1 C795.4,690.5 796.4,691.0 797.4,691.5 C798.4,691.9 799.4,692.3 800.4,692.8 C801.4,693.2 802.4,693.6 803.4,694.0 C804.4,694.4 805.4,694.8 806.4,695.2 C807.4,695.6 808.4,695.9 809.4,696.3 C810.4,696.6 811.4,697.0 812.4,697.3 C813.4,697.7 814.4,698.0 815.4,698.3 C816.4,698.7 817.4,699.0 818.4,699.3 C819.4,699.6 820.4,699.9 821.4,700.2 C822.4,700.5 823.4,700.8 824.4,701.1 C825.4,701.3 826.4,701.6 827.4,701.9 C828.4,702.1 829.4,702.4 830.4,702.6 C831.4,702.9 832.4,703.1 833.4,703.4 C834.4,703.6 835.4,703.8 836.4,704.1 C837.4,704.3 838.4,704.5 839.4,704.7 C840.4,704.9 841.4,705.1 842.4,705.3 C843.4,705.5 844.4,705.7 845.4,705.9 C846.4,706.1 847.4,706.3 848.4,706.4 C849.4,706.6 850.4,706.8 851.4,706.9 C852.4,707.1 853.4,707.3 854.4,707.4 C855.4,707.6 856.4,707.7 857.4,707.9 C858.4,708.0 859.4,708.1 860.4,708.3 C861.4,708.4 862.4,708.5 863.4,708.7 C864.4,708.8 865.4,708.9 866.4,709.0 C867.4,709.1 868.4,709.2 869.4,709.3 C870.4,709.4 871.4,709.5 872.4,709.6 C873.4,709.7 874.4,709.8 875.4,709.9 C876.4,710.0 877.4,710.1 878.4,710.1 C879.4,710.2 880.4,710.3 881.4,710.3 C882.4,710.4 883.4,710.5 884.4,710.5 C885.4,710.6 886.4,710.7 887.4,710.7 C888.4,710.8 889.4,710.8 890.4,710.8 C891.4,710.9 892.4,710.9 893.4,711.0 C894.4,711.0 895.4,711.0 896.4,711.1 C897.4,711.1 898.4,711.1 899.4,711.1 C900.4,711.2 901.4,711.2 902.4,711.2 C903.4,711.2 904.4,711.2 905.4,711.2 C906.4,711.2 907.4,711.2 908.4,711.2 C909.4,711.2 910.4,711.2 911.4,711.2 C912.4,711.2 913.4,711.2 914.4,711.2 C915.4,711.2 916.4,711.2 917.4,711.2 C918.4,711.2 919.4,711.1 920.4,711.1 C921.4,711.1 922.4,711.1 923.4,711.0 C924.4,711.0 925.4,711.0 926.4,711.0 C927.4,710.9 928.4,710.9 929.4,710.9 C930.4,710.8 931.4,710.8 932.4,710.7 C933.4,710.7 934.4,710.7 935.4,710.6 C936.4,710.6 937.4,710.5 938.4,710.5 C939.4,710.4 940.4,710.4 941.4,710.3 C942.4,710.3 943.4,710.2 944.4,710.2 C945.4,710.1 946.4,710.0 947.4,710.0 C948.4,709.9 949.4,709.9 950.4,709.8 C951.4,709.8 952.4,709.7 953.4,709.6 C954.4,709.6 955.4,709.5 956.4,709.5 C957.4,709.4 958.4,709.4 959.4,709.3 C960.4,709.2 961.4,709.2 962.4,709.1 C963.4,709.1 964.4,709.0 965.4,709.0 C966.4,708.9 967.4,708.9 968.4,708.8 C969.4,708.8 970.4,708.8 971.4,708.7 C972.4,708.7 973.4,708.7 974.4,708.6 C975.4,708.6 976.4,708.6 977.4,708.5 C978.4,708.5 979.4,708.5 980.4,708.5 C981.4,708.5 982.4,708.5 983.4,708.4 C984.4,708.4 985.4,708.4 986.4,708.4 C987.4,708.5 988.4,708.5 989.4,708.5 C990.4,708.5 991.4,708.5 992.4,708.5 C993.4,708.6 994.4,708.6 995.4,708.6 C996.4,708.7 997.4,708.7 998.4,708.8 C999.4,708.8 1000.4,708.9 1001.4,709.0 C1002.4,709.0 1003.4,709.1 1004.4,709.2 C1005.4,709.3 1006.4,709.3 1007.4,709.4 C1008.4,709.5 1009.4,709.6 1010.4,709.7 C1011.4,709.8 1012.4,709.9 1013.4,710.0 C1014.4,710.1 1015.4,710.3 1016.4,710.4 C1017.4,710.5 1018.4,710.6 1019.4,710.8 C1020.4,710.9 1021.4,711.0 1022.4,711.2 C1023.4,711.3 1024.4,711.5 1025.4,711.6 C1026.4,711.8 1027.4,711.9 1028.4,712.1 C1029.4,712.3 1030.4,712.4 1031.4,712.6 C1032.4,712.8 1033.4,713.0 1034.4,713.2 C1035.4,713.3 1036.4,713.5 1037.4,713.7 C1038.4,713.9 1039.4,714.1 1040.4,714.3 C1041.4,714.5 1042.4,714.7 1043.4,715.0 C1044.4,715.2 1045.4,715.4 1046.4,715.6 C1047.4,715.8 1048.4,716.1 1049.4,716.3 C1050.4,716.5 1051.4,716.8 1052.4,717.0 C1053.4,717.2 1054.4,717.5 1055.4,717.7 C1056.4,718.0 1057.4,718.2 1058.4,718.5 C1059.4,718.7 1060.4,719.0 1061.4,719.2 C1062.4,719.5 1063.4,719.8 1064.4,720.0 C1065.4,720.3 1066.4,720.6 1067.4,720.8 C1068.4,721.1 1069.4,721.4 1070.4,721.7 C1071.4,721.9 1072.4,722.2 1073.4,722.5 C1074.4,722.8 1075.4,723.0 1076.4,723.3 C1077.4,723.6 1078.4,723.9 1079.4,724.2 C1080.4,724.5 1081.4,724.7 1082.4,725.0 C1083.4,725.3 1084.4,725.6 1085.4,725.9 C1086.4,726.2 1087.4,726.5 1088.4,726.8 C1089.4,727.1 1090.4,727.3 1091.4,727.6 C1092.4,727.9 1093.4,728.2 1094.4,728.5 C1095.4,728.8 1096.4,729.1 1097.4,729.4 C1098.4,729.7 1099.4,730.0 1100.4,730.2 C1101.4,730.5 1102.4,730.8 1103.4,731.1 C1104.4,731.4 1105.4,731.7 1106.4,732.0 C1107.4,732.3 1108.4,732.5 1109.4,732.8 C1110.4,733.1 1111.4,733.4 1112.4,733.7 C1113.4,733.9 1114.4,734.2 1115.4,734.5 C1116.4,734.8 1117.4,735.0 1118.4,735.3 C1119.4,735.6 1120.4,735.9 1121.4,736.1 C1122.4,736.4 1123.4,736.6 1124.4,736.9 C1125.4,737.2 1126.4,737.4 1127.4,737.7 C1128.4,737.9 1129.4,738.2 1130.4,738.4 C1131.4,738.7 1132.4,738.9 1133.4,739.2 C1134.4,739.4 1135.4,739.6 1136.4,739.9 C1137.4,740.1 1138.4,740.3 1139.4,740.6 C1140.4,740.8 1141.4,741.0 1142.4,741.2 C1143.4,741.4 1144.4,741.6 1145.4,741.8 C1146.4,742.1 1147.4,742.3 1148.4,742.4 C1149.4,742.6 1150.4,742.8 1151.4,743.0 C1152.4,743.2 1153.4,743.4 1154.4,743.6 C1155.4,743.7 1156.4,743.9 1157.4,744.1 C1158.4,744.3 1159.4,744.4 1160.4,744.6 C1161.4,744.7 1162.4,744.9 1163.4,745.1 C1164.4,745.2 1165.4,745.4 1166.4,745.5 C1167.4,745.7 1168.4,745.8 1169.4,745.9 C1170.4,746.1 1171.4,746.2 1172.4,746.4 C1173.4,746.5 1174.4,746.6 1175.4,746.8 C1176.4,746.9 1177.4,747.0 1178.4,747.1 C1179.4,747.3 1180.4,747.4 1181.4,747.5 C1182.4,747.6 1183.4,747.8 1184.4,747.9 C1185.4,748.0 1186.4,748.1 1187.4,748.2 C1188.4,748.3 1189.4,748.5 1190.4,748.6 C1191.4,748.7 1192.4,748.8 1193.4,748.9 C1194.4,749.0 1195.4,749.1 1196.4,749.2 C1197.4,749.3 1198.4,749.4 1199.4,749.6 C1200.4,749.7 1201.4,749.8 1202.4,749.9 C1203.4,750.0 1204.4,750.1 1205.4,750.2 C1206.4,750.3 1207.4,750.4 1208.4,750.5 C1209.4,750.6 1210.4,750.7 1211.4,750.8 C1212.4,750.9 1213.4,751.1 1214.4,751.2 C1215.4,751.3 1216.4,751.4 1217.4,751.5 C1218.4,751.6 1219.4,751.7 1220.4,751.8 C1221.4,751.9 1222.4,752.1 1223.4,752.2 C1224.4,752.3 1225.4,752.4 1226.4,752.5 C1227.4,752.7 1228.4,752.8 1229.4,752.9 C1230.4,753.0 1231.4,753.2 1232.4,753.3 C1233.4,753.4 1234.4,753.5 1235.4,753.7 C1236.4,753.8 1237.4,753.9 1238.4,754.1 C1239.4,754.2 1240.4,754.4 1241.4,754.5 C1242.4,754.7 1243.4,754.8 1244.4,755.0 C1245.4,755.1 1246.4,755.3 1247.4,755.4 C1248.4,755.6 1249.4,755.7 1250.4,755.9 C1251.4,756.1 1252.7,756.3 1253.4,756.4 C1254.1,756.5 1254.3,756.6 1254.5,756.6" fill="none" stroke="#8888cc" stroke-width="1.6" stroke-linecap="butt" stroke-linejoin="round" />
<path d="M704.4,570.8 C704.9,572.2 706.4,576.1 707.4,578.7 C708.4,581.3 709.4,583.8 710.4,586.2 C711.4,588.7 712.4,591.1 713.4,593.4 C714.4,595.8 715.4,598.1 716.4,600.3 C717.4,602.6 718.4,604.7 719.4,606.9 C720.4,609.0 721.4,611.1 722.4,613.2 C723.4,615.2 724.4,617.2 725.4,619.1 C726.4,621.1 727.4,623.0 728.4,624.8 C729.4,626.7 730.4,628.5 731.4,630.3 C732.4,632.0 733.4,633.8 734.4,635.5 C735.4,637.1 736.4,638.8 737.4,640.4 C738.4,642.0 739.4,643.5 740.4,645.1 C741.4,646.6 742.4,648.0 743.4,649.5 C744.4,650.9 745.4,652.3 746.4,653.6 C747.4,654.9 748.4,656.2 749.4,657.4 C750.4,658.7 751.4,659.9 752.4,661.0 C753.4,662.2 754.4,663.3 755.4,664.3 C756.4,665.3 757.4,666.3 758.4,667.3 C759.4,668.3 760.4,669.2 761.4,670.1 C762.4,670.9 763.4,671.8 764.4,672.6 C765.4,673.4 766.4,674.2 767.4,675.0 C768.4,675.8 769.4,676.6 770.4,677.4 C771.4,678.1 772.4,678.8 773.4,679.6 C774.4,680.3 775.4,681.0 776.4,681.7 C777.4,682.4 778.4,683.1 779.4,683.7 C780.4,684.4 781.4,685.0 782.4,685.7 C783.4,686.3 784.4,686.9 785.4,687.5 C786.4,688.1 787.4,688.7 788.4,689.3 C789.4,689.8 790.4,690.4 791.4,690.9 C792.4,691.5 793.4,692.0 794.4,692.5 C795.4,693.0 796.4,693.5 797.4,694.0 C798.4,694.5 799.4,695.0 800.4,695.5 C801.4,695.9 802.4,696.4 803.4,696.8 C804.4,697.3 805.4,697.7 806.4,698.1 C807.4,698.5 808.4,698.9 809.4,699.3 C810.4,699.7 811.4,700.1 812.4,700.4 C813.4,700.8 814.4,701.2 815.4,701.5 C816.4,701.9 817.4,702.2 818.4,702.5 C819.4,702.9 820.4,703.2 821.4,703.5 C822.4,703.8 823.4,704.1 824.4,704.4 C825.4,704.7 826.4,704.9 827.4,705.2 C828.4,705.5 829.4,705.7 830.4,706.0 C831.4,706.2 832.4,706.5 833.4,706.7 C834.4,706.9 835.4,707.2 836.4,707.4 C837.4,707.6 838.4,707.8 839.4,708.0 C840.4,708.2 841.4,708.4 842.4,708.6 C843.4,708.8 844.4,708.9 845.4,709.1 C846.4,709.3 847.4,709.4 848.4,709.6 C849.4,709.8 850.4,709.9 851.4,710.0 C852.4,710.2 853.4,710.3 854.4,710.5 C855.4,710.6 856.4,710.7 857.4,710.8 C858.4,711.0 859.4,711.1 860.4,711.2 C861.4,711.3 862.4,711.4 863.4,711.5 C864.4,711.6 865.4,711.7 866.4,711.8 C867.4,711.9 868.4,712.0 869.4,712.1 C870.4,712.1 871.4,712.2 872.4,712.3 C873.4,712.4 874.4,712.4 875.4,712.5 C876.4,712.6 877.4,712.7 878.4,712.7 C879.4,712.8 880.4,712.8 881.4,712.9 C882.4,713.0 883.4,713.0 884.4,713.1 C885.4,713.1 886.4,713.2 887.4,713.2 C888.4,713.3 889.4,713.3 890.4,713.3 C891.4,713.4 892.4,713.4 893.4,713.5 C894.4,713.5 895.4,713.5 896.4,713.5 C897.4,713.6 898.4,713.6 899.4,713.6 C900.4,713.6 901.4,713.7 902.4,713.7 C903.4,713.7 904.4,713.7 905.4,713.7 C906.4,713.7 907.4,713.7 908.4,713.7 C909.4,713.7 910.4,713.7 911.4,713.7 C912.4,713.7 913.4,713.7 914.4,713.7 C915.4,713.7 916.4,713.7 917.4,713.6 C918.4,713.6 919.4,713.6 920.4,713.6 C921.4,713.5 922.4,713.5 923.4,713.5 C924.4,713.4 925.4,713.4 926.4,713.4 C927.4,713.3 928.4,713.3 929.4,713.2 C930.4,713.2 931.4,713.1 932.4,713.1 C933.4,713.0 934.4,712.9 935.4,712.9 C936.4,712.8 937.4,712.7 938.4,712.7 C939.4,712.6 940.4,712.5 941.4,712.4 C942.4,712.4 943.4,712.3 944.4,712.2 C945.4,712.1 946.4,712.0 947.4,711.9 C948.4,711.8 949.4,711.7 950.4,711.7 C951.4,711.6 952.4,711.5 953.4,711.4 C954.4,711.3 955.4,711.2 956.4,711.1 C957.4,711.0 958.4,711.0 959.4,710.9 C960.4,710.8 961.4,710.7 962.4,710.7 C963.4,710.6 964.4,710.5 965.4,710.5 C966.4,710.4 967.4,710.4 968.4,710.3 C969.4,710.3 970.4,710.2 971.4,710.2 C972.4,710.2 973.4,710.2 974.4,710.2 C975.4,710.1 976.4,710.1 977.4,710.2 C978.4,710.2 979.4,710.2 980.4,710.2 C981.4,710.3 982.4,710.3 983.4,710.4 C984.4,710.4 985.4,710.5 986.4,710.6 C987.4,710.7 988.4,710.7 989.4,710.8 C990.4,710.9 991.4,711.0 992.4,711.2 C993.4,711.3 994.4,711.4 995.4,711.5 C996.4,711.7 997.4,711.8 998.4,712.0 C999.4,712.1 1000.4,712.3 1001.4,712.4 C1002.4,712.6 1003.4,712.8 1004.4,712.9 C1005.4,713.1 1006.4,713.3 1007.4,713.5 C1008.4,713.7 1009.4,713.9 1010.4,714.1 C1011.4,714.3 1012.4,714.5 1013.4,714.7 C1014.4,714.9 1015.4,715.1 1016.4,715.3 C1017.4,715.5 1018.4,715.7 1019.4,715.9 C1020.4,716.2 1021.4,716.4 1022.4,716.6 C1023.4,716.8 1024.4,717.0 1025.4,717.3 C1026.4,717.5 1027.4,717.7 1028.4,718.0 C1029.4,718.2 1030.4,718.4 1031.4,718.7 C1032.4,718.9 1033.4,719.2 1034.4,719.4 C1035.4,719.7 1036.4,719.9 1037.4,720.1 C1038.4,720.4 1039.4,720.6 1040.4,720.9 C1041.4,721.1 1042.4,721.4 1043.4,721.6 C1044.4,721.9 1045.4,722.2 1046.4,722.4 C1047.4,722.7 1048.4,722.9 1049.4,723.2 C1050.4,723.4 1051.4,723.7 1052.4,724.0 C1053.4,724.2 1054.4,724.5 1055.4,724.7 C1056.4,725.0 1057.4,725.3 1058.4,725.5 C1059.4,725.8 1060.4,726.0 1061.4,726.3 C1062.4,726.6 1063.4,726.8 1064.4,727.1 C1065.4,727.3 1066.4,727.6 1067.4,727.9 C1068.4,728.1 1069.4,728.4 1070.4,728.6 C1071.4,728.9 1072.4,729.1 1073.4,729.4 C1074.4,729.7 1075.4,729.9 1076.4,730.2 C1077.4,730.4 1078.4,730.7 1079.4,730.9 C1080.4,731.2 1081.4,731.4 1082.4,731.7 C1083.4,731.9 1084.4,732.2 1085.4,732.4 C1086.4,732.7 1087.4,732.9 1088.4,733.2 C1089.4,733.4 1090.4,733.6 1091.4,733.9 C1092.4,734.1 1093.4,734.4 1094.4,734.6 C1095.4,734.8 1096.4,735.1 1097.4,735.3 C1098.4,735.5 1099.4,735.7 1100.4,736.0 C1101.4,736.2 1102.4,736.4 1103.4,736.6 C1104.4,736.9 1105.4,737.1 1106.4,737.3 C1107.4,737.5 1108.4,737.7 1109.4,737.9 C1110.4,738.1 1111.4,738.3 1112.4,738.5 C1113.4,738.7 1114.4,738.9 1115.4,739.1 C1116.4,739.3 1117.4,739.5 1118.4,739.7 C1119.4,739.8 1120.4,740.0 1121.4,740.2 C1122.4,740.4 1123.4,740.5 1124.4,740.7 C1125.4,740.9 1126.4,741.0 1127.4,741.2 C1128.4,741.3 1129.4,741.5 1130.4,741.7 C1131.4,741.8 1132.4,742.0 1133.4,742.1 C1134.4,742.3 1135.4,742.4 1136.4,742.6 C1137.4,742.7 1138.4,742.9 1139.4,743.0 C1140.4,743.2 1141.4,743.3 1142.4,743.5 C1143.4,743.6 1144.4,743.8 1145.4,743.9 C1146.4,744.1 1147.4,744.2 1148.4,744.4 C1149.4,744.5 1150.4,744.7 1151.4,744.8 C1152.4,745.0 1153.4,745.1 1154.4,745.3 C1155.4,745.4 1156.4,745.6 1157.4,745.8 C1158.4,745.9 1159.4,746.1 1160.4,746.3 C1161.4,746.5 1162.4,746.6 1163.4,746.8 C1164.4,747.0 1165.4,747.2 1166.4,747.4 C1167.4,747.6 1168.4,747.8 1169.4,748.0 C1170.4,748.2 1171.4,748.4 1172.4,748.6 C1173.4,748.8 1174.4,749.0 1175.4,749.2 C1176.4,749.5 1177.4,749.7 1178.4,749.9 C1179.4,750.2 1180.4,750.4 1181.4,750.7 C1182.4,750.9 1183.4,751.2 1184.4,751.4 C1185.4,751.7 1186.4,751.9 1187.4,752.2 C1188.4,752.5 1189.4,752.7 1190.4,753.0 C1191.4,753.3 1192.4,753.5 1193.4,753.8 C1194.4,754.1 1195.4,754.4 1196.4,754.7 C1197.4,754.9 1198.4,755.2 1199.4,755.5 C1200.4,755.8 1201.4,756.1 1202.4,756.4 C1203.4,756.6 1204.4,756.9 1205.4,757.2 C1206.4,757.5 1207.4,757.8 1208.4,758.1 C1209.4,758.4 1210.4,758.6 1211.4,758.9 C1212.4,759.2 1213.4,759.5 1214.4,759.8 C1215.4,760.1 1216.4,760.4 1217.4,760.6 C1218.4,760.9 1219.4,761.2 1220.4,761.5 C1221.4,761.7 1222.4,762.0 1223.4,762.3 C1224.4,762.6 1225.4,762.8 1226.4,763.1 C1227.4,763.4 1228.4,763.6 1229.4,763.9 C1230.4,764.1 1231.4,764.4 1232.4,764.6 C1233.4,764.9 1234.4,765.1 1235.4,765.4 C1236.4,765.6 1237.4,765.9 1238.4,766.1 C1239.4,766.3 1240.4,766.5 1241.4,766.8 C1242.4,767.0 1243.4,767.2 1244.4,767.4 C1245.4,767.6 1246.4,767.8 1247.4,768.0 C1248.4,768.2 1249.4,768.4 1250.4,768.5 C1251.4,768.7 1252.4,768.9 1253.4,769.0 C1254.4,769.2 1255.4,769.4 1256.4,769.5 C1257.4,769.6 1258.5,769.8 1259.4,769.9 C1260.3,770.0 1261.6,770.2 1262.0,770.2" fill="none" stroke="#e08888" stroke-width="1.8" stroke-linecap="butt" stroke-linejoin="round" />
<path d="M704.4,569.6 C704.9,571.0 706.4,574.9 707.4,577.5 C708.4,580.1 709.4,582.6 710.4,585.0 C711.4,587.5 712.4,589.9 713.4,592.2 C714.4,594.6 715.4,596.9 716.4,599.1 C717.4,601.4 718.4,603.5 719.4,605.7 C720.4,607.8 721.4,609.9 722.4,612.0 C723.4,614.0 724.4,616.0 725.4,617.9 C726.4,619.9 727.4,621.8 728.4,623.6 C729.4,625.5 730.4,627.3 731.4,629.1 C732.4,630.8 733.4,632.6 734.4,634.3 C735.4,635.9 736.4,637.6 737.4,639.2 C738.4,640.8 739.4,642.3 740.4,643.9 C741.4,645.4 742.4,646.8 743.4,648.3 C744.4,649.7 745.4,651.1 746.4,652.4 C747.4,653.7 748.4,655.0 749.4,656.2 C750.4,657.5 751.4,658.7 752.4,659.8 C753.4,661.0 754.4,662.1 755.4,663.1 C756.4,664.1 757.4,665.1 758.4,666.1 C759.4,667.1 760.4,668.0 761.4,668.9 C762.4,669.7 763.4,670.6 764.4,671.4 C765.4,672.2 766.4,673.0 767.4,673.8 C768.4,674.6 769.4,675.4 770.4,676.2 C771.4,676.9 772.4,677.6 773.4,678.4 C774.4,679.1 775.4,679.8 776.4,680.5 C777.4,681.2 778.4,681.9 779.4,682.5 C780.4,683.2 781.4,683.8 782.4,684.5 C783.4,685.1 784.4,685.7 785.4,686.3 C786.4,686.9 787.4,687.5 788.4,688.1 C789.4,688.6 790.4,689.2 791.4,689.7 C792.4,690.3 793.4,690.8 794.4,691.3 C795.4,691.8 796.4,692.3 797.4,692.8 C798.4,693.3 799.4,693.8 800.4,694.3 C801.4,694.7 802.4,695.2 803.4,695.6 C804.4,696.1 805.4,696.5 806.4,696.9 C807.4,697.3 808.4,697.7 809.4,698.1 C810.4,698.5 811.4,698.9 812.4,699.2 C813.4,699.6 814.4,700.0 815.4,700.3 C816.4,700.7 817.4,701.0 818.4,701.3 C819.4,701.7 820.4,702.0 821.4,702.3 C822.4,702.6 823.4,702.9 824.4,703.2 C825.4,703.5 826.4,703.7 827.4,704.0 C828.4,704.3 829.4,704.5 830.4,704.8 C831.4,705.0 832.4,705.3 833.4,705.5 C834.4,705.7 835.4,706.0 836.4,706.2 C837.4,706.4 838.4,706.6 839.4,706.8 C840.4,707.0 841.4,707.2 842.4,707.4 C843.4,707.6 844.4,707.7 845.4,707.9 C846.4,708.1 847.4,708.2 848.4,708.4 C849.4,708.6 850.4,708.7 851.4,708.8 C852.4,709.0 853.4,709.1 854.4,709.3 C855.4,709.4 856.4,709.5 857.4,709.6 C858.4,709.8 859.4,709.9 860.4,710.0 C861.4,710.1 862.4,710.2 863.4,710.3 C864.4,710.4 865.4,710.5 866.4,710.6 C867.4,710.7 868.4,710.8 869.4,710.9 C870.4,710.9 871.4,711.0 872.4,711.1 C873.4,711.2 874.4,711.2 875.4,711.3 C876.4,711.4 877.4,711.5 878.4,711.5 C879.4,711.6 880.4,711.6 881.4,711.7 C882.4,711.8 883.4,711.8 884.4,711.9 C885.4,711.9 886.4,712.0 887.4,712.0 C888.4,712.1 889.4,712.1 890.4,712.1 C891.4,712.2 892.4,712.2 893.4,712.3 C894.4,712.3 895.4,712.3 896.4,712.3 C897.4,712.4 898.4,712.4 899.4,712.4 C900.4,712.4 901.4,712.5 902.4,712.5 C903.4,712.5 904.4,712.5 905.4,712.5 C906.4,712.5 907.4,712.5 908.4,712.5 C909.4,712.5 910.4,712.5 911.4,712.5 C912.4,712.5 913.4,712.5 914.4,712.5 C915.4,712.5 916.4,712.5 917.4,712.4 C918.4,712.4 919.4,712.4 920.4,712.4 C921.4,712.3 922.4,712.3 923.4,712.3 C924.4,712.2 925.4,712.2 926.4,712.2 C927.4,712.1 928.4,712.1 929.4,712.0 C930.4,712.0 931.4,711.9 932.4,711.9 C933.4,711.8 934.4,711.7 935.4,711.7 C936.4,711.6 937.4,711.5 938.4,711.5 C939.4,711.4 940.4,711.3 941.4,711.2 C942.4,711.2 943.4,711.1 944.4,711.0 C945.4,710.9 946.4,710.8 947.4,710.7 C948.4,710.6 949.4,710.5 950.4,710.5 C951.4,710.4 952.4,710.3 953.4,710.2 C954.4,710.1 955.4,710.0 956.4,709.9 C957.4,709.8 958.4,709.8 959.4,709.7 C960.4,709.6 961.4,709.5 962.4,709.5 C963.4,709.4 964.4,709.3 965.4,709.3 C966.4,709.2 967.4,709.2 968.4,709.1 C969.4,709.1 970.4,709.0 971.4,709.0 C972.4,709.0 973.4,709.0 974.4,709.0 C975.4,708.9 976.4,708.9 977.4,709.0 C978.4,709.0 979.4,709.0 980.4,709.0 C981.4,709.1 982.4,709.1 983.4,709.2 C984.4,709.2 985.4,709.3 986.4,709.4 C987.4,709.5 988.4,709.5 989.4,709.6 C990.4,709.7 991.4,709.8 992.4,710.0 C993.4,710.1 994.4,710.2 995.4,710.3 C996.4,710.5 997.4,710.6 998.4,710.8 C999.4,710.9 1000.4,711.1 1001.4,711.2 C1002.4,711.4 1003.4,711.6 1004.4,711.7 C1005.4,711.9 1006.4,712.1 1007.4,712.3 C1008.4,712.5 1009.4,712.7 1010.4,712.9 C1011.4,713.1 1012.4,713.3 1013.4,713.5 C1014.4,713.7 1015.4,713.9 1016.4,714.1 C1017.4,714.3 1018.4,714.5 1019.4,714.7 C1020.4,715.0 1021.4,715.2 1022.4,715.4 C1023.4,715.6 1024.4,715.8 1025.4,716.1 C1026.4,716.3 1027.4,716.5 1028.4,716.8 C1029.4,717.0 1030.4,717.2 1031.4,717.5 C1032.4,717.7 1033.4,718.0 1034.4,718.2 C1035.4,718.5 1036.4,718.7 1037.4,718.9 C1038.4,719.2 1039.4,719.4 1040.4,719.7 C1041.4,719.9 1042.4,720.2 1043.4,720.4 C1044.4,720.7 1045.4,721.0 1046.4,721.2 C1047.4,721.5 1048.4,721.7 1049.4,722.0 C1050.4,722.2 1051.4,722.5 1052.4,722.8 C1053.4,723.0 1054.4,723.3 1055.4,723.5 C1056.4,723.8 1057.4,724.1 1058.4,724.3 C1059.4,724.6 1060.4,724.8 1061.4,725.1 C1062.4,725.4 1063.4,725.6 1064.4,725.9 C1065.4,726.1 1066.4,726.4 1067.4,726.7 C1068.4,726.9 1069.4,727.2 1070.4,727.4 C1071.4,727.7 1072.4,727.9 1073.4,728.2 C1074.4,728.5 1075.4,728.7 1076.4,729.0 C1077.4,729.2 1078.4,729.5 1079.4,729.7 C1080.4,730.0 1081.4,730.2 1082.4,730.5 C1083.4,730.7 1084.4,731.0 1085.4,731.2 C1086.4,731.5 1087.4,731.7 1088.4,732.0 C1089.4,732.2 1090.4,732.4 1091.4,732.7 C1092.4,732.9 1093.4,733.2 1094.4,733.4 C1095.4,733.6 1096.4,733.9 1097.4,734.1 C1098.4,734.3 1099.4,734.5 1100.4,734.8 C1101.4,735.0 1102.4,735.2 1103.4,735.4 C1104.4,735.7 1105.4,735.9 1106.4,736.1 C1107.4,736.3 1108.4,736.5 1109.4,736.7 C1110.4,736.9 1111.4,737.1 1112.4,737.3 C1113.4,737.5 1114.4,737.7 1115.4,737.9 C1116.4,738.1 1117.4,738.3 1118.4,738.5 C1119.4,738.6 1120.4,738.8 1121.4,739.0 C1122.4,739.2 1123.4,739.3 1124.4,739.5 C1125.4,739.7 1126.4,739.8 1127.4,740.0 C1128.4,740.1 1129.4,740.3 1130.4,740.5 C1131.4,740.6 1132.4,740.8 1133.4,740.9 C1134.4,741.1 1135.4,741.2 1136.4,741.4 C1137.4,741.5 1138.4,741.7 1139.4,741.8 C1140.4,742.0 1141.4,742.1 1142.4,742.3 C1143.4,742.4 1144.4,742.6 1145.4,742.7 C1146.4,742.9 1147.4,743.0 1148.4,743.2 C1149.4,743.3 1150.4,743.5 1151.4,743.6 C1152.4,743.8 1153.4,743.9 1154.4,744.1 C1155.4,744.2 1156.4,744.4 1157.4,744.6 C1158.4,744.7 1159.4,744.9 1160.4,745.1 C1161.4,745.3 1162.4,745.4 1163.4,745.6 C1164.4,745.8 1165.4,746.0 1166.4,746.2 C1167.4,746.4 1168.4,746.6 1169.4,746.8 C1170.4,747.0 1171.4,747.2 1172.4,747.4 C1173.4,747.6 1174.4,747.8 1175.4,748.0 C1176.4,748.3 1177.4,748.5 1178.4,748.7 C1179.4,749.0 1180.4,749.2 1181.4,749.5 C1182.4,749.7 1183.4,750.0 1184.4,750.2 C1185.4,750.5 1186.4,750.7 1187.4,751.0 C1188.4,751.3 1189.4,751.5 1190.4,751.8 C1191.4,752.1 1192.4,752.3 1193.4,752.6 C1194.4,752.9 1195.4,753.2 1196.4,753.5 C1197.4,753.7 1198.4,754.0 1199.4,754.3 C1200.4,754.6 1201.4,754.9 1202.4,755.2 C1203.4,755.4 1204.4,755.7 1205.4,756.0 C1206.4,756.3 1207.4,756.6 1208.4,756.9 C1209.4,757.2 1210.4,757.4 1211.4,757.7 C1212.4,758.0 1213.4,758.3 1214.4,758.6 C1215.4,758.9 1216.4,759.2 1217.4,759.4 C1218.4,759.7 1219.4,760.0 1220.4,760.3 C1221.4,760.5 1222.4,760.8 1223.4,761.1 C1224.4,761.4 1225.4,761.6 1226.4,761.9 C1227.4,762.2 1228.4,762.4 1229.4,762.7 C1230.4,762.9 1231.4,763.2 1232.4,763.4 C1233.4,763.7 1234.4,763.9 1235.4,764.2 C1236.4,764.4 1237.4,764.7 1238.4,764.9 C1239.4,765.1 1240.4,765.3 1241.4,765.6 C1242.4,765.8 1243.4,766.0 1244.4,766.2 C1245.4,766.4 1246.4,766.6 1247.4,766.8 C1248.4,767.0 1249.4,767.2 1250.4,767.3 C1251.4,767.5 1252.4,767.7 1253.4,767.8 C1254.4,768.0 1255.4,768.2 1256.4,768.3 C1257.4,768.4 1258.5,768.6 1259.4,768.7 C1260.3,768.8 1261.6,769.0 1262.0,769.0" fill="none" stroke="#cc80c8" stroke-width="1.8" stroke-linecap="butt" stroke-linejoin="round" />
<ellipse cx="751.6" cy="663.4" rx="8.6" ry="13.2" fill="none" stroke="#3a3a3a" stroke-width="2.6" pathLength="66" stroke-dasharray="0 2.5 6.5 4.5 6 6 15 6 6 4.5 6.5 2.5"/>
<ellipse cx="839.0" cy="710.6" rx="8.6" ry="13.2" fill="none" stroke="#3a3a3a" stroke-width="2.6" pathLength="66" stroke-dasharray="0 2.5 6.5 4.5 6 6 15 6 6 4.5 6.5 2.5"/>
<ellipse cx="1026.4" cy="713.6" rx="8.6" ry="13.2" fill="none" stroke="#3a3a3a" stroke-width="2.6" pathLength="66" stroke-dasharray="0 2.5 6.5 4.5 6 6 15 6 6 4.5 6.5 2.5"/>
<ellipse cx="1117.4" cy="733.5" rx="8.6" ry="13.2" fill="none" stroke="#3a3a3a" stroke-width="2.6" pathLength="66" stroke-dasharray="0 2.5 6.5 4.5 6 6 15 6 6 4.5 6.5 2.5"/>
<ellipse cx="1227.6" cy="754" rx="8.8" ry="17.2" fill="none" stroke="#333" stroke-width="2.6" pathLength="84" stroke-dasharray="7 3.5" stroke-dashoffset="3.5"/>
<rect x="1148.8" y="502" width="106.7" height="170.6" rx="1.5" fill="#fff" stroke="#8a8a8a" stroke-width="1.8"/>
<line x1="1161" y1="517.7" x2="1188.1" y2="517.7" stroke="#88c088" stroke-width="2.2"/>
<text x="1207.2" y="525.1" font-family='"Liberation Sans", sans-serif' font-size="19.0" text-anchor="start" fill="#333" stroke="#333" stroke-width="0.35">3C/2</text>
<line x1="1161" y1="545.5" x2="1188.1" y2="545.5" stroke="#7878c0" stroke-width="2.2"/>
<text x="1207.2" y="552.9" font-family='"Liberation Sans", sans-serif' font-size="19.0" text-anchor="start" fill="#333" stroke="#333" stroke-width="0.35">1C</text>
<line x1="1161" y1="573.3" x2="1188.1" y2="573.3" stroke="#c880d0" stroke-width="2.2"/>
<text x="1207.2" y="580.7" font-family='"Liberation Sans", sans-serif' font-size="19.0" text-anchor="start" fill="#333" stroke="#333" stroke-width="0.35">2C/3</text>
<line x1="1161" y1="601.1" x2="1188.1" y2="601.1" stroke="#e07070" stroke-width="2.2"/>
<text x="1207.2" y="608.5" font-family='"Liberation Sans", sans-serif' font-size="19.0" text-anchor="start" fill="#333" stroke="#333" stroke-width="0.35">C/2</text>
<line x1="1161" y1="628.9" x2="1188.1" y2="628.9" stroke="#80c8c8" stroke-width="2.2"/>
<text x="1207.2" y="636.3" font-family='"Liberation Sans", sans-serif' font-size="19.0" text-anchor="start" fill="#333" stroke="#333" stroke-width="0.35">C/3</text>
<line x1="1161" y1="656.7" x2="1188.1" y2="656.7" stroke="#d0d080" stroke-width="2.2"/>
<text x="1207.2" y="664.1" font-family='"Liberation Sans", sans-serif' font-size="19.0" text-anchor="start" fill="#333" stroke="#333" stroke-width="0.35">C/5</text>
</svg>
</body></html>
